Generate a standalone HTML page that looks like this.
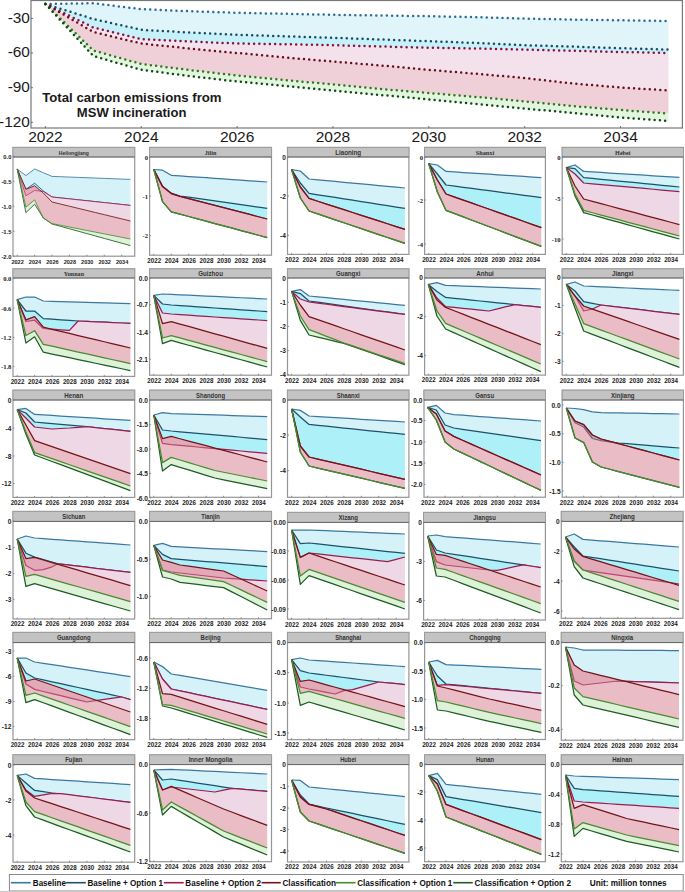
<!DOCTYPE html>
<html><head><meta charset="utf-8"><title>MSW incineration carbon emissions</title>
<style>
html,body{margin:0;padding:0;background:#fff;}
body{width:685px;height:892px;overflow:hidden;font-family:"Liberation Sans",sans-serif;}
svg{display:block;}
</style></head><body>
<svg width="685" height="892" viewBox="0 0 685 892">
<rect width="685" height="892" fill="#fff"/>
<path d="M45.4 4 L93.33 3.2 L141.26 9.2 L189.19 11.2 L237.12 12.8 L285.05 13.8 L332.98 14.8 L380.91 15.5 L428.84 16.2 L476.77 17.2 L524.7 18.6 L572.63 19.6 L620.56 20.3 L668.49 21 L668.49 49.6 L620.56 48.2 L572.63 46.6 L524.7 45.2 L476.77 43 L428.84 41.2 L380.91 39.5 L332.98 37.8 L285.05 36.3 L237.12 34.8 L189.19 32.5 L141.26 29.8 L93.33 19 L45.4 4Z" fill="#e0f5fa"/>
<path d="M45.4 4 L93.33 19 L141.26 29.8 L189.19 32.5 L237.12 34.8 L285.05 36.3 L332.98 37.8 L380.91 39.5 L428.84 41.2 L476.77 43 L524.7 45.2 L572.63 46.6 L620.56 48.2 L668.49 49.6 L668.49 53 L620.56 52 L572.63 50.8 L524.7 49.6 L476.77 48.5 L428.84 47.7 L380.91 46.5 L332.98 45.2 L285.05 44.2 L237.12 43.5 L189.19 41.5 L141.26 39.2 L93.33 27.5 L45.4 4Z" fill="#c6f1f9"/>
<path d="M45.4 4 L93.33 27.5 L141.26 39.2 L189.19 41.5 L237.12 43.5 L285.05 44.2 L332.98 45.2 L380.91 46.5 L428.84 47.7 L476.77 48.5 L524.7 49.6 L572.63 50.8 L620.56 52 L668.49 53 L668.49 90.4 L620.56 87.5 L572.63 83.5 L524.7 78 L476.77 73.8 L428.84 69.8 L380.91 65.5 L332.98 61.5 L285.05 57.5 L237.12 53 L189.19 48.5 L141.26 43.5 L93.33 32 L45.4 4Z" fill="#f3e1ec"/>
<path d="M45.4 4 L93.33 32 L141.26 43.5 L189.19 48.5 L237.12 53 L285.05 57.5 L332.98 61.5 L380.91 65.5 L428.84 69.8 L476.77 73.8 L524.7 78 L572.63 83.5 L620.56 87.5 L668.49 90.4 L668.49 113.6 L620.56 110 L572.63 106 L524.7 101.5 L476.77 97 L428.84 93 L380.91 89 L332.98 84.5 L285.05 80 L237.12 75.5 L189.19 70 L141.26 64 L93.33 50.5 L45.4 4Z" fill="#f0d0d8"/>
<path d="M45.4 4 L93.33 50.5 L141.26 64 L189.19 70 L237.12 75.5 L285.05 80 L332.98 84.5 L380.91 89 L428.84 93 L476.77 97 L524.7 101.5 L572.63 106 L620.56 110 L668.49 113.6 L668.49 121 L620.56 117.5 L572.63 113 L524.7 108.5 L476.77 104 L428.84 99.5 L380.91 95 L332.98 90.5 L285.05 86 L237.12 81.5 L189.19 76 L141.26 69.8 L93.33 56 L45.4 4Z" fill="#e3f5df"/>
<path d="M45.4 4 L93.33 3.2 L141.26 9.2 L189.19 11.2 L237.12 12.8 L285.05 13.8 L332.98 14.8 L380.91 15.5 L428.84 16.2 L476.77 17.2 L524.7 18.6 L572.63 19.6 L620.56 20.3 L668.49 21" fill="none" stroke="#2c6c98" stroke-width="2.5" stroke-dasharray="0 5.26" stroke-linecap="round"/>
<path d="M45.4 4 L93.33 19 L141.26 29.8 L189.19 32.5 L237.12 34.8 L285.05 36.3 L332.98 37.8 L380.91 39.5 L428.84 41.2 L476.77 43 L524.7 45.2 L572.63 46.6 L620.56 48.2 L668.49 49.6" fill="none" stroke="#1a4a66" stroke-width="2.5" stroke-dasharray="0 5.26" stroke-linecap="round"/>
<path d="M45.4 4 L93.33 27.5 L141.26 39.2 L189.19 41.5 L237.12 43.5 L285.05 44.2 L332.98 45.2 L380.91 46.5 L428.84 47.7 L476.77 48.5 L524.7 49.6 L572.63 50.8 L620.56 52 L668.49 53" fill="none" stroke="#8a1040" stroke-width="2.5" stroke-dasharray="0 5.26" stroke-linecap="round"/>
<path d="M45.4 4 L93.33 32 L141.26 43.5 L189.19 48.5 L237.12 53 L285.05 57.5 L332.98 61.5 L380.91 65.5 L428.84 69.8 L476.77 73.8 L524.7 78 L572.63 83.5 L620.56 87.5 L668.49 90.4" fill="none" stroke="#6a0c1c" stroke-width="2.5" stroke-dasharray="0 5.26" stroke-linecap="round"/>
<path d="M45.4 4 L93.33 50.5 L141.26 64 L189.19 70 L237.12 75.5 L285.05 80 L332.98 84.5 L380.91 89 L428.84 93 L476.77 97 L524.7 101.5 L572.63 106 L620.56 110 L668.49 113.6" fill="none" stroke="#2a7a1a" stroke-width="2.5" stroke-dasharray="0 5.26" stroke-linecap="round"/>
<path d="M45.4 4 L93.33 56 L141.26 69.8 L189.19 76 L237.12 81.5 L285.05 86 L332.98 90.5 L380.91 95 L428.84 99.5 L476.77 104 L524.7 108.5 L572.63 113 L620.56 117.5 L668.49 121" fill="none" stroke="#0e4a14" stroke-width="2.5" stroke-dasharray="0 5.26" stroke-linecap="round"/>
<rect x="31" y="0.5" width="651.4" height="127.5" fill="none" stroke="#777" stroke-width="1.2"/>
<line x1="31" y1="18.4" x2="33" y2="18.4" stroke="#555" stroke-width="0.8"/>
<text x="29.9" y="22.6" text-anchor="end" font-family="Liberation Sans" font-size="15.4" fill="#1a1a1a">-30</text>
<line x1="31" y1="53.0" x2="33" y2="53.0" stroke="#555" stroke-width="0.8"/>
<text x="29.9" y="57.2" text-anchor="end" font-family="Liberation Sans" font-size="15.4" fill="#1a1a1a">-60</text>
<line x1="31" y1="87.7" x2="33" y2="87.7" stroke="#555" stroke-width="0.8"/>
<text x="29.9" y="91.9" text-anchor="end" font-family="Liberation Sans" font-size="15.4" fill="#1a1a1a">-90</text>
<line x1="31" y1="122.3" x2="33" y2="122.3" stroke="#555" stroke-width="0.8"/>
<text x="29.9" y="126.5" text-anchor="end" font-family="Liberation Sans" font-size="15.4" fill="#1a1a1a">-120</text>
<line x1="45.4" y1="128" x2="45.4" y2="126" stroke="#555" stroke-width="0.8"/>
<text x="45.4" y="142.2" text-anchor="middle" font-family="Liberation Sans" font-size="15.5" fill="#1a1a1a">2022</text>
<line x1="141.26" y1="128" x2="141.26" y2="126" stroke="#555" stroke-width="0.8"/>
<text x="141.26" y="142.2" text-anchor="middle" font-family="Liberation Sans" font-size="15.5" fill="#1a1a1a">2024</text>
<line x1="237.12" y1="128" x2="237.12" y2="126" stroke="#555" stroke-width="0.8"/>
<text x="237.12" y="142.2" text-anchor="middle" font-family="Liberation Sans" font-size="15.5" fill="#1a1a1a">2026</text>
<line x1="332.98" y1="128" x2="332.98" y2="126" stroke="#555" stroke-width="0.8"/>
<text x="332.98" y="142.2" text-anchor="middle" font-family="Liberation Sans" font-size="15.5" fill="#1a1a1a">2028</text>
<line x1="428.84" y1="128" x2="428.84" y2="126" stroke="#555" stroke-width="0.8"/>
<text x="428.84" y="142.2" text-anchor="middle" font-family="Liberation Sans" font-size="15.5" fill="#1a1a1a">2030</text>
<line x1="524.7" y1="128" x2="524.7" y2="126" stroke="#555" stroke-width="0.8"/>
<text x="524.7" y="142.2" text-anchor="middle" font-family="Liberation Sans" font-size="15.5" fill="#1a1a1a">2032</text>
<line x1="620.56" y1="128" x2="620.56" y2="126" stroke="#555" stroke-width="0.8"/>
<text x="620.56" y="142.2" text-anchor="middle" font-family="Liberation Sans" font-size="15.5" fill="#1a1a1a">2034</text>
<text x="42.2" y="101.6" font-family="Liberation Sans" font-weight="bold" font-size="13" fill="#1a1a1a" textLength="179.4" lengthAdjust="spacingAndGlyphs">Total carbon emissions from</text>
<text x="76.8" y="116.8" font-family="Liberation Sans" font-weight="bold" font-size="13" fill="#1a1a1a" textLength="109.6" lengthAdjust="spacingAndGlyphs">MSW incineration</text>
<path d="M17.2 169 L25.91 175.6 L34.62 169 L43.32 172.7 L52.03 176.4 L60.74 176.73 L69.45 177.07 L78.15 177.4 L86.86 177.73 L95.57 178.07 L104.28 178.4 L112.98 178.73 L121.69 179.07 L130.4 179.4 L130.4 205.4 L121.69 204.47 L112.98 203.53 L104.28 202.6 L95.57 201.67 L86.86 200.73 L78.15 199.8 L69.45 198.87 L60.74 197.93 L52.03 197 L43.32 191 L34.62 183.2 L25.91 189.3 L17.2 169Z" fill="#abe5f1" fill-opacity="0.5"/>
<path d="M17.2 169 L25.91 175.6 L34.62 169 L43.32 172.7 L52.03 176.4 L60.74 176.73 L69.45 177.07 L78.15 177.4 L86.86 177.73 L95.57 178.07 L104.28 178.4 L112.98 178.73 L121.69 179.07 L130.4 179.4" fill="none" stroke="#3a78a0" stroke-width="0.85" stroke-linejoin="round"/>
<path d="M17.2 169 L25.91 189.3 L34.62 183.2 L43.32 191 L52.03 197 L60.74 197.93 L69.45 198.87 L78.15 199.8 L86.86 200.73 L95.57 201.67 L104.28 202.6 L112.98 203.53 L121.69 204.47 L130.4 205.4 L130.4 205.4 L121.69 204.47 L112.98 203.53 L104.28 202.6 L95.57 201.67 L86.86 200.73 L78.15 199.8 L69.45 198.87 L60.74 197.93 L52.03 197 L43.32 191.4 L34.62 190.5 L25.91 195.8 L17.2 169Z" fill="#5de1f1" fill-opacity="0.5"/>
<path d="M17.2 169 L25.91 189.3 L34.62 183.2 L43.32 191 L52.03 197 L60.74 197.93 L69.45 198.87 L78.15 199.8 L86.86 200.73 L95.57 201.67 L104.28 202.6 L112.98 203.53 L121.69 204.47 L130.4 205.4" fill="none" stroke="#1e5068" stroke-width="0.85" stroke-linejoin="round"/>
<path d="M17.2 169 L25.91 195.8 L34.62 190.5 L43.32 191.4 L52.03 197 L60.74 197.93 L69.45 198.87 L78.15 199.8 L86.86 200.73 L95.57 201.67 L104.28 202.6 L112.98 203.53 L121.69 204.47 L130.4 205.4 L130.4 221 L121.69 218.89 L112.98 216.78 L104.28 214.67 L95.57 212.56 L86.86 210.44 L78.15 208.33 L69.45 206.22 L60.74 204.11 L52.03 202 L43.32 193 L34.62 185.8 L25.91 189.3 L17.2 169Z" fill="#eed8e6"/>
<path d="M17.2 169 L25.91 195.8 L34.62 190.5 L43.32 191.4 L52.03 197 L60.74 197.93 L69.45 198.87 L78.15 199.8 L86.86 200.73 L95.57 201.67 L104.28 202.6 L112.98 203.53 L121.69 204.47 L130.4 205.4" fill="none" stroke="#9c1a50" stroke-width="0.85" stroke-linejoin="round"/>
<path d="M17.2 169 L25.91 189.3 L34.62 185.8 L43.32 193 L52.03 202 L60.74 204.11 L69.45 206.22 L78.15 208.33 L86.86 210.44 L95.57 212.56 L104.28 214.67 L112.98 216.78 L121.69 218.89 L130.4 221 L130.4 239 L121.69 237.29 L112.98 235.58 L104.28 233.87 L95.57 232.16 L86.86 230.44 L78.15 228.73 L69.45 227.02 L60.74 225.31 L52.03 223.6 L43.32 218 L34.62 199.9 L25.91 207.2 L17.2 169Z" fill="#d5798b" fill-opacity="0.5"/>
<path d="M17.2 169 L25.91 189.3 L34.62 185.8 L43.32 193 L52.03 202 L60.74 204.11 L69.45 206.22 L78.15 208.33 L86.86 210.44 L95.57 212.56 L104.28 214.67 L112.98 216.78 L121.69 218.89 L130.4 221" fill="none" stroke="#741418" stroke-width="0.85" stroke-linejoin="round"/>
<path d="M17.2 169 L25.91 207.2 L34.62 199.9 L43.32 218 L52.03 223.6 L60.74 225.31 L69.45 227.02 L78.15 228.73 L86.86 230.44 L95.57 232.16 L104.28 233.87 L112.98 235.58 L121.69 237.29 L130.4 239 L130.4 245.6 L121.69 243.2 L112.98 240.8 L104.28 238.4 L95.57 236 L86.86 233.6 L78.15 231.2 L69.45 228.8 L60.74 226.4 L52.03 224 L43.32 218 L34.62 204.2 L25.91 212.7 L17.2 169Z" fill="#bbe5b1" fill-opacity="0.5"/>
<path d="M17.2 169 L25.91 212.7 L34.62 204.2 L43.32 218 L52.03 224 L60.74 226.4 L69.45 228.8 L78.15 231.2 L86.86 233.6 L95.57 236 L104.28 238.4 L112.98 240.8 L121.69 243.2 L130.4 245.6" fill="none" stroke="#1e5c24" stroke-width="0.85" stroke-linejoin="round"/>
<path d="M17.2 169 L25.91 207.2 L34.62 199.9 L43.32 218 L52.03 223.6 L60.74 225.31 L69.45 227.02 L78.15 228.73 L86.86 230.44 L95.57 232.16 L104.28 233.87 L112.98 235.58 L121.69 237.29 L130.4 239" fill="none" stroke="#4a8a30" stroke-width="0.85" stroke-linejoin="round"/>
<rect x="13" y="147.4" width="121.7" height="108.8" fill="none" stroke="#959595" stroke-width="1.2"/>
<rect x="13" y="147.4" width="121.7" height="9.6" fill="#c3c3c3" stroke="#9a9a9a" stroke-width="0.8"/>
<line x1="13" y1="157" x2="134.7" y2="157" stroke="#666" stroke-width="1"/>
<text x="73.85" y="154.8" text-anchor="middle" font-family="Liberation Sans" font-weight="bold" font-size="6" fill="#333" textLength="30.1" lengthAdjust="spacingAndGlyphs">Heilongjiang</text>
<line x1="13" y1="156.2" x2="14.5" y2="156.2" stroke="#777" stroke-width="0.8"/>
<text x="11.4" y="159" text-anchor="end" font-family="Liberation Sans" font-weight="bold" font-size="5.8" fill="#222">0.0</text>
<line x1="13" y1="181.2" x2="14.5" y2="181.2" stroke="#777" stroke-width="0.8"/>
<text x="11.4" y="184" text-anchor="end" font-family="Liberation Sans" font-weight="bold" font-size="5.8" fill="#222">-0.5</text>
<line x1="13" y1="206.2" x2="14.5" y2="206.2" stroke="#777" stroke-width="0.8"/>
<text x="11.4" y="209" text-anchor="end" font-family="Liberation Sans" font-weight="bold" font-size="5.8" fill="#222">-1.0</text>
<line x1="13" y1="231.3" x2="14.5" y2="231.3" stroke="#777" stroke-width="0.8"/>
<text x="11.4" y="234.1" text-anchor="end" font-family="Liberation Sans" font-weight="bold" font-size="5.8" fill="#222">-1.5</text>
<line x1="13" y1="256.2" x2="14.5" y2="256.2" stroke="#777" stroke-width="0.8"/>
<text x="11.4" y="259" text-anchor="end" font-family="Liberation Sans" font-weight="bold" font-size="5.8" fill="#222">-2.0</text>
<line x1="17.2" y1="256.2" x2="17.2" y2="254.7" stroke="#777" stroke-width="0.8"/>
<text x="17.6" y="263.5" text-anchor="middle" font-family="Liberation Sans" font-weight="bold" font-size="6.2" fill="#222" textLength="12.3" lengthAdjust="spacingAndGlyphs">2022</text>
<line x1="34.62" y1="256.2" x2="34.62" y2="254.7" stroke="#777" stroke-width="0.8"/>
<text x="35.02" y="263.5" text-anchor="middle" font-family="Liberation Sans" font-weight="bold" font-size="6.2" fill="#222" textLength="12.3" lengthAdjust="spacingAndGlyphs">2024</text>
<line x1="52.03" y1="256.2" x2="52.03" y2="254.7" stroke="#777" stroke-width="0.8"/>
<text x="52.43" y="263.5" text-anchor="middle" font-family="Liberation Sans" font-weight="bold" font-size="6.2" fill="#222" textLength="12.3" lengthAdjust="spacingAndGlyphs">2026</text>
<line x1="69.45" y1="256.2" x2="69.45" y2="254.7" stroke="#777" stroke-width="0.8"/>
<text x="69.85" y="263.5" text-anchor="middle" font-family="Liberation Sans" font-weight="bold" font-size="6.2" fill="#222" textLength="12.3" lengthAdjust="spacingAndGlyphs">2028</text>
<line x1="86.86" y1="256.2" x2="86.86" y2="254.7" stroke="#777" stroke-width="0.8"/>
<text x="87.26" y="263.5" text-anchor="middle" font-family="Liberation Sans" font-weight="bold" font-size="6.2" fill="#222" textLength="12.3" lengthAdjust="spacingAndGlyphs">2030</text>
<line x1="104.28" y1="256.2" x2="104.28" y2="254.7" stroke="#777" stroke-width="0.8"/>
<text x="104.68" y="263.5" text-anchor="middle" font-family="Liberation Sans" font-weight="bold" font-size="6.2" fill="#222" textLength="12.3" lengthAdjust="spacingAndGlyphs">2032</text>
<line x1="121.69" y1="256.2" x2="121.69" y2="254.7" stroke="#777" stroke-width="0.8"/>
<text x="122.09" y="263.5" text-anchor="middle" font-family="Liberation Sans" font-weight="bold" font-size="6.2" fill="#222" textLength="12.3" lengthAdjust="spacingAndGlyphs">2034</text>
<path d="M153.8 169.5 L162.52 170.2 L171.25 175.3 L179.97 175.91 L188.69 176.52 L197.42 177.13 L206.14 177.74 L214.86 178.35 L223.58 178.95 L232.31 179.56 L241.03 180.17 L249.75 180.78 L258.48 181.39 L267.2 182 L267.2 208.4 L258.48 207.16 L249.75 205.92 L241.03 204.68 L232.31 203.44 L223.58 202.2 L214.86 200.96 L206.14 199.72 L197.42 198.48 L188.69 197.24 L179.97 196 L171.25 193.2 L162.52 186.3 L153.8 169.5Z" fill="#abe5f1" fill-opacity="0.5"/>
<path d="M153.8 169.5 L162.52 170.2 L171.25 175.3 L179.97 175.91 L188.69 176.52 L197.42 177.13 L206.14 177.74 L214.86 178.35 L223.58 178.95 L232.31 179.56 L241.03 180.17 L249.75 180.78 L258.48 181.39 L267.2 182" fill="none" stroke="#3a78a0" stroke-width="1.25" stroke-linejoin="round"/>
<path d="M153.8 169.5 L162.52 186.3 L171.25 193.2 L179.97 196 L188.69 197.24 L197.42 198.48 L206.14 199.72 L214.86 200.96 L223.58 202.2 L232.31 203.44 L241.03 204.68 L249.75 205.92 L258.48 207.16 L267.2 208.4 L267.2 219 L258.48 216.73 L249.75 214.46 L241.03 212.19 L232.31 209.92 L223.58 207.65 L214.86 205.38 L206.14 203.11 L197.42 200.84 L188.69 198.57 L179.97 196.3 L171.25 193.6 L162.52 186.6 L153.8 169.5Z" fill="#5de1f1" fill-opacity="0.5"/>
<path d="M153.8 169.5 L162.52 186.3 L171.25 193.2 L179.97 196 L188.69 197.24 L197.42 198.48 L206.14 199.72 L214.86 200.96 L223.58 202.2 L232.31 203.44 L241.03 204.68 L249.75 205.92 L258.48 207.16 L267.2 208.4" fill="none" stroke="#1e5068" stroke-width="1.25" stroke-linejoin="round"/>
<path d="M153.8 169.5 L162.52 186.6 L171.25 193.6 L179.97 196.3 L188.69 198.57 L197.42 200.84 L206.14 203.11 L214.86 205.38 L223.58 207.65 L232.31 209.92 L241.03 212.19 L249.75 214.46 L258.48 216.73 L267.2 219 L267.2 219 L258.48 216.73 L249.75 214.46 L241.03 212.19 L232.31 209.92 L223.58 207.65 L214.86 205.38 L206.14 203.11 L197.42 200.84 L188.69 198.57 L179.97 196.3 L171.25 193.6 L162.52 186.6 L153.8 169.5Z" fill="#eed8e6"/>
<path d="M153.8 169.5 L162.52 186.6 L171.25 193.6 L179.97 196.3 L188.69 198.57 L197.42 200.84 L206.14 203.11 L214.86 205.38 L223.58 207.65 L232.31 209.92 L241.03 212.19 L249.75 214.46 L258.48 216.73 L267.2 219" fill="none" stroke="#9c1a50" stroke-width="1.25" stroke-linejoin="round"/>
<path d="M153.8 169.5 L162.52 186.6 L171.25 193.6 L179.97 196.3 L188.69 198.57 L197.42 200.84 L206.14 203.11 L214.86 205.38 L223.58 207.65 L232.31 209.92 L241.03 212.19 L249.75 214.46 L258.48 216.73 L267.2 219 L267.2 237.6 L258.48 235.25 L249.75 232.91 L241.03 230.56 L232.31 228.22 L223.58 225.87 L214.86 223.53 L206.14 221.18 L197.42 218.84 L188.69 216.49 L179.97 214.15 L171.25 211.8 L162.52 201.6 L153.8 169.5Z" fill="#d5798b" fill-opacity="0.5"/>
<path d="M153.8 169.5 L162.52 186.6 L171.25 193.6 L179.97 196.3 L188.69 198.57 L197.42 200.84 L206.14 203.11 L214.86 205.38 L223.58 207.65 L232.31 209.92 L241.03 212.19 L249.75 214.46 L258.48 216.73 L267.2 219" fill="none" stroke="#741418" stroke-width="1.25" stroke-linejoin="round"/>
<path d="M153.8 169.5 L162.52 201.6 L171.25 211.8 L179.97 214.15 L188.69 216.49 L197.42 218.84 L206.14 221.18 L214.86 223.53 L223.58 225.87 L232.31 228.22 L241.03 230.56 L249.75 232.91 L258.48 235.25 L267.2 237.6 L267.2 237.6 L258.48 235.25 L249.75 232.91 L241.03 230.56 L232.31 228.22 L223.58 225.87 L214.86 223.53 L206.14 221.18 L197.42 218.84 L188.69 216.49 L179.97 214.15 L171.25 211.8 L162.52 201.6 L153.8 169.5Z" fill="#bbe5b1" fill-opacity="0.5"/>
<path d="M153.8 169.5 L162.52 201.6 L171.25 211.8 L179.97 214.15 L188.69 216.49 L197.42 218.84 L206.14 221.18 L214.86 223.53 L223.58 225.87 L232.31 228.22 L241.03 230.56 L249.75 232.91 L258.48 235.25 L267.2 237.6" fill="none" stroke="#1e5c24" stroke-width="1.25" stroke-linejoin="round"/>
<path d="M153.8 169.5 L162.52 201.6 L171.25 211.8 L179.97 214.15 L188.69 216.49 L197.42 218.84 L206.14 221.18 L214.86 223.53 L223.58 225.87 L232.31 228.22 L241.03 230.56 L249.75 232.91 L258.48 235.25 L267.2 237.6" fill="none" stroke="#4a8a30" stroke-width="1.25" stroke-linejoin="round"/>
<rect x="149.6" y="147.4" width="121.9" height="107.8" fill="none" stroke="#959595" stroke-width="1.2"/>
<rect x="149.6" y="147.4" width="121.9" height="9.6" fill="#c3c3c3" stroke="#9a9a9a" stroke-width="0.8"/>
<line x1="149.6" y1="157" x2="271.5" y2="157" stroke="#666" stroke-width="1"/>
<text x="210.55" y="154.8" text-anchor="middle" font-family="Liberation Serif" font-weight="bold" font-size="6.6" fill="#333" textLength="11.6" lengthAdjust="spacingAndGlyphs">Jilin</text>
<line x1="149.6" y1="157" x2="151.1" y2="157" stroke="#777" stroke-width="0.8"/>
<text x="148" y="159.8" text-anchor="end" font-family="Liberation Serif" font-weight="bold" font-size="6.6" fill="#222">0</text>
<line x1="149.6" y1="196" x2="151.1" y2="196" stroke="#777" stroke-width="0.8"/>
<text x="148" y="198.8" text-anchor="end" font-family="Liberation Serif" font-weight="bold" font-size="6.6" fill="#222">-1</text>
<line x1="149.6" y1="235.6" x2="151.1" y2="235.6" stroke="#777" stroke-width="0.8"/>
<text x="148" y="238.4" text-anchor="end" font-family="Liberation Serif" font-weight="bold" font-size="6.6" fill="#222">-2</text>
<line x1="153.8" y1="255.2" x2="153.8" y2="253.7" stroke="#777" stroke-width="0.8"/>
<text x="154.2" y="262.5" text-anchor="middle" font-family="Liberation Sans" font-weight="bold" font-size="7.6" fill="#222" textLength="13.9" lengthAdjust="spacingAndGlyphs">2022</text>
<line x1="171.25" y1="255.2" x2="171.25" y2="253.7" stroke="#777" stroke-width="0.8"/>
<text x="171.65" y="262.5" text-anchor="middle" font-family="Liberation Sans" font-weight="bold" font-size="7.6" fill="#222" textLength="13.9" lengthAdjust="spacingAndGlyphs">2024</text>
<line x1="188.69" y1="255.2" x2="188.69" y2="253.7" stroke="#777" stroke-width="0.8"/>
<text x="189.09" y="262.5" text-anchor="middle" font-family="Liberation Sans" font-weight="bold" font-size="7.6" fill="#222" textLength="13.9" lengthAdjust="spacingAndGlyphs">2026</text>
<line x1="206.14" y1="255.2" x2="206.14" y2="253.7" stroke="#777" stroke-width="0.8"/>
<text x="206.54" y="262.5" text-anchor="middle" font-family="Liberation Sans" font-weight="bold" font-size="7.6" fill="#222" textLength="13.9" lengthAdjust="spacingAndGlyphs">2028</text>
<line x1="223.58" y1="255.2" x2="223.58" y2="253.7" stroke="#777" stroke-width="0.8"/>
<text x="223.98" y="262.5" text-anchor="middle" font-family="Liberation Sans" font-weight="bold" font-size="7.6" fill="#222" textLength="13.9" lengthAdjust="spacingAndGlyphs">2030</text>
<line x1="241.03" y1="255.2" x2="241.03" y2="253.7" stroke="#777" stroke-width="0.8"/>
<text x="241.43" y="262.5" text-anchor="middle" font-family="Liberation Sans" font-weight="bold" font-size="7.6" fill="#222" textLength="13.9" lengthAdjust="spacingAndGlyphs">2032</text>
<line x1="258.48" y1="255.2" x2="258.48" y2="253.7" stroke="#777" stroke-width="0.8"/>
<text x="258.88" y="262.5" text-anchor="middle" font-family="Liberation Sans" font-weight="bold" font-size="7.6" fill="#222" textLength="13.9" lengthAdjust="spacingAndGlyphs">2034</text>
<path d="M291.6 169.6 L300.32 171 L309.03 179 L317.75 179.82 L326.46 180.64 L335.18 181.45 L343.89 182.27 L352.61 183.09 L361.32 183.91 L370.04 184.73 L378.75 185.55 L387.47 186.36 L396.18 187.18 L404.9 188 L404.9 208.4 L396.18 207.04 L387.47 205.67 L378.75 204.31 L370.04 202.95 L361.32 201.58 L352.61 200.22 L343.89 198.85 L335.18 197.49 L326.46 196.13 L317.75 194.76 L309.03 193.4 L300.32 183 L291.6 169.6Z" fill="#abe5f1" fill-opacity="0.5"/>
<path d="M291.6 169.6 L300.32 171 L309.03 179 L317.75 179.82 L326.46 180.64 L335.18 181.45 L343.89 182.27 L352.61 183.09 L361.32 183.91 L370.04 184.73 L378.75 185.55 L387.47 186.36 L396.18 187.18 L404.9 188" fill="none" stroke="#3a78a0" stroke-width="1.25" stroke-linejoin="round"/>
<path d="M291.6 169.6 L300.32 183 L309.03 193.4 L317.75 194.76 L326.46 196.13 L335.18 197.49 L343.89 198.85 L352.61 200.22 L361.32 201.58 L370.04 202.95 L378.75 204.31 L387.47 205.67 L396.18 207.04 L404.9 208.4 L404.9 229.4 L396.18 226.58 L387.47 223.76 L378.75 220.95 L370.04 218.13 L361.32 215.31 L352.61 212.49 L343.89 209.67 L335.18 206.85 L326.46 204.04 L317.75 201.22 L309.03 198.4 L300.32 187 L291.6 169.6Z" fill="#5de1f1" fill-opacity="0.5"/>
<path d="M291.6 169.6 L300.32 183 L309.03 193.4 L317.75 194.76 L326.46 196.13 L335.18 197.49 L343.89 198.85 L352.61 200.22 L361.32 201.58 L370.04 202.95 L378.75 204.31 L387.47 205.67 L396.18 207.04 L404.9 208.4" fill="none" stroke="#1e5068" stroke-width="1.25" stroke-linejoin="round"/>
<path d="M291.6 169.6 L300.32 187 L309.03 198.4 L317.75 201.22 L326.46 204.04 L335.18 206.85 L343.89 209.67 L352.61 212.49 L361.32 215.31 L370.04 218.13 L378.75 220.95 L387.47 223.76 L396.18 226.58 L404.9 229.4 L404.9 229.4 L396.18 226.58 L387.47 223.76 L378.75 220.95 L370.04 218.13 L361.32 215.31 L352.61 212.49 L343.89 209.67 L335.18 206.85 L326.46 204.04 L317.75 201.22 L309.03 198.4 L300.32 187 L291.6 169.6Z" fill="#eed8e6"/>
<path d="M291.6 169.6 L300.32 187 L309.03 198.4 L317.75 201.22 L326.46 204.04 L335.18 206.85 L343.89 209.67 L352.61 212.49 L361.32 215.31 L370.04 218.13 L378.75 220.95 L387.47 223.76 L396.18 226.58 L404.9 229.4" fill="none" stroke="#9c1a50" stroke-width="1.25" stroke-linejoin="round"/>
<path d="M291.6 169.6 L300.32 187 L309.03 198.4 L317.75 201.22 L326.46 204.04 L335.18 206.85 L343.89 209.67 L352.61 212.49 L361.32 215.31 L370.04 218.13 L378.75 220.95 L387.47 223.76 L396.18 226.58 L404.9 229.4 L404.9 243.4 L396.18 240.45 L387.47 237.51 L378.75 234.56 L370.04 231.62 L361.32 228.67 L352.61 225.73 L343.89 222.78 L335.18 219.84 L326.46 216.89 L317.75 213.95 L309.03 211 L300.32 198 L291.6 169.6Z" fill="#d5798b" fill-opacity="0.5"/>
<path d="M291.6 169.6 L300.32 187 L309.03 198.4 L317.75 201.22 L326.46 204.04 L335.18 206.85 L343.89 209.67 L352.61 212.49 L361.32 215.31 L370.04 218.13 L378.75 220.95 L387.47 223.76 L396.18 226.58 L404.9 229.4" fill="none" stroke="#741418" stroke-width="1.25" stroke-linejoin="round"/>
<path d="M291.6 169.6 L300.32 198 L309.03 211 L317.75 213.95 L326.46 216.89 L335.18 219.84 L343.89 222.78 L352.61 225.73 L361.32 228.67 L370.04 231.62 L378.75 234.56 L387.47 237.51 L396.18 240.45 L404.9 243.4 L404.9 243.4 L396.18 240.45 L387.47 237.51 L378.75 234.56 L370.04 231.62 L361.32 228.67 L352.61 225.73 L343.89 222.78 L335.18 219.84 L326.46 216.89 L317.75 213.95 L309.03 211 L300.32 198 L291.6 169.6Z" fill="#bbe5b1" fill-opacity="0.5"/>
<path d="M291.6 169.6 L300.32 198 L309.03 211 L317.75 213.95 L326.46 216.89 L335.18 219.84 L343.89 222.78 L352.61 225.73 L361.32 228.67 L370.04 231.62 L378.75 234.56 L387.47 237.51 L396.18 240.45 L404.9 243.4" fill="none" stroke="#1e5c24" stroke-width="1.25" stroke-linejoin="round"/>
<path d="M291.6 169.6 L300.32 198 L309.03 211 L317.75 213.95 L326.46 216.89 L335.18 219.84 L343.89 222.78 L352.61 225.73 L361.32 228.67 L370.04 231.62 L378.75 234.56 L387.47 237.51 L396.18 240.45 L404.9 243.4" fill="none" stroke="#4a8a30" stroke-width="1.25" stroke-linejoin="round"/>
<rect x="287.5" y="147.4" width="121.4" height="107" fill="none" stroke="#959595" stroke-width="1.2"/>
<rect x="287.5" y="147.4" width="121.4" height="9.6" fill="#c3c3c3" stroke="#9a9a9a" stroke-width="0.8"/>
<line x1="287.5" y1="157" x2="408.9" y2="157" stroke="#666" stroke-width="1"/>
<text x="348.2" y="154.8" text-anchor="middle" font-family="Liberation Sans" font-weight="bold" font-size="6.6" fill="#333" textLength="26" lengthAdjust="spacingAndGlyphs">Liaoning</text>
<line x1="287.5" y1="157" x2="289" y2="157" stroke="#777" stroke-width="0.8"/>
<text x="285.9" y="159.8" text-anchor="end" font-family="Liberation Sans" font-weight="bold" font-size="6.6" fill="#222">0</text>
<line x1="287.5" y1="196" x2="289" y2="196" stroke="#777" stroke-width="0.8"/>
<text x="285.9" y="198.8" text-anchor="end" font-family="Liberation Sans" font-weight="bold" font-size="6.6" fill="#222">-2</text>
<line x1="287.5" y1="235.4" x2="289" y2="235.4" stroke="#777" stroke-width="0.8"/>
<text x="285.9" y="238.2" text-anchor="end" font-family="Liberation Sans" font-weight="bold" font-size="6.6" fill="#222">-4</text>
<line x1="291.6" y1="254.4" x2="291.6" y2="252.9" stroke="#777" stroke-width="0.8"/>
<text x="292" y="261.7" text-anchor="middle" font-family="Liberation Sans" font-weight="bold" font-size="7.6" fill="#222" textLength="13.9" lengthAdjust="spacingAndGlyphs">2022</text>
<line x1="309.03" y1="254.4" x2="309.03" y2="252.9" stroke="#777" stroke-width="0.8"/>
<text x="309.43" y="261.7" text-anchor="middle" font-family="Liberation Sans" font-weight="bold" font-size="7.6" fill="#222" textLength="13.9" lengthAdjust="spacingAndGlyphs">2024</text>
<line x1="326.46" y1="254.4" x2="326.46" y2="252.9" stroke="#777" stroke-width="0.8"/>
<text x="326.86" y="261.7" text-anchor="middle" font-family="Liberation Sans" font-weight="bold" font-size="7.6" fill="#222" textLength="13.9" lengthAdjust="spacingAndGlyphs">2026</text>
<line x1="343.89" y1="254.4" x2="343.89" y2="252.9" stroke="#777" stroke-width="0.8"/>
<text x="344.29" y="261.7" text-anchor="middle" font-family="Liberation Sans" font-weight="bold" font-size="7.6" fill="#222" textLength="13.9" lengthAdjust="spacingAndGlyphs">2028</text>
<line x1="361.32" y1="254.4" x2="361.32" y2="252.9" stroke="#777" stroke-width="0.8"/>
<text x="361.72" y="261.7" text-anchor="middle" font-family="Liberation Sans" font-weight="bold" font-size="7.6" fill="#222" textLength="13.9" lengthAdjust="spacingAndGlyphs">2030</text>
<line x1="378.75" y1="254.4" x2="378.75" y2="252.9" stroke="#777" stroke-width="0.8"/>
<text x="379.15" y="261.7" text-anchor="middle" font-family="Liberation Sans" font-weight="bold" font-size="7.6" fill="#222" textLength="13.9" lengthAdjust="spacingAndGlyphs">2032</text>
<line x1="396.18" y1="254.4" x2="396.18" y2="252.9" stroke="#777" stroke-width="0.8"/>
<text x="396.58" y="261.7" text-anchor="middle" font-family="Liberation Sans" font-weight="bold" font-size="7.6" fill="#222" textLength="13.9" lengthAdjust="spacingAndGlyphs">2034</text>
<path d="M428.7 163.6 L437.36 165 L446.02 171.4 L454.68 171.96 L463.35 172.53 L472.01 173.09 L480.67 173.65 L489.33 174.22 L497.99 174.78 L506.65 175.35 L515.32 175.91 L523.98 176.47 L532.64 177.04 L541.3 177.6 L541.3 197.6 L532.64 196.45 L523.98 195.31 L515.32 194.16 L506.65 193.02 L497.99 191.87 L489.33 190.73 L480.67 189.58 L472.01 188.44 L463.35 187.29 L454.68 186.15 L446.02 185 L437.36 174 L428.7 163.6Z" fill="#abe5f1" fill-opacity="0.5"/>
<path d="M428.7 163.6 L437.36 165 L446.02 171.4 L454.68 171.96 L463.35 172.53 L472.01 173.09 L480.67 173.65 L489.33 174.22 L497.99 174.78 L506.65 175.35 L515.32 175.91 L523.98 176.47 L532.64 177.04 L541.3 177.6" fill="none" stroke="#3a78a0" stroke-width="1.25" stroke-linejoin="round"/>
<path d="M428.7 163.6 L437.36 174 L446.02 185 L454.68 186.15 L463.35 187.29 L472.01 188.44 L480.67 189.58 L489.33 190.73 L497.99 191.87 L506.65 193.02 L515.32 194.16 L523.98 195.31 L532.64 196.45 L541.3 197.6 L541.3 227.6 L532.64 224.55 L523.98 221.49 L515.32 218.44 L506.65 215.38 L497.99 212.33 L489.33 209.27 L480.67 206.22 L472.01 203.16 L463.35 200.11 L454.68 197.05 L446.02 194 L437.36 180 L428.7 163.6Z" fill="#5de1f1" fill-opacity="0.5"/>
<path d="M428.7 163.6 L437.36 174 L446.02 185 L454.68 186.15 L463.35 187.29 L472.01 188.44 L480.67 189.58 L489.33 190.73 L497.99 191.87 L506.65 193.02 L515.32 194.16 L523.98 195.31 L532.64 196.45 L541.3 197.6" fill="none" stroke="#1e5068" stroke-width="1.25" stroke-linejoin="round"/>
<path d="M428.7 163.6 L437.36 180 L446.02 194 L454.68 197.05 L463.35 200.11 L472.01 203.16 L480.67 206.22 L489.33 209.27 L497.99 212.33 L506.65 215.38 L515.32 218.44 L523.98 221.49 L532.64 224.55 L541.3 227.6 L541.3 227.6 L532.64 224.55 L523.98 221.49 L515.32 218.44 L506.65 215.38 L497.99 212.33 L489.33 209.27 L480.67 206.22 L472.01 203.16 L463.35 200.11 L454.68 197.05 L446.02 194 L437.36 180 L428.7 163.6Z" fill="#eed8e6"/>
<path d="M428.7 163.6 L437.36 180 L446.02 194 L454.68 197.05 L463.35 200.11 L472.01 203.16 L480.67 206.22 L489.33 209.27 L497.99 212.33 L506.65 215.38 L515.32 218.44 L523.98 221.49 L532.64 224.55 L541.3 227.6" fill="none" stroke="#9c1a50" stroke-width="1.25" stroke-linejoin="round"/>
<path d="M428.7 163.6 L437.36 180 L446.02 194 L454.68 197.05 L463.35 200.11 L472.01 203.16 L480.67 206.22 L489.33 209.27 L497.99 212.33 L506.65 215.38 L515.32 218.44 L523.98 221.49 L532.64 224.55 L541.3 227.6 L541.3 246.4 L532.64 243.13 L523.98 239.85 L515.32 236.58 L506.65 233.31 L497.99 230.04 L489.33 226.76 L480.67 223.49 L472.01 220.22 L463.35 216.95 L454.68 213.67 L446.02 210.4 L437.36 192 L428.7 163.6Z" fill="#d5798b" fill-opacity="0.5"/>
<path d="M428.7 163.6 L437.36 180 L446.02 194 L454.68 197.05 L463.35 200.11 L472.01 203.16 L480.67 206.22 L489.33 209.27 L497.99 212.33 L506.65 215.38 L515.32 218.44 L523.98 221.49 L532.64 224.55 L541.3 227.6" fill="none" stroke="#741418" stroke-width="1.25" stroke-linejoin="round"/>
<path d="M428.7 163.6 L437.36 192 L446.02 210.4 L454.68 213.67 L463.35 216.95 L472.01 220.22 L480.67 223.49 L489.33 226.76 L497.99 230.04 L506.65 233.31 L515.32 236.58 L523.98 239.85 L532.64 243.13 L541.3 246.4 L541.3 246.4 L532.64 243.13 L523.98 239.85 L515.32 236.58 L506.65 233.31 L497.99 230.04 L489.33 226.76 L480.67 223.49 L472.01 220.22 L463.35 216.95 L454.68 213.67 L446.02 210.4 L437.36 192 L428.7 163.6Z" fill="#bbe5b1" fill-opacity="0.5"/>
<path d="M428.7 163.6 L437.36 192 L446.02 210.4 L454.68 213.67 L463.35 216.95 L472.01 220.22 L480.67 223.49 L489.33 226.76 L497.99 230.04 L506.65 233.31 L515.32 236.58 L523.98 239.85 L532.64 243.13 L541.3 246.4" fill="none" stroke="#1e5c24" stroke-width="1.25" stroke-linejoin="round"/>
<path d="M428.7 163.6 L437.36 192 L446.02 210.4 L454.68 213.67 L463.35 216.95 L472.01 220.22 L480.67 223.49 L489.33 226.76 L497.99 230.04 L506.65 233.31 L515.32 236.58 L523.98 239.85 L532.64 243.13 L541.3 246.4" fill="none" stroke="#4a8a30" stroke-width="1.25" stroke-linejoin="round"/>
<rect x="424.6" y="147.4" width="120.8" height="107" fill="none" stroke="#959595" stroke-width="1.2"/>
<rect x="424.6" y="147.4" width="120.8" height="9.6" fill="#c3c3c3" stroke="#9a9a9a" stroke-width="0.8"/>
<line x1="424.6" y1="157" x2="545.4" y2="157" stroke="#666" stroke-width="1"/>
<text x="485" y="154.8" text-anchor="middle" font-family="Liberation Serif" font-weight="bold" font-size="6.6" fill="#333" textLength="18.6" lengthAdjust="spacingAndGlyphs">Shanxi</text>
<line x1="424.6" y1="157" x2="426.1" y2="157" stroke="#777" stroke-width="0.8"/>
<text x="423" y="159.8" text-anchor="end" font-family="Liberation Serif" font-weight="bold" font-size="6.6" fill="#222">0</text>
<line x1="424.6" y1="200" x2="426.1" y2="200" stroke="#777" stroke-width="0.8"/>
<text x="423" y="202.8" text-anchor="end" font-family="Liberation Serif" font-weight="bold" font-size="6.6" fill="#222">-2</text>
<line x1="424.6" y1="244" x2="426.1" y2="244" stroke="#777" stroke-width="0.8"/>
<text x="423" y="246.8" text-anchor="end" font-family="Liberation Serif" font-weight="bold" font-size="6.6" fill="#222">-4</text>
<line x1="428.7" y1="254.4" x2="428.7" y2="252.9" stroke="#777" stroke-width="0.8"/>
<text x="429.1" y="261.7" text-anchor="middle" font-family="Liberation Sans" font-weight="bold" font-size="7.6" fill="#222" textLength="13.9" lengthAdjust="spacingAndGlyphs">2022</text>
<line x1="446.02" y1="254.4" x2="446.02" y2="252.9" stroke="#777" stroke-width="0.8"/>
<text x="446.42" y="261.7" text-anchor="middle" font-family="Liberation Sans" font-weight="bold" font-size="7.6" fill="#222" textLength="13.9" lengthAdjust="spacingAndGlyphs">2024</text>
<line x1="463.35" y1="254.4" x2="463.35" y2="252.9" stroke="#777" stroke-width="0.8"/>
<text x="463.75" y="261.7" text-anchor="middle" font-family="Liberation Sans" font-weight="bold" font-size="7.6" fill="#222" textLength="13.9" lengthAdjust="spacingAndGlyphs">2026</text>
<line x1="480.67" y1="254.4" x2="480.67" y2="252.9" stroke="#777" stroke-width="0.8"/>
<text x="481.07" y="261.7" text-anchor="middle" font-family="Liberation Sans" font-weight="bold" font-size="7.6" fill="#222" textLength="13.9" lengthAdjust="spacingAndGlyphs">2028</text>
<line x1="497.99" y1="254.4" x2="497.99" y2="252.9" stroke="#777" stroke-width="0.8"/>
<text x="498.39" y="261.7" text-anchor="middle" font-family="Liberation Sans" font-weight="bold" font-size="7.6" fill="#222" textLength="13.9" lengthAdjust="spacingAndGlyphs">2030</text>
<line x1="515.32" y1="254.4" x2="515.32" y2="252.9" stroke="#777" stroke-width="0.8"/>
<text x="515.72" y="261.7" text-anchor="middle" font-family="Liberation Sans" font-weight="bold" font-size="7.6" fill="#222" textLength="13.9" lengthAdjust="spacingAndGlyphs">2032</text>
<line x1="532.64" y1="254.4" x2="532.64" y2="252.9" stroke="#777" stroke-width="0.8"/>
<text x="533.04" y="261.7" text-anchor="middle" font-family="Liberation Sans" font-weight="bold" font-size="7.6" fill="#222" textLength="13.9" lengthAdjust="spacingAndGlyphs">2034</text>
<path d="M566.3 167.6 L575 165 L583.7 171.4 L592.4 171.95 L601.1 172.49 L609.8 173.04 L618.5 173.58 L627.2 174.13 L635.9 174.67 L644.6 175.22 L653.3 175.76 L662 176.31 L670.7 176.85 L679.4 177.4 L679.4 187 L670.7 186.15 L662 185.29 L653.3 184.44 L644.6 183.58 L635.9 182.73 L627.2 181.87 L618.5 181.02 L609.8 180.16 L601.1 179.31 L592.4 178.45 L583.7 177.6 L575 168.6 L566.3 167.6Z" fill="#abe5f1" fill-opacity="0.5"/>
<path d="M566.3 167.6 L575 165 L583.7 171.4 L592.4 171.95 L601.1 172.49 L609.8 173.04 L618.5 173.58 L627.2 174.13 L635.9 174.67 L644.6 175.22 L653.3 175.76 L662 176.31 L670.7 176.85 L679.4 177.4" fill="none" stroke="#3a78a0" stroke-width="1.25" stroke-linejoin="round"/>
<path d="M566.3 167.6 L575 168.6 L583.7 177.6 L592.4 178.45 L601.1 179.31 L609.8 180.16 L618.5 181.02 L627.2 181.87 L635.9 182.73 L644.6 183.58 L653.3 184.44 L662 185.29 L670.7 186.15 L679.4 187 L679.4 191.6 L670.7 190.82 L662 190.04 L653.3 189.25 L644.6 188.47 L635.9 187.69 L627.2 186.91 L618.5 186.13 L609.8 185.35 L601.1 184.56 L592.4 183.78 L583.7 183 L575 174 L566.3 167.6Z" fill="#5de1f1" fill-opacity="0.5"/>
<path d="M566.3 167.6 L575 168.6 L583.7 177.6 L592.4 178.45 L601.1 179.31 L609.8 180.16 L618.5 181.02 L627.2 181.87 L635.9 182.73 L644.6 183.58 L653.3 184.44 L662 185.29 L670.7 186.15 L679.4 187" fill="none" stroke="#1e5068" stroke-width="1.25" stroke-linejoin="round"/>
<path d="M566.3 167.6 L575 174 L583.7 183 L592.4 183.78 L601.1 184.56 L609.8 185.35 L618.5 186.13 L627.2 186.91 L635.9 187.69 L644.6 188.47 L653.3 189.25 L662 190.04 L670.7 190.82 L679.4 191.6 L679.4 224.6 L670.7 222.27 L662 219.95 L653.3 217.62 L644.6 215.29 L635.9 212.96 L627.2 210.64 L618.5 208.31 L609.8 205.98 L601.1 203.65 L592.4 201.33 L583.7 199 L575 186 L566.3 167.6Z" fill="#eed8e6"/>
<path d="M566.3 167.6 L575 174 L583.7 183 L592.4 183.78 L601.1 184.56 L609.8 185.35 L618.5 186.13 L627.2 186.91 L635.9 187.69 L644.6 188.47 L653.3 189.25 L662 190.04 L670.7 190.82 L679.4 191.6" fill="none" stroke="#9c1a50" stroke-width="1.25" stroke-linejoin="round"/>
<path d="M566.3 167.6 L575 186 L583.7 199 L592.4 201.33 L601.1 203.65 L609.8 205.98 L618.5 208.31 L627.2 210.64 L635.9 212.96 L644.6 215.29 L653.3 217.62 L662 219.95 L670.7 222.27 L679.4 224.6 L679.4 236 L670.7 233.67 L662 231.35 L653.3 229.02 L644.6 226.69 L635.9 224.36 L627.2 222.04 L618.5 219.71 L609.8 217.38 L601.1 215.05 L592.4 212.73 L583.7 210.4 L575 194 L566.3 167.6Z" fill="#d5798b" fill-opacity="0.5"/>
<path d="M566.3 167.6 L575 186 L583.7 199 L592.4 201.33 L601.1 203.65 L609.8 205.98 L618.5 208.31 L627.2 210.64 L635.9 212.96 L644.6 215.29 L653.3 217.62 L662 219.95 L670.7 222.27 L679.4 224.6" fill="none" stroke="#741418" stroke-width="1.25" stroke-linejoin="round"/>
<path d="M566.3 167.6 L575 194 L583.7 210.4 L592.4 212.73 L601.1 215.05 L609.8 217.38 L618.5 219.71 L627.2 222.04 L635.9 224.36 L644.6 226.69 L653.3 229.02 L662 231.35 L670.7 233.67 L679.4 236 L679.4 239 L670.7 236.6 L662 234.2 L653.3 231.8 L644.6 229.4 L635.9 227 L627.2 224.6 L618.5 222.2 L609.8 219.8 L601.1 217.4 L592.4 215 L583.7 212.6 L575 196 L566.3 167.6Z" fill="#bbe5b1" fill-opacity="0.5"/>
<path d="M566.3 167.6 L575 196 L583.7 212.6 L592.4 215 L601.1 217.4 L609.8 219.8 L618.5 222.2 L627.2 224.6 L635.9 227 L644.6 229.4 L653.3 231.8 L662 234.2 L670.7 236.6 L679.4 239" fill="none" stroke="#1e5c24" stroke-width="1.25" stroke-linejoin="round"/>
<path d="M566.3 167.6 L575 194 L583.7 210.4 L592.4 212.73 L601.1 215.05 L609.8 217.38 L618.5 219.71 L627.2 222.04 L635.9 224.36 L644.6 226.69 L653.3 229.02 L662 231.35 L670.7 233.67 L679.4 236" fill="none" stroke="#4a8a30" stroke-width="1.25" stroke-linejoin="round"/>
<rect x="562.2" y="147.4" width="121.2" height="107" fill="none" stroke="#959595" stroke-width="1.2"/>
<rect x="562.2" y="147.4" width="121.2" height="9.6" fill="#c3c3c3" stroke="#9a9a9a" stroke-width="0.8"/>
<line x1="562.2" y1="157" x2="683.4" y2="157" stroke="#666" stroke-width="1"/>
<text x="622.8" y="154.8" text-anchor="middle" font-family="Liberation Serif" font-weight="bold" font-size="6.6" fill="#333" textLength="15.4" lengthAdjust="spacingAndGlyphs">Hebei</text>
<line x1="562.2" y1="157" x2="563.7" y2="157" stroke="#777" stroke-width="0.8"/>
<text x="560.6" y="159.8" text-anchor="end" font-family="Liberation Serif" font-weight="bold" font-size="6.6" fill="#222">0</text>
<line x1="562.2" y1="198" x2="563.7" y2="198" stroke="#777" stroke-width="0.8"/>
<text x="560.6" y="200.8" text-anchor="end" font-family="Liberation Serif" font-weight="bold" font-size="6.6" fill="#222">-5</text>
<line x1="562.2" y1="239" x2="563.7" y2="239" stroke="#777" stroke-width="0.8"/>
<text x="560.6" y="241.8" text-anchor="end" font-family="Liberation Serif" font-weight="bold" font-size="6.6" fill="#222">-10</text>
<line x1="566.3" y1="254.4" x2="566.3" y2="252.9" stroke="#777" stroke-width="0.8"/>
<text x="566.7" y="261.7" text-anchor="middle" font-family="Liberation Sans" font-weight="bold" font-size="7.6" fill="#222" textLength="13.9" lengthAdjust="spacingAndGlyphs">2022</text>
<line x1="583.7" y1="254.4" x2="583.7" y2="252.9" stroke="#777" stroke-width="0.8"/>
<text x="584.1" y="261.7" text-anchor="middle" font-family="Liberation Sans" font-weight="bold" font-size="7.6" fill="#222" textLength="13.9" lengthAdjust="spacingAndGlyphs">2024</text>
<line x1="601.1" y1="254.4" x2="601.1" y2="252.9" stroke="#777" stroke-width="0.8"/>
<text x="601.5" y="261.7" text-anchor="middle" font-family="Liberation Sans" font-weight="bold" font-size="7.6" fill="#222" textLength="13.9" lengthAdjust="spacingAndGlyphs">2026</text>
<line x1="618.5" y1="254.4" x2="618.5" y2="252.9" stroke="#777" stroke-width="0.8"/>
<text x="618.9" y="261.7" text-anchor="middle" font-family="Liberation Sans" font-weight="bold" font-size="7.6" fill="#222" textLength="13.9" lengthAdjust="spacingAndGlyphs">2028</text>
<line x1="635.9" y1="254.4" x2="635.9" y2="252.9" stroke="#777" stroke-width="0.8"/>
<text x="636.3" y="261.7" text-anchor="middle" font-family="Liberation Sans" font-weight="bold" font-size="7.6" fill="#222" textLength="13.9" lengthAdjust="spacingAndGlyphs">2030</text>
<line x1="653.3" y1="254.4" x2="653.3" y2="252.9" stroke="#777" stroke-width="0.8"/>
<text x="653.7" y="261.7" text-anchor="middle" font-family="Liberation Sans" font-weight="bold" font-size="7.6" fill="#222" textLength="13.9" lengthAdjust="spacingAndGlyphs">2032</text>
<line x1="670.7" y1="254.4" x2="670.7" y2="252.9" stroke="#777" stroke-width="0.8"/>
<text x="671.1" y="261.7" text-anchor="middle" font-family="Liberation Sans" font-weight="bold" font-size="7.6" fill="#222" textLength="13.9" lengthAdjust="spacingAndGlyphs">2034</text>
<path d="M17.2 299.6 L25.91 297 L34.62 297 L43.32 301 L52.03 301.26 L60.74 301.52 L69.45 301.78 L78.15 302.04 L86.86 302.3 L95.57 302.56 L104.28 302.82 L112.98 303.08 L121.69 303.34 L130.4 303.6 L130.4 323.4 L121.69 323 L112.98 322.6 L104.28 322.2 L95.57 321.8 L86.86 321.4 L78.15 321 L69.45 320.4 L60.74 319.8 L52.03 319.2 L43.32 318.6 L34.62 311 L25.91 311 L17.2 299.6Z" fill="#abe5f1" fill-opacity="0.5"/>
<path d="M17.2 299.6 L25.91 297 L34.62 297 L43.32 301 L52.03 301.26 L60.74 301.52 L69.45 301.78 L78.15 302.04 L86.86 302.3 L95.57 302.56 L104.28 302.82 L112.98 303.08 L121.69 303.34 L130.4 303.6" fill="none" stroke="#3a78a0" stroke-width="1.25" stroke-linejoin="round"/>
<path d="M17.2 299.6 L25.91 311 L34.62 311 L43.32 318.6 L52.03 319.2 L60.74 319.8 L69.45 320.4 L78.15 321 L86.86 321.4 L95.57 321.8 L104.28 322.2 L112.98 322.6 L121.69 323 L130.4 323.4 L130.4 323.4 L121.69 323 L112.98 322.6 L104.28 322.2 L95.57 321.8 L86.86 321.4 L78.15 321 L69.45 330.4 L60.74 329.77 L52.03 329.13 L43.32 328.5 L34.62 320.2 L25.91 321.5 L17.2 299.6Z" fill="#5de1f1" fill-opacity="0.5"/>
<path d="M17.2 299.6 L25.91 311 L34.62 311 L43.32 318.6 L52.03 319.2 L60.74 319.8 L69.45 320.4 L78.15 321 L86.86 321.4 L95.57 321.8 L104.28 322.2 L112.98 322.6 L121.69 323 L130.4 323.4" fill="none" stroke="#1e5068" stroke-width="1.25" stroke-linejoin="round"/>
<path d="M17.2 299.6 L25.91 321.5 L34.62 320.2 L43.32 328.5 L52.03 329.13 L60.74 329.77 L69.45 330.4 L78.15 321 L86.86 321.4 L95.57 321.8 L104.28 322.2 L112.98 322.6 L121.69 323 L130.4 323.4 L130.4 348 L121.69 345.92 L112.98 343.84 L104.28 341.76 L95.57 339.68 L86.86 337.6 L78.15 335.52 L69.45 333.44 L60.74 331.36 L52.03 329.28 L43.32 327.2 L34.62 316.7 L25.91 319.8 L17.2 299.6Z" fill="#eed8e6"/>
<path d="M17.2 299.6 L25.91 321.5 L34.62 320.2 L43.32 328.5 L52.03 329.13 L60.74 329.77 L69.45 330.4 L78.15 321 L86.86 321.4 L95.57 321.8 L104.28 322.2 L112.98 322.6 L121.69 323 L130.4 323.4" fill="none" stroke="#9c1a50" stroke-width="1.25" stroke-linejoin="round"/>
<path d="M17.2 299.6 L25.91 319.8 L34.62 316.7 L43.32 327.2 L52.03 329.28 L60.74 331.36 L69.45 333.44 L78.15 335.52 L86.86 337.6 L95.57 339.68 L104.28 341.76 L112.98 343.84 L121.69 345.92 L130.4 348 L130.4 363.6 L121.69 361.67 L112.98 359.74 L104.28 357.81 L95.57 355.88 L86.86 353.95 L78.15 352.02 L69.45 350.09 L60.74 348.16 L52.03 346.23 L43.32 344.3 L34.62 330.7 L25.91 335.5 L17.2 299.6Z" fill="#d5798b" fill-opacity="0.5"/>
<path d="M17.2 299.6 L25.91 319.8 L34.62 316.7 L43.32 327.2 L52.03 329.28 L60.74 331.36 L69.45 333.44 L78.15 335.52 L86.86 337.6 L95.57 339.68 L104.28 341.76 L112.98 343.84 L121.69 345.92 L130.4 348" fill="none" stroke="#741418" stroke-width="1.25" stroke-linejoin="round"/>
<path d="M17.2 299.6 L25.91 335.5 L34.62 330.7 L43.32 344.3 L52.03 346.23 L60.74 348.16 L69.45 350.09 L78.15 352.02 L86.86 353.95 L95.57 355.88 L104.28 357.81 L112.98 359.74 L121.69 361.67 L130.4 363.6 L130.4 370.6 L121.69 368.76 L112.98 366.92 L104.28 365.08 L95.57 363.24 L86.86 361.4 L78.15 359.56 L69.45 357.72 L60.74 355.88 L52.03 354.04 L43.32 352.2 L34.62 336.8 L25.91 343 L17.2 299.6Z" fill="#bbe5b1" fill-opacity="0.5"/>
<path d="M17.2 299.6 L25.91 343 L34.62 336.8 L43.32 352.2 L52.03 354.04 L60.74 355.88 L69.45 357.72 L78.15 359.56 L86.86 361.4 L95.57 363.24 L104.28 365.08 L112.98 366.92 L121.69 368.76 L130.4 370.6" fill="none" stroke="#1e5c24" stroke-width="1.25" stroke-linejoin="round"/>
<path d="M17.2 299.6 L25.91 335.5 L34.62 330.7 L43.32 344.3 L52.03 346.23 L60.74 348.16 L69.45 350.09 L78.15 352.02 L86.86 353.95 L95.57 355.88 L104.28 357.81 L112.98 359.74 L121.69 361.67 L130.4 363.6" fill="none" stroke="#4a8a30" stroke-width="1.25" stroke-linejoin="round"/>
<rect x="13" y="268.9" width="121.7" height="107.5" fill="none" stroke="#959595" stroke-width="1.2"/>
<rect x="13" y="268.9" width="121.7" height="9.1" fill="#c3c3c3" stroke="#9a9a9a" stroke-width="0.8"/>
<line x1="13" y1="278" x2="134.7" y2="278" stroke="#666" stroke-width="1"/>
<text x="73.85" y="275.8" text-anchor="middle" font-family="Liberation Serif" font-weight="bold" font-size="6.6" fill="#333" textLength="20.4" lengthAdjust="spacingAndGlyphs">Yunnan</text>
<line x1="13" y1="278.4" x2="14.5" y2="278.4" stroke="#777" stroke-width="0.8"/>
<text x="11.4" y="281.2" text-anchor="end" font-family="Liberation Serif" font-weight="bold" font-size="6.6" fill="#222">0.0</text>
<line x1="13" y1="308" x2="14.5" y2="308" stroke="#777" stroke-width="0.8"/>
<text x="11.4" y="310.8" text-anchor="end" font-family="Liberation Serif" font-weight="bold" font-size="6.6" fill="#222">-0.6</text>
<line x1="13" y1="337.4" x2="14.5" y2="337.4" stroke="#777" stroke-width="0.8"/>
<text x="11.4" y="340.2" text-anchor="end" font-family="Liberation Serif" font-weight="bold" font-size="6.6" fill="#222">-1.2</text>
<line x1="13" y1="366.4" x2="14.5" y2="366.4" stroke="#777" stroke-width="0.8"/>
<text x="11.4" y="369.2" text-anchor="end" font-family="Liberation Serif" font-weight="bold" font-size="6.6" fill="#222">-1.8</text>
<line x1="17.2" y1="376.4" x2="17.2" y2="374.9" stroke="#777" stroke-width="0.8"/>
<text x="17.6" y="383.7" text-anchor="middle" font-family="Liberation Sans" font-weight="bold" font-size="7.6" fill="#222" textLength="13.9" lengthAdjust="spacingAndGlyphs">2022</text>
<line x1="34.62" y1="376.4" x2="34.62" y2="374.9" stroke="#777" stroke-width="0.8"/>
<text x="35.02" y="383.7" text-anchor="middle" font-family="Liberation Sans" font-weight="bold" font-size="7.6" fill="#222" textLength="13.9" lengthAdjust="spacingAndGlyphs">2024</text>
<line x1="52.03" y1="376.4" x2="52.03" y2="374.9" stroke="#777" stroke-width="0.8"/>
<text x="52.43" y="383.7" text-anchor="middle" font-family="Liberation Sans" font-weight="bold" font-size="7.6" fill="#222" textLength="13.9" lengthAdjust="spacingAndGlyphs">2026</text>
<line x1="69.45" y1="376.4" x2="69.45" y2="374.9" stroke="#777" stroke-width="0.8"/>
<text x="69.85" y="383.7" text-anchor="middle" font-family="Liberation Sans" font-weight="bold" font-size="7.6" fill="#222" textLength="13.9" lengthAdjust="spacingAndGlyphs">2028</text>
<line x1="86.86" y1="376.4" x2="86.86" y2="374.9" stroke="#777" stroke-width="0.8"/>
<text x="87.26" y="383.7" text-anchor="middle" font-family="Liberation Sans" font-weight="bold" font-size="7.6" fill="#222" textLength="13.9" lengthAdjust="spacingAndGlyphs">2030</text>
<line x1="104.28" y1="376.4" x2="104.28" y2="374.9" stroke="#777" stroke-width="0.8"/>
<text x="104.68" y="383.7" text-anchor="middle" font-family="Liberation Sans" font-weight="bold" font-size="7.6" fill="#222" textLength="13.9" lengthAdjust="spacingAndGlyphs">2032</text>
<line x1="121.69" y1="376.4" x2="121.69" y2="374.9" stroke="#777" stroke-width="0.8"/>
<text x="122.09" y="383.7" text-anchor="middle" font-family="Liberation Sans" font-weight="bold" font-size="7.6" fill="#222" textLength="13.9" lengthAdjust="spacingAndGlyphs">2034</text>
<path d="M153.8 295.4 L162.52 294 L171.25 294.4 L179.97 294.82 L188.69 295.24 L197.42 295.65 L206.14 296.07 L214.86 296.49 L223.58 296.91 L232.31 297.33 L241.03 297.75 L249.75 298.16 L258.48 298.58 L267.2 299 L267.2 311.6 L258.48 311 L249.75 310.4 L241.03 309.8 L232.31 309.2 L223.58 308.6 L214.86 308 L206.14 307.4 L197.42 306.8 L188.69 306.2 L179.97 305.6 L171.25 305 L162.52 304 L153.8 295.4Z" fill="#abe5f1" fill-opacity="0.5"/>
<path d="M153.8 295.4 L162.52 294 L171.25 294.4 L179.97 294.82 L188.69 295.24 L197.42 295.65 L206.14 296.07 L214.86 296.49 L223.58 296.91 L232.31 297.33 L241.03 297.75 L249.75 298.16 L258.48 298.58 L267.2 299" fill="none" stroke="#3a78a0" stroke-width="1.25" stroke-linejoin="round"/>
<path d="M153.8 295.4 L162.52 304 L171.25 305 L179.97 305.6 L188.69 306.2 L197.42 306.8 L206.14 307.4 L214.86 308 L223.58 308.6 L232.31 309.2 L241.03 309.8 L249.75 310.4 L258.48 311 L267.2 311.6 L267.2 320.6 L258.48 320 L249.75 319.4 L241.03 318.8 L232.31 318.2 L223.58 317.6 L214.86 317 L206.14 316.4 L197.42 315.8 L188.69 315.2 L179.97 314.6 L171.25 314 L162.52 313 L153.8 295.4Z" fill="#5de1f1" fill-opacity="0.5"/>
<path d="M153.8 295.4 L162.52 304 L171.25 305 L179.97 305.6 L188.69 306.2 L197.42 306.8 L206.14 307.4 L214.86 308 L223.58 308.6 L232.31 309.2 L241.03 309.8 L249.75 310.4 L258.48 311 L267.2 311.6" fill="none" stroke="#1e5068" stroke-width="1.25" stroke-linejoin="round"/>
<path d="M153.8 295.4 L162.52 313 L171.25 314 L179.97 314.6 L188.69 315.2 L197.42 315.8 L206.14 316.4 L214.86 317 L223.58 317.6 L232.31 318.2 L241.03 318.8 L249.75 319.4 L258.48 320 L267.2 320.6 L267.2 348.4 L258.48 345.96 L249.75 343.53 L241.03 341.09 L232.31 338.65 L223.58 336.22 L214.86 333.78 L206.14 331.35 L197.42 328.91 L188.69 326.47 L179.97 324.04 L171.25 321.6 L162.52 323.6 L153.8 295.4Z" fill="#eed8e6"/>
<path d="M153.8 295.4 L162.52 313 L171.25 314 L179.97 314.6 L188.69 315.2 L197.42 315.8 L206.14 316.4 L214.86 317 L223.58 317.6 L232.31 318.2 L241.03 318.8 L249.75 319.4 L258.48 320 L267.2 320.6" fill="none" stroke="#9c1a50" stroke-width="1.25" stroke-linejoin="round"/>
<path d="M153.8 295.4 L162.52 323.6 L171.25 321.6 L179.97 324.04 L188.69 326.47 L197.42 328.91 L206.14 331.35 L214.86 333.78 L223.58 336.22 L232.31 338.65 L241.03 341.09 L249.75 343.53 L258.48 345.96 L267.2 348.4 L267.2 361.6 L258.48 359.24 L249.75 356.87 L241.03 354.51 L232.31 352.15 L223.58 349.78 L214.86 347.42 L206.14 345.05 L197.42 342.69 L188.69 340.33 L179.97 337.96 L171.25 335.6 L162.52 338 L153.8 295.4Z" fill="#d5798b" fill-opacity="0.5"/>
<path d="M153.8 295.4 L162.52 323.6 L171.25 321.6 L179.97 324.04 L188.69 326.47 L197.42 328.91 L206.14 331.35 L214.86 333.78 L223.58 336.22 L232.31 338.65 L241.03 341.09 L249.75 343.53 L258.48 345.96 L267.2 348.4" fill="none" stroke="#741418" stroke-width="1.25" stroke-linejoin="round"/>
<path d="M153.8 295.4 L162.52 338 L171.25 335.6 L179.97 337.96 L188.69 340.33 L197.42 342.69 L206.14 345.05 L214.86 347.42 L223.58 349.78 L232.31 352.15 L241.03 354.51 L249.75 356.87 L258.48 359.24 L267.2 361.6 L267.2 367 L258.48 364.58 L249.75 362.16 L241.03 359.75 L232.31 357.33 L223.58 354.91 L214.86 352.49 L206.14 350.07 L197.42 347.65 L188.69 345.24 L179.97 342.82 L171.25 340.4 L162.52 343.6 L153.8 295.4Z" fill="#bbe5b1" fill-opacity="0.5"/>
<path d="M153.8 295.4 L162.52 343.6 L171.25 340.4 L179.97 342.82 L188.69 345.24 L197.42 347.65 L206.14 350.07 L214.86 352.49 L223.58 354.91 L232.31 357.33 L241.03 359.75 L249.75 362.16 L258.48 364.58 L267.2 367" fill="none" stroke="#1e5c24" stroke-width="1.25" stroke-linejoin="round"/>
<path d="M153.8 295.4 L162.52 338 L171.25 335.6 L179.97 337.96 L188.69 340.33 L197.42 342.69 L206.14 345.05 L214.86 347.42 L223.58 349.78 L232.31 352.15 L241.03 354.51 L249.75 356.87 L258.48 359.24 L267.2 361.6" fill="none" stroke="#4a8a30" stroke-width="1.25" stroke-linejoin="round"/>
<rect x="149.6" y="268.9" width="121.9" height="106.3" fill="none" stroke="#959595" stroke-width="1.2"/>
<rect x="149.6" y="268.9" width="121.9" height="9.1" fill="#c3c3c3" stroke="#9a9a9a" stroke-width="0.8"/>
<line x1="149.6" y1="278" x2="271.5" y2="278" stroke="#666" stroke-width="1"/>
<text x="210.55" y="275.8" text-anchor="middle" font-family="Liberation Sans" font-weight="bold" font-size="6.6" fill="#333" textLength="24.8" lengthAdjust="spacingAndGlyphs">Guizhou</text>
<line x1="149.6" y1="278" x2="151.1" y2="278" stroke="#777" stroke-width="0.8"/>
<text x="148" y="280.8" text-anchor="end" font-family="Liberation Sans" font-weight="bold" font-size="6.6" fill="#222">0.0</text>
<line x1="149.6" y1="304.6" x2="151.1" y2="304.6" stroke="#777" stroke-width="0.8"/>
<text x="148" y="307.4" text-anchor="end" font-family="Liberation Sans" font-weight="bold" font-size="6.6" fill="#222">-0.7</text>
<line x1="149.6" y1="332" x2="151.1" y2="332" stroke="#777" stroke-width="0.8"/>
<text x="148" y="334.8" text-anchor="end" font-family="Liberation Sans" font-weight="bold" font-size="6.6" fill="#222">-1.4</text>
<line x1="149.6" y1="359.2" x2="151.1" y2="359.2" stroke="#777" stroke-width="0.8"/>
<text x="148" y="362" text-anchor="end" font-family="Liberation Sans" font-weight="bold" font-size="6.6" fill="#222">-2.1</text>
<line x1="153.8" y1="375.2" x2="153.8" y2="373.7" stroke="#777" stroke-width="0.8"/>
<text x="154.2" y="382.5" text-anchor="middle" font-family="Liberation Sans" font-weight="bold" font-size="7.6" fill="#222" textLength="13.9" lengthAdjust="spacingAndGlyphs">2022</text>
<line x1="171.25" y1="375.2" x2="171.25" y2="373.7" stroke="#777" stroke-width="0.8"/>
<text x="171.65" y="382.5" text-anchor="middle" font-family="Liberation Sans" font-weight="bold" font-size="7.6" fill="#222" textLength="13.9" lengthAdjust="spacingAndGlyphs">2024</text>
<line x1="188.69" y1="375.2" x2="188.69" y2="373.7" stroke="#777" stroke-width="0.8"/>
<text x="189.09" y="382.5" text-anchor="middle" font-family="Liberation Sans" font-weight="bold" font-size="7.6" fill="#222" textLength="13.9" lengthAdjust="spacingAndGlyphs">2026</text>
<line x1="206.14" y1="375.2" x2="206.14" y2="373.7" stroke="#777" stroke-width="0.8"/>
<text x="206.54" y="382.5" text-anchor="middle" font-family="Liberation Sans" font-weight="bold" font-size="7.6" fill="#222" textLength="13.9" lengthAdjust="spacingAndGlyphs">2028</text>
<line x1="223.58" y1="375.2" x2="223.58" y2="373.7" stroke="#777" stroke-width="0.8"/>
<text x="223.98" y="382.5" text-anchor="middle" font-family="Liberation Sans" font-weight="bold" font-size="7.6" fill="#222" textLength="13.9" lengthAdjust="spacingAndGlyphs">2030</text>
<line x1="241.03" y1="375.2" x2="241.03" y2="373.7" stroke="#777" stroke-width="0.8"/>
<text x="241.43" y="382.5" text-anchor="middle" font-family="Liberation Sans" font-weight="bold" font-size="7.6" fill="#222" textLength="13.9" lengthAdjust="spacingAndGlyphs">2032</text>
<line x1="258.48" y1="375.2" x2="258.48" y2="373.7" stroke="#777" stroke-width="0.8"/>
<text x="258.88" y="382.5" text-anchor="middle" font-family="Liberation Sans" font-weight="bold" font-size="7.6" fill="#222" textLength="13.9" lengthAdjust="spacingAndGlyphs">2034</text>
<path d="M291.6 291.4 L300.32 289.6 L309.03 296 L317.75 296.85 L326.46 297.71 L335.18 298.56 L343.89 299.42 L352.61 300.27 L361.32 301.13 L370.04 301.98 L378.75 302.84 L387.47 303.69 L396.18 304.55 L404.9 305.4 L404.9 314.4 L396.18 313.18 L387.47 311.96 L378.75 310.75 L370.04 309.53 L361.32 308.31 L352.61 307.09 L343.89 305.87 L335.18 304.65 L326.46 303.44 L317.75 302.22 L309.03 301 L300.32 293.6 L291.6 291.4Z" fill="#abe5f1" fill-opacity="0.5"/>
<path d="M291.6 291.4 L300.32 289.6 L309.03 296 L317.75 296.85 L326.46 297.71 L335.18 298.56 L343.89 299.42 L352.61 300.27 L361.32 301.13 L370.04 301.98 L378.75 302.84 L387.47 303.69 L396.18 304.55 L404.9 305.4" fill="none" stroke="#3a78a0" stroke-width="1.25" stroke-linejoin="round"/>
<path d="M291.6 291.4 L300.32 293.6 L309.03 301 L317.75 302.22 L326.46 303.44 L335.18 304.65 L343.89 305.87 L352.61 307.09 L361.32 308.31 L370.04 309.53 L378.75 310.75 L387.47 311.96 L396.18 313.18 L404.9 314.4 L404.9 314.4 L396.18 313.27 L387.47 312.15 L378.75 311.02 L370.04 309.89 L361.32 308.76 L352.61 307.64 L343.89 306.51 L335.18 305.38 L326.46 304.25 L317.75 303.13 L309.03 302 L300.32 299 L291.6 291.4Z" fill="#5de1f1" fill-opacity="0.5"/>
<path d="M291.6 291.4 L300.32 293.6 L309.03 301 L317.75 302.22 L326.46 303.44 L335.18 304.65 L343.89 305.87 L352.61 307.09 L361.32 308.31 L370.04 309.53 L378.75 310.75 L387.47 311.96 L396.18 313.18 L404.9 314.4" fill="none" stroke="#1e5068" stroke-width="1.25" stroke-linejoin="round"/>
<path d="M291.6 291.4 L300.32 299 L309.03 302 L317.75 303.13 L326.46 304.25 L335.18 305.38 L343.89 306.51 L352.61 307.64 L361.32 308.76 L370.04 309.89 L378.75 311.02 L387.47 312.15 L396.18 313.27 L404.9 314.4 L404.9 350 L396.18 346.96 L387.47 343.93 L378.75 340.89 L370.04 337.85 L361.32 334.82 L352.61 331.78 L343.89 328.75 L335.18 325.71 L326.46 322.67 L317.75 319.64 L309.03 316.6 L300.32 305 L291.6 291.4Z" fill="#eed8e6"/>
<path d="M291.6 291.4 L300.32 299 L309.03 302 L317.75 303.13 L326.46 304.25 L335.18 305.38 L343.89 306.51 L352.61 307.64 L361.32 308.76 L370.04 309.89 L378.75 311.02 L387.47 312.15 L396.18 313.27 L404.9 314.4" fill="none" stroke="#9c1a50" stroke-width="1.25" stroke-linejoin="round"/>
<path d="M291.6 291.4 L300.32 305 L309.03 316.6 L317.75 319.64 L326.46 322.67 L335.18 325.71 L343.89 328.75 L352.61 331.78 L361.32 334.82 L370.04 337.85 L378.75 340.89 L387.47 343.93 L396.18 346.96 L404.9 350 L404.9 363.6 L396.18 360.66 L387.47 357.71 L378.75 354.77 L370.04 351.83 L361.32 348.89 L352.61 345.94 L343.89 343 L335.18 339.65 L326.46 336.3 L317.75 332.95 L309.03 329.6 L300.32 316 L291.6 291.4Z" fill="#d5798b" fill-opacity="0.5"/>
<path d="M291.6 291.4 L300.32 305 L309.03 316.6 L317.75 319.64 L326.46 322.67 L335.18 325.71 L343.89 328.75 L352.61 331.78 L361.32 334.82 L370.04 337.85 L378.75 340.89 L387.47 343.93 L396.18 346.96 L404.9 350" fill="none" stroke="#741418" stroke-width="1.25" stroke-linejoin="round"/>
<path d="M291.6 291.4 L300.32 316 L309.03 329.6 L317.75 332.95 L326.46 336.3 L335.18 339.65 L343.89 343 L352.61 345.94 L361.32 348.89 L370.04 351.83 L378.75 354.77 L387.47 357.71 L396.18 360.66 L404.9 363.6 L404.9 364.6 L396.18 361.57 L387.47 358.54 L378.75 355.51 L370.04 352.49 L361.32 349.46 L352.61 346.43 L343.89 343.4 L335.18 341.3 L326.46 339.2 L317.75 337.1 L309.03 335 L300.32 320.4 L291.6 291.4Z" fill="#bbe5b1" fill-opacity="0.5"/>
<path d="M291.6 291.4 L300.32 320.4 L309.03 335 L317.75 337.1 L326.46 339.2 L335.18 341.3 L343.89 343.4 L352.61 346.43 L361.32 349.46 L370.04 352.49 L378.75 355.51 L387.47 358.54 L396.18 361.57 L404.9 364.6" fill="none" stroke="#1e5c24" stroke-width="1.25" stroke-linejoin="round"/>
<path d="M291.6 291.4 L300.32 316 L309.03 329.6 L317.75 332.95 L326.46 336.3 L335.18 339.65 L343.89 343 L352.61 345.94 L361.32 348.89 L370.04 351.83 L378.75 354.77 L387.47 357.71 L396.18 360.66 L404.9 363.6" fill="none" stroke="#4a8a30" stroke-width="1.25" stroke-linejoin="round"/>
<rect x="287.5" y="268.9" width="121.4" height="106.3" fill="none" stroke="#959595" stroke-width="1.2"/>
<rect x="287.5" y="268.9" width="121.4" height="9.1" fill="#c3c3c3" stroke="#9a9a9a" stroke-width="0.8"/>
<line x1="287.5" y1="278" x2="408.9" y2="278" stroke="#666" stroke-width="1"/>
<text x="348.2" y="275.8" text-anchor="middle" font-family="Liberation Sans" font-weight="bold" font-size="6.6" fill="#333" textLength="24.4" lengthAdjust="spacingAndGlyphs">Guangxi</text>
<line x1="287.5" y1="278" x2="289" y2="278" stroke="#777" stroke-width="0.8"/>
<text x="285.9" y="280.8" text-anchor="end" font-family="Liberation Sans" font-weight="bold" font-size="6.6" fill="#222">0</text>
<line x1="287.5" y1="302.4" x2="289" y2="302.4" stroke="#777" stroke-width="0.8"/>
<text x="285.9" y="305.2" text-anchor="end" font-family="Liberation Sans" font-weight="bold" font-size="6.6" fill="#222">-1</text>
<line x1="287.5" y1="326.4" x2="289" y2="326.4" stroke="#777" stroke-width="0.8"/>
<text x="285.9" y="329.2" text-anchor="end" font-family="Liberation Sans" font-weight="bold" font-size="6.6" fill="#222">-2</text>
<line x1="287.5" y1="350.6" x2="289" y2="350.6" stroke="#777" stroke-width="0.8"/>
<text x="285.9" y="353.4" text-anchor="end" font-family="Liberation Sans" font-weight="bold" font-size="6.6" fill="#222">-3</text>
<line x1="287.5" y1="374.6" x2="289" y2="374.6" stroke="#777" stroke-width="0.8"/>
<text x="285.9" y="377.4" text-anchor="end" font-family="Liberation Sans" font-weight="bold" font-size="6.6" fill="#222">-4</text>
<line x1="291.6" y1="375.2" x2="291.6" y2="373.7" stroke="#777" stroke-width="0.8"/>
<text x="292" y="382.5" text-anchor="middle" font-family="Liberation Sans" font-weight="bold" font-size="7.6" fill="#222" textLength="13.9" lengthAdjust="spacingAndGlyphs">2022</text>
<line x1="309.03" y1="375.2" x2="309.03" y2="373.7" stroke="#777" stroke-width="0.8"/>
<text x="309.43" y="382.5" text-anchor="middle" font-family="Liberation Sans" font-weight="bold" font-size="7.6" fill="#222" textLength="13.9" lengthAdjust="spacingAndGlyphs">2024</text>
<line x1="326.46" y1="375.2" x2="326.46" y2="373.7" stroke="#777" stroke-width="0.8"/>
<text x="326.86" y="382.5" text-anchor="middle" font-family="Liberation Sans" font-weight="bold" font-size="7.6" fill="#222" textLength="13.9" lengthAdjust="spacingAndGlyphs">2026</text>
<line x1="343.89" y1="375.2" x2="343.89" y2="373.7" stroke="#777" stroke-width="0.8"/>
<text x="344.29" y="382.5" text-anchor="middle" font-family="Liberation Sans" font-weight="bold" font-size="7.6" fill="#222" textLength="13.9" lengthAdjust="spacingAndGlyphs">2028</text>
<line x1="361.32" y1="375.2" x2="361.32" y2="373.7" stroke="#777" stroke-width="0.8"/>
<text x="361.72" y="382.5" text-anchor="middle" font-family="Liberation Sans" font-weight="bold" font-size="7.6" fill="#222" textLength="13.9" lengthAdjust="spacingAndGlyphs">2030</text>
<line x1="378.75" y1="375.2" x2="378.75" y2="373.7" stroke="#777" stroke-width="0.8"/>
<text x="379.15" y="382.5" text-anchor="middle" font-family="Liberation Sans" font-weight="bold" font-size="7.6" fill="#222" textLength="13.9" lengthAdjust="spacingAndGlyphs">2032</text>
<line x1="396.18" y1="375.2" x2="396.18" y2="373.7" stroke="#777" stroke-width="0.8"/>
<text x="396.58" y="382.5" text-anchor="middle" font-family="Liberation Sans" font-weight="bold" font-size="7.6" fill="#222" textLength="13.9" lengthAdjust="spacingAndGlyphs">2034</text>
<path d="M428.3 284.4 L436.95 282.6 L445.61 285.4 L454.26 285.73 L462.92 286.05 L471.57 286.38 L480.22 286.71 L488.88 287.04 L497.53 287.36 L506.18 287.69 L514.84 288.02 L523.49 288.35 L532.15 288.67 L540.8 289 L540.8 307.4 L532.15 306.47 L523.49 305.53 L514.84 304.6 L506.18 303.7 L497.53 302.8 L488.88 301.9 L480.22 301 L471.57 300.1 L462.92 299.2 L454.26 298.3 L445.61 297.4 L436.95 291.6 L428.3 284.4Z" fill="#abe5f1" fill-opacity="0.5"/>
<path d="M428.3 284.4 L436.95 282.6 L445.61 285.4 L454.26 285.73 L462.92 286.05 L471.57 286.38 L480.22 286.71 L488.88 287.04 L497.53 287.36 L506.18 287.69 L514.84 288.02 L523.49 288.35 L532.15 288.67 L540.8 289" fill="none" stroke="#3a78a0" stroke-width="1.25" stroke-linejoin="round"/>
<path d="M428.3 284.4 L436.95 291.6 L445.61 297.4 L454.26 298.3 L462.92 299.2 L471.57 300.1 L480.22 301 L488.88 301.9 L497.53 302.8 L506.18 303.7 L514.84 304.6 L523.49 305.53 L532.15 306.47 L540.8 307.4 L540.8 307.4 L532.15 306.47 L523.49 305.53 L514.84 304.6 L506.18 306.73 L497.53 308.87 L488.88 311 L480.22 310.12 L471.57 309.24 L462.92 308.36 L454.26 307.48 L445.61 306.6 L436.95 298 L428.3 284.4Z" fill="#5de1f1" fill-opacity="0.5"/>
<path d="M428.3 284.4 L436.95 291.6 L445.61 297.4 L454.26 298.3 L462.92 299.2 L471.57 300.1 L480.22 301 L488.88 301.9 L497.53 302.8 L506.18 303.7 L514.84 304.6 L523.49 305.53 L532.15 306.47 L540.8 307.4" fill="none" stroke="#1e5068" stroke-width="1.25" stroke-linejoin="round"/>
<path d="M428.3 284.4 L436.95 298 L445.61 306.6 L454.26 307.48 L462.92 308.36 L471.57 309.24 L480.22 310.12 L488.88 311 L497.53 308.87 L506.18 306.73 L514.84 304.6 L523.49 305.53 L532.15 306.47 L540.8 307.4 L540.8 344.6 L532.15 341.22 L523.49 337.84 L514.84 334.45 L506.18 331.07 L497.53 327.69 L488.88 324.31 L480.22 320.93 L471.57 317.55 L462.92 314.16 L454.26 310.78 L445.61 307.4 L436.95 300 L428.3 284.4Z" fill="#eed8e6"/>
<path d="M428.3 284.4 L436.95 298 L445.61 306.6 L454.26 307.48 L462.92 308.36 L471.57 309.24 L480.22 310.12 L488.88 311 L497.53 308.87 L506.18 306.73 L514.84 304.6 L523.49 305.53 L532.15 306.47 L540.8 307.4" fill="none" stroke="#9c1a50" stroke-width="1.25" stroke-linejoin="round"/>
<path d="M428.3 284.4 L436.95 300 L445.61 307.4 L454.26 310.78 L462.92 314.16 L471.57 317.55 L480.22 320.93 L488.88 324.31 L497.53 327.69 L506.18 331.07 L514.84 334.45 L523.49 337.84 L532.15 341.22 L540.8 344.6 L540.8 364 L532.15 360.31 L523.49 356.62 L514.84 352.93 L506.18 349.24 L497.53 345.55 L488.88 341.85 L480.22 338.16 L471.57 334.47 L462.92 330.78 L454.26 327.09 L445.61 323.4 L436.95 311 L428.3 284.4Z" fill="#d5798b" fill-opacity="0.5"/>
<path d="M428.3 284.4 L436.95 300 L445.61 307.4 L454.26 310.78 L462.92 314.16 L471.57 317.55 L480.22 320.93 L488.88 324.31 L497.53 327.69 L506.18 331.07 L514.84 334.45 L523.49 337.84 L532.15 341.22 L540.8 344.6" fill="none" stroke="#741418" stroke-width="1.25" stroke-linejoin="round"/>
<path d="M428.3 284.4 L436.95 311 L445.61 323.4 L454.26 327.09 L462.92 330.78 L471.57 334.47 L480.22 338.16 L488.88 341.85 L497.53 345.55 L506.18 349.24 L514.84 352.93 L523.49 356.62 L532.15 360.31 L540.8 364 L540.8 371.6 L532.15 367.73 L523.49 363.85 L514.84 359.98 L506.18 356.11 L497.53 352.24 L488.88 348.36 L480.22 344.49 L471.57 340.62 L462.92 336.75 L454.26 332.87 L445.61 329 L436.95 316 L428.3 284.4Z" fill="#bbe5b1" fill-opacity="0.5"/>
<path d="M428.3 284.4 L436.95 316 L445.61 329 L454.26 332.87 L462.92 336.75 L471.57 340.62 L480.22 344.49 L488.88 348.36 L497.53 352.24 L506.18 356.11 L514.84 359.98 L523.49 363.85 L532.15 367.73 L540.8 371.6" fill="none" stroke="#1e5c24" stroke-width="1.25" stroke-linejoin="round"/>
<path d="M428.3 284.4 L436.95 311 L445.61 323.4 L454.26 327.09 L462.92 330.78 L471.57 334.47 L480.22 338.16 L488.88 341.85 L497.53 345.55 L506.18 349.24 L514.84 352.93 L523.49 356.62 L532.15 360.31 L540.8 364" fill="none" stroke="#4a8a30" stroke-width="1.25" stroke-linejoin="round"/>
<rect x="424.6" y="268.9" width="120.8" height="106.2" fill="none" stroke="#959595" stroke-width="1.2"/>
<rect x="424.6" y="268.9" width="120.8" height="9.1" fill="#c3c3c3" stroke="#9a9a9a" stroke-width="0.8"/>
<line x1="424.6" y1="278" x2="545.4" y2="278" stroke="#666" stroke-width="1"/>
<text x="485" y="275.8" text-anchor="middle" font-family="Liberation Sans" font-weight="bold" font-size="6.6" fill="#333" textLength="17.6" lengthAdjust="spacingAndGlyphs">Anhui</text>
<line x1="424.6" y1="277.6" x2="426.1" y2="277.6" stroke="#777" stroke-width="0.8"/>
<text x="423" y="280.4" text-anchor="end" font-family="Liberation Sans" font-weight="bold" font-size="6.6" fill="#222">0</text>
<line x1="424.6" y1="316.6" x2="426.1" y2="316.6" stroke="#777" stroke-width="0.8"/>
<text x="423" y="319.4" text-anchor="end" font-family="Liberation Sans" font-weight="bold" font-size="6.6" fill="#222">-2</text>
<line x1="424.6" y1="355.4" x2="426.1" y2="355.4" stroke="#777" stroke-width="0.8"/>
<text x="423" y="358.2" text-anchor="end" font-family="Liberation Sans" font-weight="bold" font-size="6.6" fill="#222">-4</text>
<line x1="428.3" y1="375.1" x2="428.3" y2="373.6" stroke="#777" stroke-width="0.8"/>
<text x="428.7" y="382.4" text-anchor="middle" font-family="Liberation Sans" font-weight="bold" font-size="7.6" fill="#222" textLength="13.9" lengthAdjust="spacingAndGlyphs">2022</text>
<line x1="445.61" y1="375.1" x2="445.61" y2="373.6" stroke="#777" stroke-width="0.8"/>
<text x="446.01" y="382.4" text-anchor="middle" font-family="Liberation Sans" font-weight="bold" font-size="7.6" fill="#222" textLength="13.9" lengthAdjust="spacingAndGlyphs">2024</text>
<line x1="462.92" y1="375.1" x2="462.92" y2="373.6" stroke="#777" stroke-width="0.8"/>
<text x="463.32" y="382.4" text-anchor="middle" font-family="Liberation Sans" font-weight="bold" font-size="7.6" fill="#222" textLength="13.9" lengthAdjust="spacingAndGlyphs">2026</text>
<line x1="480.22" y1="375.1" x2="480.22" y2="373.6" stroke="#777" stroke-width="0.8"/>
<text x="480.62" y="382.4" text-anchor="middle" font-family="Liberation Sans" font-weight="bold" font-size="7.6" fill="#222" textLength="13.9" lengthAdjust="spacingAndGlyphs">2028</text>
<line x1="497.53" y1="375.1" x2="497.53" y2="373.6" stroke="#777" stroke-width="0.8"/>
<text x="497.93" y="382.4" text-anchor="middle" font-family="Liberation Sans" font-weight="bold" font-size="7.6" fill="#222" textLength="13.9" lengthAdjust="spacingAndGlyphs">2030</text>
<line x1="514.84" y1="375.1" x2="514.84" y2="373.6" stroke="#777" stroke-width="0.8"/>
<text x="515.24" y="382.4" text-anchor="middle" font-family="Liberation Sans" font-weight="bold" font-size="7.6" fill="#222" textLength="13.9" lengthAdjust="spacingAndGlyphs">2032</text>
<line x1="532.15" y1="375.1" x2="532.15" y2="373.6" stroke="#777" stroke-width="0.8"/>
<text x="532.55" y="382.4" text-anchor="middle" font-family="Liberation Sans" font-weight="bold" font-size="7.6" fill="#222" textLength="13.9" lengthAdjust="spacingAndGlyphs">2034</text>
<path d="M566.3 284.4 L575 282 L583.7 286 L592.4 286.4 L601.1 286.8 L609.8 287.2 L618.5 287.6 L627.2 288 L635.9 288.4 L644.6 288.8 L653.3 289.2 L662 289.6 L670.7 290 L679.4 290.4 L679.4 314.4 L670.7 313.36 L662 312.31 L653.3 311.27 L644.6 310.22 L635.9 309.18 L627.2 308.13 L618.5 307.09 L609.8 306.04 L601.1 305 L592.4 303.3 L583.7 301.6 L575 291 L566.3 284.4Z" fill="#abe5f1" fill-opacity="0.5"/>
<path d="M566.3 284.4 L575 282 L583.7 286 L592.4 286.4 L601.1 286.8 L609.8 287.2 L618.5 287.6 L627.2 288 L635.9 288.4 L644.6 288.8 L653.3 289.2 L662 289.6 L670.7 290 L679.4 290.4" fill="none" stroke="#3a78a0" stroke-width="1.25" stroke-linejoin="round"/>
<path d="M566.3 284.4 L575 291 L583.7 301.6 L592.4 303.3 L601.1 305 L609.8 306.04 L618.5 307.09 L627.2 308.13 L635.9 309.18 L644.6 310.22 L653.3 311.27 L662 312.31 L670.7 313.36 L679.4 314.4 L679.4 314.4 L670.7 313.36 L662 312.31 L653.3 311.27 L644.6 310.22 L635.9 309.18 L627.2 308.13 L618.5 307.09 L609.8 306.04 L601.1 305 L592.4 309 L583.7 311 L575 296 L566.3 284.4Z" fill="#5de1f1" fill-opacity="0.5"/>
<path d="M566.3 284.4 L575 291 L583.7 301.6 L592.4 303.3 L601.1 305 L609.8 306.04 L618.5 307.09 L627.2 308.13 L635.9 309.18 L644.6 310.22 L653.3 311.27 L662 312.31 L670.7 313.36 L679.4 314.4" fill="none" stroke="#1e5068" stroke-width="1.25" stroke-linejoin="round"/>
<path d="M566.3 284.4 L575 296 L583.7 311 L592.4 309 L601.1 305 L609.8 306.04 L618.5 307.09 L627.2 308.13 L635.9 309.18 L644.6 310.22 L653.3 311.27 L662 312.31 L670.7 313.36 L679.4 314.4 L679.4 339.4 L670.7 336.36 L662 333.33 L653.3 330.29 L644.6 327.25 L635.9 324.22 L627.2 321.18 L618.5 318.15 L609.8 315.11 L601.1 312.07 L592.4 309.04 L583.7 306 L575 296 L566.3 284.4Z" fill="#eed8e6"/>
<path d="M566.3 284.4 L575 296 L583.7 311 L592.4 309 L601.1 305 L609.8 306.04 L618.5 307.09 L627.2 308.13 L635.9 309.18 L644.6 310.22 L653.3 311.27 L662 312.31 L670.7 313.36 L679.4 314.4" fill="none" stroke="#9c1a50" stroke-width="1.25" stroke-linejoin="round"/>
<path d="M566.3 284.4 L575 296 L583.7 306 L592.4 309.04 L601.1 312.07 L609.8 315.11 L618.5 318.15 L627.2 321.18 L635.9 324.22 L644.6 327.25 L653.3 330.29 L662 333.33 L670.7 336.36 L679.4 339.4 L679.4 359 L670.7 355.78 L662 352.56 L653.3 349.35 L644.6 346.13 L635.9 342.91 L627.2 339.69 L618.5 336.47 L609.8 333.25 L601.1 330.04 L592.4 326.82 L583.7 323.6 L575 304 L566.3 284.4Z" fill="#d5798b" fill-opacity="0.5"/>
<path d="M566.3 284.4 L575 296 L583.7 306 L592.4 309.04 L601.1 312.07 L609.8 315.11 L618.5 318.15 L627.2 321.18 L635.9 324.22 L644.6 327.25 L653.3 330.29 L662 333.33 L670.7 336.36 L679.4 339.4" fill="none" stroke="#741418" stroke-width="1.25" stroke-linejoin="round"/>
<path d="M566.3 284.4 L575 304 L583.7 323.6 L592.4 326.82 L601.1 330.04 L609.8 333.25 L618.5 336.47 L627.2 339.69 L635.9 342.91 L644.6 346.13 L653.3 349.35 L662 352.56 L670.7 355.78 L679.4 359 L679.4 367.4 L670.7 364.09 L662 360.78 L653.3 357.47 L644.6 354.16 L635.9 350.85 L627.2 347.55 L618.5 344.24 L609.8 340.93 L601.1 337.62 L592.4 334.31 L583.7 331 L575 308 L566.3 284.4Z" fill="#bbe5b1" fill-opacity="0.5"/>
<path d="M566.3 284.4 L575 308 L583.7 331 L592.4 334.31 L601.1 337.62 L609.8 340.93 L618.5 344.24 L627.2 347.55 L635.9 350.85 L644.6 354.16 L653.3 357.47 L662 360.78 L670.7 364.09 L679.4 367.4" fill="none" stroke="#1e5c24" stroke-width="1.25" stroke-linejoin="round"/>
<path d="M566.3 284.4 L575 304 L583.7 323.6 L592.4 326.82 L601.1 330.04 L609.8 333.25 L618.5 336.47 L627.2 339.69 L635.9 342.91 L644.6 346.13 L653.3 349.35 L662 352.56 L670.7 355.78 L679.4 359" fill="none" stroke="#4a8a30" stroke-width="1.25" stroke-linejoin="round"/>
<rect x="562.2" y="268.9" width="121.2" height="106.3" fill="none" stroke="#959595" stroke-width="1.2"/>
<rect x="562.2" y="268.9" width="121.2" height="9.1" fill="#c3c3c3" stroke="#9a9a9a" stroke-width="0.8"/>
<line x1="562.2" y1="278" x2="683.4" y2="278" stroke="#666" stroke-width="1"/>
<text x="622.8" y="275.8" text-anchor="middle" font-family="Liberation Sans" font-weight="bold" font-size="6.6" fill="#333" textLength="21.6" lengthAdjust="spacingAndGlyphs">Jiangxi</text>
<line x1="562.2" y1="277.4" x2="563.7" y2="277.4" stroke="#777" stroke-width="0.8"/>
<text x="560.6" y="280.2" text-anchor="end" font-family="Liberation Sans" font-weight="bold" font-size="6.6" fill="#222">0</text>
<line x1="562.2" y1="305.4" x2="563.7" y2="305.4" stroke="#777" stroke-width="0.8"/>
<text x="560.6" y="308.2" text-anchor="end" font-family="Liberation Sans" font-weight="bold" font-size="6.6" fill="#222">-1</text>
<line x1="562.2" y1="333.4" x2="563.7" y2="333.4" stroke="#777" stroke-width="0.8"/>
<text x="560.6" y="336.2" text-anchor="end" font-family="Liberation Sans" font-weight="bold" font-size="6.6" fill="#222">-2</text>
<line x1="562.2" y1="361.4" x2="563.7" y2="361.4" stroke="#777" stroke-width="0.8"/>
<text x="560.6" y="364.2" text-anchor="end" font-family="Liberation Sans" font-weight="bold" font-size="6.6" fill="#222">-3</text>
<line x1="566.3" y1="375.2" x2="566.3" y2="373.7" stroke="#777" stroke-width="0.8"/>
<text x="566.7" y="382.5" text-anchor="middle" font-family="Liberation Sans" font-weight="bold" font-size="7.6" fill="#222" textLength="13.9" lengthAdjust="spacingAndGlyphs">2022</text>
<line x1="583.7" y1="375.2" x2="583.7" y2="373.7" stroke="#777" stroke-width="0.8"/>
<text x="584.1" y="382.5" text-anchor="middle" font-family="Liberation Sans" font-weight="bold" font-size="7.6" fill="#222" textLength="13.9" lengthAdjust="spacingAndGlyphs">2024</text>
<line x1="601.1" y1="375.2" x2="601.1" y2="373.7" stroke="#777" stroke-width="0.8"/>
<text x="601.5" y="382.5" text-anchor="middle" font-family="Liberation Sans" font-weight="bold" font-size="7.6" fill="#222" textLength="13.9" lengthAdjust="spacingAndGlyphs">2026</text>
<line x1="618.5" y1="375.2" x2="618.5" y2="373.7" stroke="#777" stroke-width="0.8"/>
<text x="618.9" y="382.5" text-anchor="middle" font-family="Liberation Sans" font-weight="bold" font-size="7.6" fill="#222" textLength="13.9" lengthAdjust="spacingAndGlyphs">2028</text>
<line x1="635.9" y1="375.2" x2="635.9" y2="373.7" stroke="#777" stroke-width="0.8"/>
<text x="636.3" y="382.5" text-anchor="middle" font-family="Liberation Sans" font-weight="bold" font-size="7.6" fill="#222" textLength="13.9" lengthAdjust="spacingAndGlyphs">2030</text>
<line x1="653.3" y1="375.2" x2="653.3" y2="373.7" stroke="#777" stroke-width="0.8"/>
<text x="653.7" y="382.5" text-anchor="middle" font-family="Liberation Sans" font-weight="bold" font-size="7.6" fill="#222" textLength="13.9" lengthAdjust="spacingAndGlyphs">2032</text>
<line x1="670.7" y1="375.2" x2="670.7" y2="373.7" stroke="#777" stroke-width="0.8"/>
<text x="671.1" y="382.5" text-anchor="middle" font-family="Liberation Sans" font-weight="bold" font-size="7.6" fill="#222" textLength="13.9" lengthAdjust="spacingAndGlyphs">2034</text>
<path d="M17.2 409.6 L25.91 408.4 L34.62 414.4 L43.32 414.95 L52.03 415.49 L60.74 416.04 L69.45 416.58 L78.15 417.13 L86.86 417.67 L95.57 418.22 L104.28 418.76 L112.98 419.31 L121.69 419.85 L130.4 420.4 L130.4 431.4 L121.69 430.44 L112.98 429.48 L104.28 428.52 L95.57 427.56 L86.86 426.6 L78.15 425.83 L69.45 425.07 L60.74 424.3 L52.03 423.53 L43.32 422.77 L34.62 422 L25.91 413 L17.2 409.6Z" fill="#abe5f1" fill-opacity="0.5"/>
<path d="M17.2 409.6 L25.91 408.4 L34.62 414.4 L43.32 414.95 L52.03 415.49 L60.74 416.04 L69.45 416.58 L78.15 417.13 L86.86 417.67 L95.57 418.22 L104.28 418.76 L112.98 419.31 L121.69 419.85 L130.4 420.4" fill="none" stroke="#3a78a0" stroke-width="1.25" stroke-linejoin="round"/>
<path d="M17.2 409.6 L25.91 413 L34.62 422 L43.32 422.77 L52.03 423.53 L60.74 424.3 L69.45 425.07 L78.15 425.83 L86.86 426.6 L95.57 427.56 L104.28 428.52 L112.98 429.48 L121.69 430.44 L130.4 431.4 L130.4 431.4 L121.69 430.44 L112.98 429.48 L104.28 428.52 L95.57 427.56 L86.86 426.6 L78.15 427.3 L69.45 428 L60.74 428.5 L52.03 429 L43.32 428 L34.62 427 L25.91 418 L17.2 409.6Z" fill="#5de1f1" fill-opacity="0.5"/>
<path d="M17.2 409.6 L25.91 413 L34.62 422 L43.32 422.77 L52.03 423.53 L60.74 424.3 L69.45 425.07 L78.15 425.83 L86.86 426.6 L95.57 427.56 L104.28 428.52 L112.98 429.48 L121.69 430.44 L130.4 431.4" fill="none" stroke="#1e5068" stroke-width="1.25" stroke-linejoin="round"/>
<path d="M17.2 409.6 L25.91 418 L34.62 427 L43.32 428 L52.03 429 L60.74 428.5 L69.45 428 L78.15 427.3 L86.86 426.6 L95.57 427.56 L104.28 428.52 L112.98 429.48 L121.69 430.44 L130.4 431.4 L130.4 473.6 L121.69 470.6 L112.98 467.6 L104.28 464.6 L95.57 461.6 L86.86 458.6 L78.15 455.6 L69.45 452.6 L60.74 449.6 L52.03 446.6 L43.32 443.6 L34.62 440.6 L25.91 425 L17.2 409.6Z" fill="#eed8e6"/>
<path d="M17.2 409.6 L25.91 418 L34.62 427 L43.32 428 L52.03 429 L60.74 428.5 L69.45 428 L78.15 427.3 L86.86 426.6 L95.57 427.56 L104.28 428.52 L112.98 429.48 L121.69 430.44 L130.4 431.4" fill="none" stroke="#9c1a50" stroke-width="1.25" stroke-linejoin="round"/>
<path d="M17.2 409.6 L25.91 425 L34.62 440.6 L43.32 443.6 L52.03 446.6 L60.74 449.6 L69.45 452.6 L78.15 455.6 L86.86 458.6 L95.57 461.6 L104.28 464.6 L112.98 467.6 L121.69 470.6 L130.4 473.6 L130.4 486 L121.69 482.96 L112.98 479.93 L104.28 476.89 L95.57 473.85 L86.86 470.82 L78.15 467.78 L69.45 464.75 L60.74 461.71 L52.03 458.67 L43.32 455.64 L34.62 452.6 L25.91 432 L17.2 409.6Z" fill="#d5798b" fill-opacity="0.5"/>
<path d="M17.2 409.6 L25.91 425 L34.62 440.6 L43.32 443.6 L52.03 446.6 L60.74 449.6 L69.45 452.6 L78.15 455.6 L86.86 458.6 L95.57 461.6 L104.28 464.6 L112.98 467.6 L121.69 470.6 L130.4 473.6" fill="none" stroke="#741418" stroke-width="1.25" stroke-linejoin="round"/>
<path d="M17.2 409.6 L25.91 432 L34.62 452.6 L43.32 455.64 L52.03 458.67 L60.74 461.71 L69.45 464.75 L78.15 467.78 L86.86 470.82 L95.57 473.85 L104.28 476.89 L112.98 479.93 L121.69 482.96 L130.4 486 L130.4 490.6 L121.69 487.36 L112.98 484.13 L104.28 480.89 L95.57 477.65 L86.86 474.42 L78.15 471.18 L69.45 467.95 L60.74 464.71 L52.03 461.47 L43.32 458.24 L34.62 455 L25.91 434 L17.2 409.6Z" fill="#bbe5b1" fill-opacity="0.5"/>
<path d="M17.2 409.6 L25.91 434 L34.62 455 L43.32 458.24 L52.03 461.47 L60.74 464.71 L69.45 467.95 L78.15 471.18 L86.86 474.42 L95.57 477.65 L104.28 480.89 L112.98 484.13 L121.69 487.36 L130.4 490.6" fill="none" stroke="#1e5c24" stroke-width="1.25" stroke-linejoin="round"/>
<path d="M17.2 409.6 L25.91 432 L34.62 452.6 L43.32 455.64 L52.03 458.67 L60.74 461.71 L69.45 464.75 L78.15 467.78 L86.86 470.82 L95.57 473.85 L104.28 476.89 L112.98 479.93 L121.69 482.96 L130.4 486" fill="none" stroke="#4a8a30" stroke-width="1.25" stroke-linejoin="round"/>
<rect x="13" y="390.2" width="121.7" height="107.2" fill="none" stroke="#959595" stroke-width="1.2"/>
<rect x="13" y="390.2" width="121.7" height="9.8" fill="#c3c3c3" stroke="#9a9a9a" stroke-width="0.8"/>
<line x1="13" y1="400" x2="134.7" y2="400" stroke="#666" stroke-width="1"/>
<text x="73.85" y="397.8" text-anchor="middle" font-family="Liberation Sans" font-weight="bold" font-size="6.6" fill="#333" textLength="19" lengthAdjust="spacingAndGlyphs">Henan</text>
<line x1="13" y1="400" x2="14.5" y2="400" stroke="#777" stroke-width="0.8"/>
<text x="11.4" y="402.8" text-anchor="end" font-family="Liberation Sans" font-weight="bold" font-size="6.6" fill="#222">0</text>
<line x1="13" y1="428" x2="14.5" y2="428" stroke="#777" stroke-width="0.8"/>
<text x="11.4" y="430.8" text-anchor="end" font-family="Liberation Sans" font-weight="bold" font-size="6.6" fill="#222">-4</text>
<line x1="13" y1="456" x2="14.5" y2="456" stroke="#777" stroke-width="0.8"/>
<text x="11.4" y="458.8" text-anchor="end" font-family="Liberation Sans" font-weight="bold" font-size="6.6" fill="#222">-8</text>
<line x1="13" y1="483.6" x2="14.5" y2="483.6" stroke="#777" stroke-width="0.8"/>
<text x="11.4" y="486.4" text-anchor="end" font-family="Liberation Sans" font-weight="bold" font-size="6.6" fill="#222">-12</text>
<line x1="17.2" y1="497.4" x2="17.2" y2="495.9" stroke="#777" stroke-width="0.8"/>
<text x="17.6" y="504.7" text-anchor="middle" font-family="Liberation Sans" font-weight="bold" font-size="7.6" fill="#222" textLength="13.9" lengthAdjust="spacingAndGlyphs">2022</text>
<line x1="34.62" y1="497.4" x2="34.62" y2="495.9" stroke="#777" stroke-width="0.8"/>
<text x="35.02" y="504.7" text-anchor="middle" font-family="Liberation Sans" font-weight="bold" font-size="7.6" fill="#222" textLength="13.9" lengthAdjust="spacingAndGlyphs">2024</text>
<line x1="52.03" y1="497.4" x2="52.03" y2="495.9" stroke="#777" stroke-width="0.8"/>
<text x="52.43" y="504.7" text-anchor="middle" font-family="Liberation Sans" font-weight="bold" font-size="7.6" fill="#222" textLength="13.9" lengthAdjust="spacingAndGlyphs">2026</text>
<line x1="69.45" y1="497.4" x2="69.45" y2="495.9" stroke="#777" stroke-width="0.8"/>
<text x="69.85" y="504.7" text-anchor="middle" font-family="Liberation Sans" font-weight="bold" font-size="7.6" fill="#222" textLength="13.9" lengthAdjust="spacingAndGlyphs">2028</text>
<line x1="86.86" y1="497.4" x2="86.86" y2="495.9" stroke="#777" stroke-width="0.8"/>
<text x="87.26" y="504.7" text-anchor="middle" font-family="Liberation Sans" font-weight="bold" font-size="7.6" fill="#222" textLength="13.9" lengthAdjust="spacingAndGlyphs">2030</text>
<line x1="104.28" y1="497.4" x2="104.28" y2="495.9" stroke="#777" stroke-width="0.8"/>
<text x="104.68" y="504.7" text-anchor="middle" font-family="Liberation Sans" font-weight="bold" font-size="7.6" fill="#222" textLength="13.9" lengthAdjust="spacingAndGlyphs">2032</text>
<line x1="121.69" y1="497.4" x2="121.69" y2="495.9" stroke="#777" stroke-width="0.8"/>
<text x="122.09" y="504.7" text-anchor="middle" font-family="Liberation Sans" font-weight="bold" font-size="7.6" fill="#222" textLength="13.9" lengthAdjust="spacingAndGlyphs">2034</text>
<path d="M153.8 415 L162.52 412.6 L171.25 413.6 L179.97 413.87 L188.69 414.15 L197.42 414.42 L206.14 414.69 L214.86 414.96 L223.58 415.24 L232.31 415.51 L241.03 415.78 L249.75 416.05 L258.48 416.33 L267.2 416.6 L267.2 439.6 L258.48 438.82 L249.75 438.04 L241.03 437.25 L232.31 436.47 L223.58 435.69 L214.86 434.91 L206.14 434.13 L197.42 433.35 L188.69 432.56 L179.97 431.78 L171.25 431 L162.52 430 L153.8 415Z" fill="#abe5f1" fill-opacity="0.5"/>
<path d="M153.8 415 L162.52 412.6 L171.25 413.6 L179.97 413.87 L188.69 414.15 L197.42 414.42 L206.14 414.69 L214.86 414.96 L223.58 415.24 L232.31 415.51 L241.03 415.78 L249.75 416.05 L258.48 416.33 L267.2 416.6" fill="none" stroke="#3a78a0" stroke-width="1.25" stroke-linejoin="round"/>
<path d="M153.8 415 L162.52 430 L171.25 431 L179.97 431.78 L188.69 432.56 L197.42 433.35 L206.14 434.13 L214.86 434.91 L223.58 435.69 L232.31 436.47 L241.03 437.25 L249.75 438.04 L258.48 438.82 L267.2 439.6 L267.2 453.4 L258.48 452.6 L249.75 451.8 L241.03 451 L232.31 450.2 L223.58 449.4 L214.86 448.6 L206.14 447.8 L197.42 447 L188.69 446.2 L179.97 445.4 L171.25 444.6 L162.52 443.4 L153.8 415Z" fill="#5de1f1" fill-opacity="0.5"/>
<path d="M153.8 415 L162.52 430 L171.25 431 L179.97 431.78 L188.69 432.56 L197.42 433.35 L206.14 434.13 L214.86 434.91 L223.58 435.69 L232.31 436.47 L241.03 437.25 L249.75 438.04 L258.48 438.82 L267.2 439.6" fill="none" stroke="#1e5068" stroke-width="1.25" stroke-linejoin="round"/>
<path d="M153.8 415 L162.52 443.4 L171.25 444.6 L179.97 445.4 L188.69 446.2 L197.42 447 L206.14 447.8 L214.86 448.6 L223.58 449.4 L232.31 450.2 L241.03 451 L249.75 451.8 L258.48 452.6 L267.2 453.4 L267.2 462 L258.48 459.67 L249.75 457.35 L241.03 455.02 L232.31 452.69 L223.58 450.36 L214.86 448.04 L206.14 445.71 L197.42 443.38 L188.69 441.05 L179.97 438.73 L171.25 436.4 L162.52 438.6 L153.8 415Z" fill="#eed8e6"/>
<path d="M153.8 415 L162.52 443.4 L171.25 444.6 L179.97 445.4 L188.69 446.2 L197.42 447 L206.14 447.8 L214.86 448.6 L223.58 449.4 L232.31 450.2 L241.03 451 L249.75 451.8 L258.48 452.6 L267.2 453.4" fill="none" stroke="#9c1a50" stroke-width="1.25" stroke-linejoin="round"/>
<path d="M153.8 415 L162.52 438.6 L171.25 436.4 L179.97 438.73 L188.69 441.05 L197.42 443.38 L206.14 445.71 L214.86 448.04 L223.58 450.36 L232.31 452.69 L241.03 455.02 L249.75 457.35 L258.48 459.67 L267.2 462 L267.2 481 L258.48 479.25 L249.75 477.5 L241.03 475.75 L232.31 474 L223.58 472.25 L214.86 470.5 L206.14 467.88 L197.42 465.26 L188.69 462.64 L179.97 460.02 L171.25 457.4 L162.52 462.6 L153.8 415Z" fill="#d5798b" fill-opacity="0.5"/>
<path d="M153.8 415 L162.52 438.6 L171.25 436.4 L179.97 438.73 L188.69 441.05 L197.42 443.38 L206.14 445.71 L214.86 448.04 L223.58 450.36 L232.31 452.69 L241.03 455.02 L249.75 457.35 L258.48 459.67 L267.2 462" fill="none" stroke="#741418" stroke-width="1.25" stroke-linejoin="round"/>
<path d="M153.8 415 L162.52 462.6 L171.25 457.4 L179.97 460.02 L188.69 462.64 L197.42 465.26 L206.14 467.88 L214.86 470.5 L223.58 472.25 L232.31 474 L241.03 475.75 L249.75 477.5 L258.48 479.25 L267.2 481 L267.2 488.6 L258.48 486.83 L249.75 485.07 L241.03 483.3 L232.31 481.53 L223.58 479.77 L214.86 478 L206.14 475.32 L197.42 472.64 L188.69 469.96 L179.97 467.28 L171.25 464.6 L162.52 471 L153.8 415Z" fill="#bbe5b1" fill-opacity="0.5"/>
<path d="M153.8 415 L162.52 471 L171.25 464.6 L179.97 467.28 L188.69 469.96 L197.42 472.64 L206.14 475.32 L214.86 478 L223.58 479.77 L232.31 481.53 L241.03 483.3 L249.75 485.07 L258.48 486.83 L267.2 488.6" fill="none" stroke="#1e5c24" stroke-width="1.25" stroke-linejoin="round"/>
<path d="M153.8 415 L162.52 462.6 L171.25 457.4 L179.97 460.02 L188.69 462.64 L197.42 465.26 L206.14 467.88 L214.86 470.5 L223.58 472.25 L232.31 474 L241.03 475.75 L249.75 477.5 L258.48 479.25 L267.2 481" fill="none" stroke="#4a8a30" stroke-width="1.25" stroke-linejoin="round"/>
<rect x="149.6" y="390.2" width="121.9" height="107.1" fill="none" stroke="#959595" stroke-width="1.2"/>
<rect x="149.6" y="390.2" width="121.9" height="9.8" fill="#c3c3c3" stroke="#9a9a9a" stroke-width="0.8"/>
<line x1="149.6" y1="400" x2="271.5" y2="400" stroke="#666" stroke-width="1"/>
<text x="210.55" y="397.8" text-anchor="middle" font-family="Liberation Sans" font-weight="bold" font-size="6.6" fill="#333" textLength="29" lengthAdjust="spacingAndGlyphs">Shandong</text>
<line x1="149.6" y1="400" x2="151.1" y2="400" stroke="#777" stroke-width="0.8"/>
<text x="148" y="402.8" text-anchor="end" font-family="Liberation Sans" font-weight="bold" font-size="6.6" fill="#222">0.0</text>
<line x1="149.6" y1="424.4" x2="151.1" y2="424.4" stroke="#777" stroke-width="0.8"/>
<text x="148" y="427.2" text-anchor="end" font-family="Liberation Sans" font-weight="bold" font-size="6.6" fill="#222">-1.5</text>
<line x1="149.6" y1="449" x2="151.1" y2="449" stroke="#777" stroke-width="0.8"/>
<text x="148" y="451.8" text-anchor="end" font-family="Liberation Sans" font-weight="bold" font-size="6.6" fill="#222">-3.0</text>
<line x1="149.6" y1="473.4" x2="151.1" y2="473.4" stroke="#777" stroke-width="0.8"/>
<text x="148" y="476.2" text-anchor="end" font-family="Liberation Sans" font-weight="bold" font-size="6.6" fill="#222">-4.5</text>
<line x1="149.6" y1="498" x2="151.1" y2="498" stroke="#777" stroke-width="0.8"/>
<text x="148" y="500.8" text-anchor="end" font-family="Liberation Sans" font-weight="bold" font-size="6.6" fill="#222">-6.0</text>
<line x1="153.8" y1="497.3" x2="153.8" y2="495.8" stroke="#777" stroke-width="0.8"/>
<text x="154.2" y="504.6" text-anchor="middle" font-family="Liberation Sans" font-weight="bold" font-size="7.6" fill="#222" textLength="13.9" lengthAdjust="spacingAndGlyphs">2022</text>
<line x1="171.25" y1="497.3" x2="171.25" y2="495.8" stroke="#777" stroke-width="0.8"/>
<text x="171.65" y="504.6" text-anchor="middle" font-family="Liberation Sans" font-weight="bold" font-size="7.6" fill="#222" textLength="13.9" lengthAdjust="spacingAndGlyphs">2024</text>
<line x1="188.69" y1="497.3" x2="188.69" y2="495.8" stroke="#777" stroke-width="0.8"/>
<text x="189.09" y="504.6" text-anchor="middle" font-family="Liberation Sans" font-weight="bold" font-size="7.6" fill="#222" textLength="13.9" lengthAdjust="spacingAndGlyphs">2026</text>
<line x1="206.14" y1="497.3" x2="206.14" y2="495.8" stroke="#777" stroke-width="0.8"/>
<text x="206.54" y="504.6" text-anchor="middle" font-family="Liberation Sans" font-weight="bold" font-size="7.6" fill="#222" textLength="13.9" lengthAdjust="spacingAndGlyphs">2028</text>
<line x1="223.58" y1="497.3" x2="223.58" y2="495.8" stroke="#777" stroke-width="0.8"/>
<text x="223.98" y="504.6" text-anchor="middle" font-family="Liberation Sans" font-weight="bold" font-size="7.6" fill="#222" textLength="13.9" lengthAdjust="spacingAndGlyphs">2030</text>
<line x1="241.03" y1="497.3" x2="241.03" y2="495.8" stroke="#777" stroke-width="0.8"/>
<text x="241.43" y="504.6" text-anchor="middle" font-family="Liberation Sans" font-weight="bold" font-size="7.6" fill="#222" textLength="13.9" lengthAdjust="spacingAndGlyphs">2032</text>
<line x1="258.48" y1="497.3" x2="258.48" y2="495.8" stroke="#777" stroke-width="0.8"/>
<text x="258.88" y="504.6" text-anchor="middle" font-family="Liberation Sans" font-weight="bold" font-size="7.6" fill="#222" textLength="13.9" lengthAdjust="spacingAndGlyphs">2034</text>
<path d="M291.6 409 L300.32 410.4 L309.03 416 L317.75 416.55 L326.46 417.09 L335.18 417.64 L343.89 418.18 L352.61 418.73 L361.32 419.27 L370.04 419.82 L378.75 420.36 L387.47 420.91 L396.18 421.45 L404.9 422 L404.9 434.4 L396.18 433.49 L387.47 432.58 L378.75 431.67 L370.04 430.76 L361.32 429.85 L352.61 428.95 L343.89 428.04 L335.18 427.13 L326.46 426.22 L317.75 425.31 L309.03 424.4 L300.32 417 L291.6 409Z" fill="#abe5f1" fill-opacity="0.5"/>
<path d="M291.6 409 L300.32 410.4 L309.03 416 L317.75 416.55 L326.46 417.09 L335.18 417.64 L343.89 418.18 L352.61 418.73 L361.32 419.27 L370.04 419.82 L378.75 420.36 L387.47 420.91 L396.18 421.45 L404.9 422" fill="none" stroke="#3a78a0" stroke-width="1.25" stroke-linejoin="round"/>
<path d="M291.6 409 L300.32 417 L309.03 424.4 L317.75 425.31 L326.46 426.22 L335.18 427.13 L343.89 428.04 L352.61 428.95 L361.32 429.85 L370.04 430.76 L378.75 431.67 L387.47 432.58 L396.18 433.49 L404.9 434.4 L404.9 479.4 L396.18 477.36 L387.47 475.33 L378.75 473.29 L370.04 471.25 L361.32 469.22 L352.61 467.18 L343.89 465.15 L335.18 463.11 L326.46 461.07 L317.75 459.04 L309.03 457 L300.32 446 L291.6 409Z" fill="#5de1f1" fill-opacity="0.5"/>
<path d="M291.6 409 L300.32 417 L309.03 424.4 L317.75 425.31 L326.46 426.22 L335.18 427.13 L343.89 428.04 L352.61 428.95 L361.32 429.85 L370.04 430.76 L378.75 431.67 L387.47 432.58 L396.18 433.49 L404.9 434.4" fill="none" stroke="#1e5068" stroke-width="1.25" stroke-linejoin="round"/>
<path d="M291.6 409 L300.32 446 L309.03 457 L317.75 459.04 L326.46 461.07 L335.18 463.11 L343.89 465.15 L352.61 467.18 L361.32 469.22 L370.04 471.25 L378.75 473.29 L387.47 475.33 L396.18 477.36 L404.9 479.4 L404.9 479.4 L396.18 477.36 L387.47 475.33 L378.75 473.29 L370.04 471.25 L361.32 469.22 L352.61 467.18 L343.89 465.15 L335.18 463.11 L326.46 461.07 L317.75 459.04 L309.03 457 L300.32 446 L291.6 409Z" fill="#eed8e6"/>
<path d="M291.6 409 L300.32 446 L309.03 457 L317.75 459.04 L326.46 461.07 L335.18 463.11 L343.89 465.15 L352.61 467.18 L361.32 469.22 L370.04 471.25 L378.75 473.29 L387.47 475.33 L396.18 477.36 L404.9 479.4" fill="none" stroke="#9c1a50" stroke-width="1.25" stroke-linejoin="round"/>
<path d="M291.6 409 L300.32 446 L309.03 457 L317.75 459.04 L326.46 461.07 L335.18 463.11 L343.89 465.15 L352.61 467.18 L361.32 469.22 L370.04 471.25 L378.75 473.29 L387.47 475.33 L396.18 477.36 L404.9 479.4 L404.9 488.4 L396.18 486.36 L387.47 484.33 L378.75 482.29 L370.04 480.25 L361.32 478.22 L352.61 476.18 L343.89 474.15 L335.18 472.11 L326.46 470.07 L317.75 468.04 L309.03 466 L300.32 452 L291.6 409Z" fill="#d5798b" fill-opacity="0.5"/>
<path d="M291.6 409 L300.32 446 L309.03 457 L317.75 459.04 L326.46 461.07 L335.18 463.11 L343.89 465.15 L352.61 467.18 L361.32 469.22 L370.04 471.25 L378.75 473.29 L387.47 475.33 L396.18 477.36 L404.9 479.4" fill="none" stroke="#741418" stroke-width="1.25" stroke-linejoin="round"/>
<path d="M291.6 409 L300.32 452 L309.03 466 L317.75 468.04 L326.46 470.07 L335.18 472.11 L343.89 474.15 L352.61 476.18 L361.32 478.22 L370.04 480.25 L378.75 482.29 L387.47 484.33 L396.18 486.36 L404.9 488.4 L404.9 488.4 L396.18 486.36 L387.47 484.33 L378.75 482.29 L370.04 480.25 L361.32 478.22 L352.61 476.18 L343.89 474.15 L335.18 472.11 L326.46 470.07 L317.75 468.04 L309.03 466 L300.32 452 L291.6 409Z" fill="#bbe5b1" fill-opacity="0.5"/>
<path d="M291.6 409 L300.32 452 L309.03 466 L317.75 468.04 L326.46 470.07 L335.18 472.11 L343.89 474.15 L352.61 476.18 L361.32 478.22 L370.04 480.25 L378.75 482.29 L387.47 484.33 L396.18 486.36 L404.9 488.4" fill="none" stroke="#1e5c24" stroke-width="1.25" stroke-linejoin="round"/>
<path d="M291.6 409 L300.32 452 L309.03 466 L317.75 468.04 L326.46 470.07 L335.18 472.11 L343.89 474.15 L352.61 476.18 L361.32 478.22 L370.04 480.25 L378.75 482.29 L387.47 484.33 L396.18 486.36 L404.9 488.4" fill="none" stroke="#4a8a30" stroke-width="1.25" stroke-linejoin="round"/>
<rect x="287.5" y="390.2" width="121.4" height="107.1" fill="none" stroke="#959595" stroke-width="1.2"/>
<rect x="287.5" y="390.2" width="121.4" height="9.8" fill="#c3c3c3" stroke="#9a9a9a" stroke-width="0.8"/>
<line x1="287.5" y1="400" x2="408.9" y2="400" stroke="#666" stroke-width="1"/>
<text x="348.2" y="397.8" text-anchor="middle" font-family="Liberation Sans" font-weight="bold" font-size="6.6" fill="#333" textLength="23" lengthAdjust="spacingAndGlyphs">Shaanxi</text>
<line x1="287.5" y1="400" x2="289" y2="400" stroke="#777" stroke-width="0.8"/>
<text x="285.9" y="402.8" text-anchor="end" font-family="Liberation Sans" font-weight="bold" font-size="6.6" fill="#222">0</text>
<line x1="287.5" y1="435" x2="289" y2="435" stroke="#777" stroke-width="0.8"/>
<text x="285.9" y="437.8" text-anchor="end" font-family="Liberation Sans" font-weight="bold" font-size="6.6" fill="#222">-2</text>
<line x1="287.5" y1="470.6" x2="289" y2="470.6" stroke="#777" stroke-width="0.8"/>
<text x="285.9" y="473.4" text-anchor="end" font-family="Liberation Sans" font-weight="bold" font-size="6.6" fill="#222">-4</text>
<line x1="291.6" y1="497.3" x2="291.6" y2="495.8" stroke="#777" stroke-width="0.8"/>
<text x="292" y="504.6" text-anchor="middle" font-family="Liberation Sans" font-weight="bold" font-size="7.6" fill="#222" textLength="13.9" lengthAdjust="spacingAndGlyphs">2022</text>
<line x1="309.03" y1="497.3" x2="309.03" y2="495.8" stroke="#777" stroke-width="0.8"/>
<text x="309.43" y="504.6" text-anchor="middle" font-family="Liberation Sans" font-weight="bold" font-size="7.6" fill="#222" textLength="13.9" lengthAdjust="spacingAndGlyphs">2024</text>
<line x1="326.46" y1="497.3" x2="326.46" y2="495.8" stroke="#777" stroke-width="0.8"/>
<text x="326.86" y="504.6" text-anchor="middle" font-family="Liberation Sans" font-weight="bold" font-size="7.6" fill="#222" textLength="13.9" lengthAdjust="spacingAndGlyphs">2026</text>
<line x1="343.89" y1="497.3" x2="343.89" y2="495.8" stroke="#777" stroke-width="0.8"/>
<text x="344.29" y="504.6" text-anchor="middle" font-family="Liberation Sans" font-weight="bold" font-size="7.6" fill="#222" textLength="13.9" lengthAdjust="spacingAndGlyphs">2028</text>
<line x1="361.32" y1="497.3" x2="361.32" y2="495.8" stroke="#777" stroke-width="0.8"/>
<text x="361.72" y="504.6" text-anchor="middle" font-family="Liberation Sans" font-weight="bold" font-size="7.6" fill="#222" textLength="13.9" lengthAdjust="spacingAndGlyphs">2030</text>
<line x1="378.75" y1="497.3" x2="378.75" y2="495.8" stroke="#777" stroke-width="0.8"/>
<text x="379.15" y="504.6" text-anchor="middle" font-family="Liberation Sans" font-weight="bold" font-size="7.6" fill="#222" textLength="13.9" lengthAdjust="spacingAndGlyphs">2032</text>
<line x1="396.18" y1="497.3" x2="396.18" y2="495.8" stroke="#777" stroke-width="0.8"/>
<text x="396.58" y="504.6" text-anchor="middle" font-family="Liberation Sans" font-weight="bold" font-size="7.6" fill="#222" textLength="13.9" lengthAdjust="spacingAndGlyphs">2034</text>
<path d="M427.6 407.4 L436.32 405.4 L445.05 413 L453.77 414.6 L462.49 415.24 L471.22 415.88 L479.94 416.52 L488.66 417.16 L497.38 417.8 L506.11 418.44 L514.83 419.08 L523.55 419.72 L532.28 420.36 L541 421 L541 440.6 L532.28 439.34 L523.55 438.08 L514.83 436.82 L506.11 435.56 L497.38 434.3 L488.66 433.04 L479.94 431.78 L471.22 430.52 L462.49 429.26 L453.77 428 L445.05 425 L436.32 410 L427.6 407.4Z" fill="#abe5f1" fill-opacity="0.5"/>
<path d="M427.6 407.4 L436.32 405.4 L445.05 413 L453.77 414.6 L462.49 415.24 L471.22 415.88 L479.94 416.52 L488.66 417.16 L497.38 417.8 L506.11 418.44 L514.83 419.08 L523.55 419.72 L532.28 420.36 L541 421" fill="none" stroke="#3a78a0" stroke-width="1.25" stroke-linejoin="round"/>
<path d="M427.6 407.4 L436.32 410 L445.05 425 L453.77 428 L462.49 429.26 L471.22 430.52 L479.94 431.78 L488.66 433.04 L497.38 434.3 L506.11 435.56 L514.83 436.82 L523.55 438.08 L532.28 439.34 L541 440.6 L541 475 L532.28 471.14 L523.55 467.28 L514.83 463.42 L506.11 459.56 L497.38 455.7 L488.66 451.84 L479.94 447.98 L471.22 444.12 L462.49 440.26 L453.77 436.4 L445.05 431 L436.32 414 L427.6 407.4Z" fill="#5de1f1" fill-opacity="0.5"/>
<path d="M427.6 407.4 L436.32 410 L445.05 425 L453.77 428 L462.49 429.26 L471.22 430.52 L479.94 431.78 L488.66 433.04 L497.38 434.3 L506.11 435.56 L514.83 436.82 L523.55 438.08 L532.28 439.34 L541 440.6" fill="none" stroke="#1e5068" stroke-width="1.25" stroke-linejoin="round"/>
<path d="M427.6 407.4 L436.32 414 L445.05 431 L453.77 436.4 L462.49 440.26 L471.22 444.12 L479.94 447.98 L488.66 451.84 L497.38 455.7 L506.11 459.56 L514.83 463.42 L523.55 467.28 L532.28 471.14 L541 475 L541 475 L532.28 471.14 L523.55 467.28 L514.83 463.42 L506.11 459.56 L497.38 455.7 L488.66 451.84 L479.94 447.98 L471.22 444.12 L462.49 440.26 L453.77 436.4 L445.05 431 L436.32 414 L427.6 407.4Z" fill="#eed8e6"/>
<path d="M427.6 407.4 L436.32 414 L445.05 431 L453.77 436.4 L462.49 440.26 L471.22 444.12 L479.94 447.98 L488.66 451.84 L497.38 455.7 L506.11 459.56 L514.83 463.42 L523.55 467.28 L532.28 471.14 L541 475" fill="none" stroke="#9c1a50" stroke-width="1.25" stroke-linejoin="round"/>
<path d="M427.6 407.4 L436.32 414 L445.05 431 L453.77 436.4 L462.49 440.26 L471.22 444.12 L479.94 447.98 L488.66 451.84 L497.38 455.7 L506.11 459.56 L514.83 463.42 L523.55 467.28 L532.28 471.14 L541 475 L541 490.4 L532.28 486.26 L523.55 482.12 L514.83 477.98 L506.11 473.84 L497.38 469.7 L488.66 465.56 L479.94 461.42 L471.22 457.28 L462.49 453.14 L453.77 449 L445.05 442 L436.32 420 L427.6 407.4Z" fill="#d5798b" fill-opacity="0.5"/>
<path d="M427.6 407.4 L436.32 414 L445.05 431 L453.77 436.4 L462.49 440.26 L471.22 444.12 L479.94 447.98 L488.66 451.84 L497.38 455.7 L506.11 459.56 L514.83 463.42 L523.55 467.28 L532.28 471.14 L541 475" fill="none" stroke="#741418" stroke-width="1.25" stroke-linejoin="round"/>
<path d="M427.6 407.4 L436.32 420 L445.05 442 L453.77 449 L462.49 453.14 L471.22 457.28 L479.94 461.42 L488.66 465.56 L497.38 469.7 L506.11 473.84 L514.83 477.98 L523.55 482.12 L532.28 486.26 L541 490.4 L541 490.4 L532.28 486.26 L523.55 482.12 L514.83 477.98 L506.11 473.84 L497.38 469.7 L488.66 465.56 L479.94 461.42 L471.22 457.28 L462.49 453.14 L453.77 449 L445.05 442 L436.32 420 L427.6 407.4Z" fill="#bbe5b1" fill-opacity="0.5"/>
<path d="M427.6 407.4 L436.32 420 L445.05 442 L453.77 449 L462.49 453.14 L471.22 457.28 L479.94 461.42 L488.66 465.56 L497.38 469.7 L506.11 473.84 L514.83 477.98 L523.55 482.12 L532.28 486.26 L541 490.4" fill="none" stroke="#1e5c24" stroke-width="1.25" stroke-linejoin="round"/>
<path d="M427.6 407.4 L436.32 420 L445.05 442 L453.77 449 L462.49 453.14 L471.22 457.28 L479.94 461.42 L488.66 465.56 L497.38 469.7 L506.11 473.84 L514.83 477.98 L523.55 482.12 L532.28 486.26 L541 490.4" fill="none" stroke="#4a8a30" stroke-width="1.25" stroke-linejoin="round"/>
<rect x="424" y="390.2" width="121.4" height="107" fill="none" stroke="#959595" stroke-width="1.2"/>
<rect x="424" y="390.2" width="121.4" height="9.8" fill="#c3c3c3" stroke="#9a9a9a" stroke-width="0.8"/>
<line x1="424" y1="400" x2="545.4" y2="400" stroke="#666" stroke-width="1"/>
<text x="484.7" y="397.8" text-anchor="middle" font-family="Liberation Sans" font-weight="bold" font-size="6.6" fill="#333" textLength="18.8" lengthAdjust="spacingAndGlyphs">Gansu</text>
<line x1="424" y1="400" x2="425.5" y2="400" stroke="#777" stroke-width="0.8"/>
<text x="422.4" y="402.8" text-anchor="end" font-family="Liberation Sans" font-weight="bold" font-size="6.6" fill="#222">0.0</text>
<line x1="424" y1="420.6" x2="425.5" y2="420.6" stroke="#777" stroke-width="0.8"/>
<text x="422.4" y="423.4" text-anchor="end" font-family="Liberation Sans" font-weight="bold" font-size="6.6" fill="#222">-0.5</text>
<line x1="424" y1="442" x2="425.5" y2="442" stroke="#777" stroke-width="0.8"/>
<text x="422.4" y="444.8" text-anchor="end" font-family="Liberation Sans" font-weight="bold" font-size="6.6" fill="#222">-1.0</text>
<line x1="424" y1="463" x2="425.5" y2="463" stroke="#777" stroke-width="0.8"/>
<text x="422.4" y="465.8" text-anchor="end" font-family="Liberation Sans" font-weight="bold" font-size="6.6" fill="#222">-1.5</text>
<line x1="424" y1="484.4" x2="425.5" y2="484.4" stroke="#777" stroke-width="0.8"/>
<text x="422.4" y="487.2" text-anchor="end" font-family="Liberation Sans" font-weight="bold" font-size="6.6" fill="#222">-2.0</text>
<line x1="427.6" y1="497.2" x2="427.6" y2="495.7" stroke="#777" stroke-width="0.8"/>
<text x="428" y="504.5" text-anchor="middle" font-family="Liberation Sans" font-weight="bold" font-size="7.6" fill="#222" textLength="13.9" lengthAdjust="spacingAndGlyphs">2022</text>
<line x1="445.05" y1="497.2" x2="445.05" y2="495.7" stroke="#777" stroke-width="0.8"/>
<text x="445.45" y="504.5" text-anchor="middle" font-family="Liberation Sans" font-weight="bold" font-size="7.6" fill="#222" textLength="13.9" lengthAdjust="spacingAndGlyphs">2024</text>
<line x1="462.49" y1="497.2" x2="462.49" y2="495.7" stroke="#777" stroke-width="0.8"/>
<text x="462.89" y="504.5" text-anchor="middle" font-family="Liberation Sans" font-weight="bold" font-size="7.6" fill="#222" textLength="13.9" lengthAdjust="spacingAndGlyphs">2026</text>
<line x1="479.94" y1="497.2" x2="479.94" y2="495.7" stroke="#777" stroke-width="0.8"/>
<text x="480.34" y="504.5" text-anchor="middle" font-family="Liberation Sans" font-weight="bold" font-size="7.6" fill="#222" textLength="13.9" lengthAdjust="spacingAndGlyphs">2028</text>
<line x1="497.38" y1="497.2" x2="497.38" y2="495.7" stroke="#777" stroke-width="0.8"/>
<text x="497.78" y="504.5" text-anchor="middle" font-family="Liberation Sans" font-weight="bold" font-size="7.6" fill="#222" textLength="13.9" lengthAdjust="spacingAndGlyphs">2030</text>
<line x1="514.83" y1="497.2" x2="514.83" y2="495.7" stroke="#777" stroke-width="0.8"/>
<text x="515.23" y="504.5" text-anchor="middle" font-family="Liberation Sans" font-weight="bold" font-size="7.6" fill="#222" textLength="13.9" lengthAdjust="spacingAndGlyphs">2032</text>
<line x1="532.28" y1="497.2" x2="532.28" y2="495.7" stroke="#777" stroke-width="0.8"/>
<text x="532.68" y="504.5" text-anchor="middle" font-family="Liberation Sans" font-weight="bold" font-size="7.6" fill="#222" textLength="13.9" lengthAdjust="spacingAndGlyphs">2034</text>
<path d="M566.3 408 L575 408.5 L583.7 409.6 L592.4 411.8 L601.1 412.6 L609.8 412.76 L618.5 412.91 L627.2 413.07 L635.9 413.22 L644.6 413.38 L653.3 413.53 L662 413.69 L670.7 413.84 L679.4 414 L679.4 448 L670.7 447.29 L662 446.57 L653.3 445.86 L644.6 445.14 L635.9 444.43 L627.2 443.71 L618.5 443 L609.8 441.85 L601.1 440.7 L592.4 438.5 L583.7 427 L575 422.8 L566.3 408Z" fill="#abe5f1" fill-opacity="0.5"/>
<path d="M566.3 408 L575 408.5 L583.7 409.6 L592.4 411.8 L601.1 412.6 L609.8 412.76 L618.5 412.91 L627.2 413.07 L635.9 413.22 L644.6 413.38 L653.3 413.53 L662 413.69 L670.7 413.84 L679.4 414" fill="none" stroke="#3a78a0" stroke-width="1.25" stroke-linejoin="round"/>
<path d="M566.3 408 L575 422.8 L583.7 427 L592.4 438.5 L601.1 440.7 L609.8 441.85 L618.5 443 L627.2 443.71 L635.9 444.43 L644.6 445.14 L653.3 445.86 L662 446.57 L670.7 447.29 L679.4 448 L679.4 460 L670.7 457.67 L662 455.33 L653.3 453 L644.6 450.67 L635.9 448.33 L627.2 446 L618.5 443.67 L609.8 441.33 L601.1 439 L592.4 435 L583.7 424.6 L575 421 L566.3 408Z" fill="#5de1f1" fill-opacity="0.5"/>
<path d="M566.3 408 L575 422.8 L583.7 427 L592.4 438.5 L601.1 440.7 L609.8 441.85 L618.5 443 L627.2 443.71 L635.9 444.43 L644.6 445.14 L653.3 445.86 L662 446.57 L670.7 447.29 L679.4 448" fill="none" stroke="#1e5068" stroke-width="1.25" stroke-linejoin="round"/>
<path d="M566.3 408 L575 421 L583.7 424.6 L592.4 435 L601.1 439 L609.8 441.33 L618.5 443.67 L627.2 446 L635.9 448.33 L644.6 450.67 L653.3 453 L662 455.33 L670.7 457.67 L679.4 460 L679.4 460 L670.7 457.67 L662 455.33 L653.3 453 L644.6 450.67 L635.9 448.33 L627.2 446 L618.5 443.67 L609.8 441.33 L601.1 439 L592.4 435 L583.7 424.6 L575 421 L566.3 408Z" fill="#eed8e6"/>
<path d="M566.3 408 L575 421 L583.7 424.6 L592.4 435 L601.1 439 L609.8 441.33 L618.5 443.67 L627.2 446 L635.9 448.33 L644.6 450.67 L653.3 453 L662 455.33 L670.7 457.67 L679.4 460" fill="none" stroke="#9c1a50" stroke-width="1.25" stroke-linejoin="round"/>
<path d="M566.3 408 L575 421 L583.7 424.6 L592.4 435 L601.1 439 L609.8 441.33 L618.5 443.67 L627.2 446 L635.9 448.33 L644.6 450.67 L653.3 453 L662 455.33 L670.7 457.67 L679.4 460 L679.4 487.4 L670.7 485.13 L662 482.87 L653.3 480.6 L644.6 478.33 L635.9 476.07 L627.2 473.8 L618.5 471.53 L609.8 469.27 L601.1 467 L592.4 462 L583.7 442.6 L575 438 L566.3 408Z" fill="#d5798b" fill-opacity="0.5"/>
<path d="M566.3 408 L575 421 L583.7 424.6 L592.4 435 L601.1 439 L609.8 441.33 L618.5 443.67 L627.2 446 L635.9 448.33 L644.6 450.67 L653.3 453 L662 455.33 L670.7 457.67 L679.4 460" fill="none" stroke="#741418" stroke-width="1.25" stroke-linejoin="round"/>
<path d="M566.3 408 L575 438 L583.7 442.6 L592.4 462 L601.1 467 L609.8 469.27 L618.5 471.53 L627.2 473.8 L635.9 476.07 L644.6 478.33 L653.3 480.6 L662 482.87 L670.7 485.13 L679.4 487.4 L679.4 487.4 L670.7 485.13 L662 482.87 L653.3 480.6 L644.6 478.33 L635.9 476.07 L627.2 473.8 L618.5 471.53 L609.8 469.27 L601.1 467 L592.4 462 L583.7 442.6 L575 438 L566.3 408Z" fill="#bbe5b1" fill-opacity="0.5"/>
<path d="M566.3 408 L575 438 L583.7 442.6 L592.4 462 L601.1 467 L609.8 469.27 L618.5 471.53 L627.2 473.8 L635.9 476.07 L644.6 478.33 L653.3 480.6 L662 482.87 L670.7 485.13 L679.4 487.4" fill="none" stroke="#1e5c24" stroke-width="1.25" stroke-linejoin="round"/>
<path d="M566.3 408 L575 438 L583.7 442.6 L592.4 462 L601.1 467 L609.8 469.27 L618.5 471.53 L627.2 473.8 L635.9 476.07 L644.6 478.33 L653.3 480.6 L662 482.87 L670.7 485.13 L679.4 487.4" fill="none" stroke="#4a8a30" stroke-width="1.25" stroke-linejoin="round"/>
<rect x="562.2" y="390.2" width="121.2" height="107" fill="none" stroke="#959595" stroke-width="1.2"/>
<rect x="562.2" y="390.2" width="121.2" height="9.8" fill="#c3c3c3" stroke="#9a9a9a" stroke-width="0.8"/>
<line x1="562.2" y1="400" x2="683.4" y2="400" stroke="#666" stroke-width="1"/>
<text x="622.8" y="397.8" text-anchor="middle" font-family="Liberation Sans" font-weight="bold" font-size="6.6" fill="#333" textLength="23.4" lengthAdjust="spacingAndGlyphs">Xinjiang</text>
<line x1="562.2" y1="405" x2="563.7" y2="405" stroke="#777" stroke-width="0.8"/>
<text x="560.6" y="407.8" text-anchor="end" font-family="Liberation Sans" font-weight="bold" font-size="6.6" fill="#222">0.0</text>
<line x1="562.2" y1="433.6" x2="563.7" y2="433.6" stroke="#777" stroke-width="0.8"/>
<text x="560.6" y="436.4" text-anchor="end" font-family="Liberation Sans" font-weight="bold" font-size="6.6" fill="#222">-0.5</text>
<line x1="562.2" y1="462.4" x2="563.7" y2="462.4" stroke="#777" stroke-width="0.8"/>
<text x="560.6" y="465.2" text-anchor="end" font-family="Liberation Sans" font-weight="bold" font-size="6.6" fill="#222">-1.0</text>
<line x1="562.2" y1="491" x2="563.7" y2="491" stroke="#777" stroke-width="0.8"/>
<text x="560.6" y="493.8" text-anchor="end" font-family="Liberation Sans" font-weight="bold" font-size="6.6" fill="#222">-1.5</text>
<line x1="566.3" y1="497.2" x2="566.3" y2="495.7" stroke="#777" stroke-width="0.8"/>
<text x="566.7" y="504.5" text-anchor="middle" font-family="Liberation Sans" font-weight="bold" font-size="7.6" fill="#222" textLength="13.9" lengthAdjust="spacingAndGlyphs">2022</text>
<line x1="583.7" y1="497.2" x2="583.7" y2="495.7" stroke="#777" stroke-width="0.8"/>
<text x="584.1" y="504.5" text-anchor="middle" font-family="Liberation Sans" font-weight="bold" font-size="7.6" fill="#222" textLength="13.9" lengthAdjust="spacingAndGlyphs">2024</text>
<line x1="601.1" y1="497.2" x2="601.1" y2="495.7" stroke="#777" stroke-width="0.8"/>
<text x="601.5" y="504.5" text-anchor="middle" font-family="Liberation Sans" font-weight="bold" font-size="7.6" fill="#222" textLength="13.9" lengthAdjust="spacingAndGlyphs">2026</text>
<line x1="618.5" y1="497.2" x2="618.5" y2="495.7" stroke="#777" stroke-width="0.8"/>
<text x="618.9" y="504.5" text-anchor="middle" font-family="Liberation Sans" font-weight="bold" font-size="7.6" fill="#222" textLength="13.9" lengthAdjust="spacingAndGlyphs">2028</text>
<line x1="635.9" y1="497.2" x2="635.9" y2="495.7" stroke="#777" stroke-width="0.8"/>
<text x="636.3" y="504.5" text-anchor="middle" font-family="Liberation Sans" font-weight="bold" font-size="7.6" fill="#222" textLength="13.9" lengthAdjust="spacingAndGlyphs">2030</text>
<line x1="653.3" y1="497.2" x2="653.3" y2="495.7" stroke="#777" stroke-width="0.8"/>
<text x="653.7" y="504.5" text-anchor="middle" font-family="Liberation Sans" font-weight="bold" font-size="7.6" fill="#222" textLength="13.9" lengthAdjust="spacingAndGlyphs">2032</text>
<line x1="670.7" y1="497.2" x2="670.7" y2="495.7" stroke="#777" stroke-width="0.8"/>
<text x="671.1" y="504.5" text-anchor="middle" font-family="Liberation Sans" font-weight="bold" font-size="7.6" fill="#222" textLength="13.9" lengthAdjust="spacingAndGlyphs">2034</text>
<path d="M17.2 539 L25.91 536 L34.62 538 L43.32 538.64 L52.03 539.27 L60.74 539.91 L69.45 540.55 L78.15 541.18 L86.86 541.82 L95.57 542.45 L104.28 543.09 L112.98 543.73 L121.69 544.36 L130.4 545 L130.4 572.4 L121.69 571.36 L112.98 570.33 L104.28 569.29 L95.57 568.26 L86.86 567.22 L78.15 566.18 L69.45 565.15 L60.74 564.11 L58.13 563.8 L52.03 562.06 L43.32 559.58 L34.62 557.1 L25.91 553.2 L17.2 539Z" fill="#abe5f1" fill-opacity="0.5"/>
<path d="M17.2 539 L25.91 536 L34.62 538 L43.32 538.64 L52.03 539.27 L60.74 539.91 L69.45 540.55 L78.15 541.18 L86.86 541.82 L95.57 542.45 L104.28 543.09 L112.98 543.73 L121.69 544.36 L130.4 545" fill="none" stroke="#3a78a0" stroke-width="1.25" stroke-linejoin="round"/>
<path d="M17.2 539 L25.91 553.2 L34.62 557.1 L43.32 559.58 L52.03 562.06 L58.13 563.8 L60.74 564.11 L69.45 565.15 L78.15 566.18 L86.86 567.22 L95.57 568.26 L104.28 569.29 L112.98 570.33 L121.69 571.36 L130.4 572.4 L130.4 572.4 L121.69 571.36 L112.98 570.33 L104.28 569.29 L95.57 568.26 L86.86 567.22 L78.15 566.18 L69.45 565.15 L60.74 564.11 L58.13 563.8 L52.03 566.8 L43.32 569.6 L34.62 570.3 L25.91 565.5 L17.2 539Z" fill="#5de1f1" fill-opacity="0.5"/>
<path d="M17.2 539 L25.91 553.2 L34.62 557.1 L43.32 559.58 L52.03 562.06 L58.13 563.8 L60.74 564.11 L69.45 565.15 L78.15 566.18 L86.86 567.22 L95.57 568.26 L104.28 569.29 L112.98 570.33 L121.69 571.36 L130.4 572.4" fill="none" stroke="#1e5068" stroke-width="1.25" stroke-linejoin="round"/>
<path d="M17.2 539 L25.91 565.5 L34.62 570.3 L43.32 569.6 L52.03 566.8 L58.13 563.8 L60.74 564.11 L69.45 565.15 L78.15 566.18 L86.86 567.22 L95.57 568.26 L104.28 569.29 L112.98 570.33 L121.69 571.36 L130.4 572.4 L130.4 585.6 L121.69 583.04 L112.98 580.47 L104.28 577.91 L95.57 575.35 L86.86 572.78 L78.15 570.22 L69.45 567.65 L60.74 565.09 L52.03 562.53 L43.32 559.96 L34.62 557.4 L25.91 558.6 L17.2 539Z" fill="#eed8e6"/>
<path d="M17.2 539 L25.91 565.5 L34.62 570.3 L43.32 569.6 L52.03 566.8 L58.13 563.8 L60.74 564.11 L69.45 565.15 L78.15 566.18 L86.86 567.22 L95.57 568.26 L104.28 569.29 L112.98 570.33 L121.69 571.36 L130.4 572.4" fill="none" stroke="#9c1a50" stroke-width="1.25" stroke-linejoin="round"/>
<path d="M17.2 539 L25.91 558.6 L34.62 557.4 L43.32 559.96 L52.03 562.53 L60.74 565.09 L69.45 567.65 L78.15 570.22 L86.86 572.78 L95.57 575.35 L104.28 577.91 L112.98 580.47 L121.69 583.04 L130.4 585.6 L130.4 601.6 L121.69 599.13 L112.98 596.65 L104.28 594.18 L95.57 591.71 L86.86 589.24 L78.15 586.76 L69.45 584.29 L60.74 581.82 L52.03 579.35 L43.32 576.87 L34.62 574.4 L25.91 576.4 L17.2 539Z" fill="#d5798b" fill-opacity="0.5"/>
<path d="M17.2 539 L25.91 558.6 L34.62 557.4 L43.32 559.96 L52.03 562.53 L60.74 565.09 L69.45 567.65 L78.15 570.22 L86.86 572.78 L95.57 575.35 L104.28 577.91 L112.98 580.47 L121.69 583.04 L130.4 585.6" fill="none" stroke="#741418" stroke-width="1.25" stroke-linejoin="round"/>
<path d="M17.2 539 L25.91 576.4 L34.62 574.4 L43.32 576.87 L52.03 579.35 L60.74 581.82 L69.45 584.29 L78.15 586.76 L86.86 589.24 L95.57 591.71 L104.28 594.18 L112.98 596.65 L121.69 599.13 L130.4 601.6 L130.4 611 L121.69 608.51 L112.98 606.02 L104.28 603.53 L95.57 601.04 L86.86 598.55 L78.15 596.05 L69.45 593.56 L60.74 591.07 L52.03 588.58 L43.32 586.09 L34.62 583.6 L25.91 586.4 L17.2 539Z" fill="#bbe5b1" fill-opacity="0.5"/>
<path d="M17.2 539 L25.91 586.4 L34.62 583.6 L43.32 586.09 L52.03 588.58 L60.74 591.07 L69.45 593.56 L78.15 596.05 L86.86 598.55 L95.57 601.04 L104.28 603.53 L112.98 606.02 L121.69 608.51 L130.4 611" fill="none" stroke="#1e5c24" stroke-width="1.25" stroke-linejoin="round"/>
<path d="M17.2 539 L25.91 576.4 L34.62 574.4 L43.32 576.87 L52.03 579.35 L60.74 581.82 L69.45 584.29 L78.15 586.76 L86.86 589.24 L95.57 591.71 L104.28 594.18 L112.98 596.65 L121.69 599.13 L130.4 601.6" fill="none" stroke="#4a8a30" stroke-width="1.25" stroke-linejoin="round"/>
<rect x="13" y="511.4" width="121.7" height="107.6" fill="none" stroke="#959595" stroke-width="1.2"/>
<rect x="13" y="511.4" width="121.7" height="10" fill="#c3c3c3" stroke="#9a9a9a" stroke-width="0.8"/>
<line x1="13" y1="521.4" x2="134.7" y2="521.4" stroke="#666" stroke-width="1"/>
<text x="73.85" y="519.2" text-anchor="middle" font-family="Liberation Sans" font-weight="bold" font-size="6.6" fill="#333" textLength="23" lengthAdjust="spacingAndGlyphs">Sichuan</text>
<line x1="13" y1="521" x2="14.5" y2="521" stroke="#777" stroke-width="0.8"/>
<text x="11.4" y="523.8" text-anchor="end" font-family="Liberation Sans" font-weight="bold" font-size="6.6" fill="#222">0</text>
<line x1="13" y1="547.4" x2="14.5" y2="547.4" stroke="#777" stroke-width="0.8"/>
<text x="11.4" y="550.2" text-anchor="end" font-family="Liberation Sans" font-weight="bold" font-size="6.6" fill="#222">-1</text>
<line x1="13" y1="573.6" x2="14.5" y2="573.6" stroke="#777" stroke-width="0.8"/>
<text x="11.4" y="576.4" text-anchor="end" font-family="Liberation Sans" font-weight="bold" font-size="6.6" fill="#222">-2</text>
<line x1="13" y1="599.4" x2="14.5" y2="599.4" stroke="#777" stroke-width="0.8"/>
<text x="11.4" y="602.2" text-anchor="end" font-family="Liberation Sans" font-weight="bold" font-size="6.6" fill="#222">-3</text>
<line x1="17.2" y1="619" x2="17.2" y2="617.5" stroke="#777" stroke-width="0.8"/>
<text x="17.6" y="626.3" text-anchor="middle" font-family="Liberation Sans" font-weight="bold" font-size="7.6" fill="#222" textLength="13.9" lengthAdjust="spacingAndGlyphs">2022</text>
<line x1="34.62" y1="619" x2="34.62" y2="617.5" stroke="#777" stroke-width="0.8"/>
<text x="35.02" y="626.3" text-anchor="middle" font-family="Liberation Sans" font-weight="bold" font-size="7.6" fill="#222" textLength="13.9" lengthAdjust="spacingAndGlyphs">2024</text>
<line x1="52.03" y1="619" x2="52.03" y2="617.5" stroke="#777" stroke-width="0.8"/>
<text x="52.43" y="626.3" text-anchor="middle" font-family="Liberation Sans" font-weight="bold" font-size="7.6" fill="#222" textLength="13.9" lengthAdjust="spacingAndGlyphs">2026</text>
<line x1="69.45" y1="619" x2="69.45" y2="617.5" stroke="#777" stroke-width="0.8"/>
<text x="69.85" y="626.3" text-anchor="middle" font-family="Liberation Sans" font-weight="bold" font-size="7.6" fill="#222" textLength="13.9" lengthAdjust="spacingAndGlyphs">2028</text>
<line x1="86.86" y1="619" x2="86.86" y2="617.5" stroke="#777" stroke-width="0.8"/>
<text x="87.26" y="626.3" text-anchor="middle" font-family="Liberation Sans" font-weight="bold" font-size="7.6" fill="#222" textLength="13.9" lengthAdjust="spacingAndGlyphs">2030</text>
<line x1="104.28" y1="619" x2="104.28" y2="617.5" stroke="#777" stroke-width="0.8"/>
<text x="104.68" y="626.3" text-anchor="middle" font-family="Liberation Sans" font-weight="bold" font-size="7.6" fill="#222" textLength="13.9" lengthAdjust="spacingAndGlyphs">2032</text>
<line x1="121.69" y1="619" x2="121.69" y2="617.5" stroke="#777" stroke-width="0.8"/>
<text x="122.09" y="626.3" text-anchor="middle" font-family="Liberation Sans" font-weight="bold" font-size="7.6" fill="#222" textLength="13.9" lengthAdjust="spacingAndGlyphs">2034</text>
<path d="M153.8 545.4 L162.52 543.4 L171.25 546.4 L179.97 546.87 L188.69 547.35 L197.42 547.82 L206.14 548.29 L214.86 548.76 L223.58 549.24 L232.31 549.71 L241.03 550.18 L249.75 550.65 L258.48 551.13 L267.2 551.6 L267.2 566.6 L258.48 565.87 L249.75 565.15 L241.03 564.42 L232.31 563.69 L223.58 562.96 L214.86 562.24 L206.14 561.51 L197.42 560.78 L188.69 560.05 L179.97 559.33 L171.25 558.6 L162.52 554.4 L153.8 545.4Z" fill="#abe5f1" fill-opacity="0.5"/>
<path d="M153.8 545.4 L162.52 543.4 L171.25 546.4 L179.97 546.87 L188.69 547.35 L197.42 547.82 L206.14 548.29 L214.86 548.76 L223.58 549.24 L232.31 549.71 L241.03 550.18 L249.75 550.65 L258.48 551.13 L267.2 551.6" fill="none" stroke="#3a78a0" stroke-width="1.25" stroke-linejoin="round"/>
<path d="M153.8 545.4 L162.52 554.4 L171.25 558.6 L179.97 559.33 L188.69 560.05 L197.42 560.78 L206.14 561.51 L214.86 562.24 L223.58 562.96 L232.31 563.69 L241.03 564.42 L249.75 565.15 L258.48 565.87 L267.2 566.6 L267.2 581 L258.48 580.4 L249.75 579.8 L241.03 579.2 L232.31 578.6 L223.58 578 L214.86 577 L206.14 576 L197.42 575 L188.69 574 L179.97 573 L171.25 572 L162.52 570 L153.8 545.4Z" fill="#5de1f1" fill-opacity="0.5"/>
<path d="M153.8 545.4 L162.52 554.4 L171.25 558.6 L179.97 559.33 L188.69 560.05 L197.42 560.78 L206.14 561.51 L214.86 562.24 L223.58 562.96 L232.31 563.69 L241.03 564.42 L249.75 565.15 L258.48 565.87 L267.2 566.6" fill="none" stroke="#1e5068" stroke-width="1.25" stroke-linejoin="round"/>
<path d="M153.8 545.4 L162.52 570 L171.25 572 L179.97 573 L188.69 574 L197.42 575 L206.14 576 L214.86 577 L223.58 578 L232.31 578.6 L241.03 579.2 L249.75 579.8 L258.48 580.4 L267.2 581 L267.2 591 L258.48 587 L249.75 583 L241.03 579 L232.31 575 L223.58 571 L214.86 569.8 L206.14 568.6 L197.42 567.4 L188.69 566.2 L179.97 565 L171.25 562.4 L162.52 560 L153.8 545.4Z" fill="#eed8e6"/>
<path d="M153.8 545.4 L162.52 570 L171.25 572 L179.97 573 L188.69 574 L197.42 575 L206.14 576 L214.86 577 L223.58 578 L232.31 578.6 L241.03 579.2 L249.75 579.8 L258.48 580.4 L267.2 581" fill="none" stroke="#9c1a50" stroke-width="1.25" stroke-linejoin="round"/>
<path d="M153.8 545.4 L162.52 560 L171.25 562.4 L179.97 565 L188.69 566.2 L197.42 567.4 L206.14 568.6 L214.86 569.8 L223.58 571 L232.31 575 L241.03 579 L249.75 583 L258.48 587 L267.2 591 L267.2 602.4 L258.48 598.24 L249.75 594.08 L241.03 589.92 L232.31 585.76 L223.58 581.6 L214.86 580.36 L206.14 579.12 L197.42 577.88 L188.69 576.64 L179.97 575.4 L171.25 573 L162.52 570.4 L153.8 545.4Z" fill="#d5798b" fill-opacity="0.5"/>
<path d="M153.8 545.4 L162.52 560 L171.25 562.4 L179.97 565 L188.69 566.2 L197.42 567.4 L206.14 568.6 L214.86 569.8 L223.58 571 L232.31 575 L241.03 579 L249.75 583 L258.48 587 L267.2 591" fill="none" stroke="#741418" stroke-width="1.25" stroke-linejoin="round"/>
<path d="M153.8 545.4 L162.52 570.4 L171.25 573 L179.97 575.4 L188.69 576.64 L197.42 577.88 L206.14 579.12 L214.86 580.36 L223.58 581.6 L232.31 585.76 L241.03 589.92 L249.75 594.08 L258.48 598.24 L267.2 602.4 L267.2 610 L258.48 605.52 L249.75 601.04 L241.03 596.56 L232.31 592.08 L223.58 587.6 L214.86 586.56 L206.14 585.52 L197.42 584.48 L188.69 583.44 L179.97 582.4 L171.25 579 L162.52 577 L153.8 545.4Z" fill="#bbe5b1" fill-opacity="0.5"/>
<path d="M153.8 545.4 L162.52 577 L171.25 579 L179.97 582.4 L188.69 583.44 L197.42 584.48 L206.14 585.52 L214.86 586.56 L223.58 587.6 L232.31 592.08 L241.03 596.56 L249.75 601.04 L258.48 605.52 L267.2 610" fill="none" stroke="#1e5c24" stroke-width="1.25" stroke-linejoin="round"/>
<path d="M153.8 545.4 L162.52 570.4 L171.25 573 L179.97 575.4 L188.69 576.64 L197.42 577.88 L206.14 579.12 L214.86 580.36 L223.58 581.6 L232.31 585.76 L241.03 589.92 L249.75 594.08 L258.48 598.24 L267.2 602.4" fill="none" stroke="#4a8a30" stroke-width="1.25" stroke-linejoin="round"/>
<rect x="149.6" y="511.4" width="121.9" height="107.4" fill="none" stroke="#959595" stroke-width="1.2"/>
<rect x="149.6" y="511.4" width="121.9" height="10" fill="#c3c3c3" stroke="#9a9a9a" stroke-width="0.8"/>
<line x1="149.6" y1="521.4" x2="271.5" y2="521.4" stroke="#666" stroke-width="1"/>
<text x="210.55" y="519.2" text-anchor="middle" font-family="Liberation Sans" font-weight="bold" font-size="6.6" fill="#333" textLength="18.6" lengthAdjust="spacingAndGlyphs">Tianjin</text>
<line x1="149.6" y1="521.4" x2="151.1" y2="521.4" stroke="#777" stroke-width="0.8"/>
<text x="148" y="524.2" text-anchor="end" font-family="Liberation Sans" font-weight="bold" font-size="6.6" fill="#222">0.0</text>
<line x1="149.6" y1="559.1" x2="151.1" y2="559.1" stroke="#777" stroke-width="0.8"/>
<text x="148" y="561.9" text-anchor="end" font-family="Liberation Sans" font-weight="bold" font-size="6.6" fill="#222">-0.5</text>
<line x1="149.6" y1="596.5" x2="151.1" y2="596.5" stroke="#777" stroke-width="0.8"/>
<text x="148" y="599.3" text-anchor="end" font-family="Liberation Sans" font-weight="bold" font-size="6.6" fill="#222">-1.0</text>
<line x1="153.8" y1="618.8" x2="153.8" y2="617.3" stroke="#777" stroke-width="0.8"/>
<text x="154.2" y="626.1" text-anchor="middle" font-family="Liberation Sans" font-weight="bold" font-size="7.6" fill="#222" textLength="13.9" lengthAdjust="spacingAndGlyphs">2022</text>
<line x1="171.25" y1="618.8" x2="171.25" y2="617.3" stroke="#777" stroke-width="0.8"/>
<text x="171.65" y="626.1" text-anchor="middle" font-family="Liberation Sans" font-weight="bold" font-size="7.6" fill="#222" textLength="13.9" lengthAdjust="spacingAndGlyphs">2024</text>
<line x1="188.69" y1="618.8" x2="188.69" y2="617.3" stroke="#777" stroke-width="0.8"/>
<text x="189.09" y="626.1" text-anchor="middle" font-family="Liberation Sans" font-weight="bold" font-size="7.6" fill="#222" textLength="13.9" lengthAdjust="spacingAndGlyphs">2026</text>
<line x1="206.14" y1="618.8" x2="206.14" y2="617.3" stroke="#777" stroke-width="0.8"/>
<text x="206.54" y="626.1" text-anchor="middle" font-family="Liberation Sans" font-weight="bold" font-size="7.6" fill="#222" textLength="13.9" lengthAdjust="spacingAndGlyphs">2028</text>
<line x1="223.58" y1="618.8" x2="223.58" y2="617.3" stroke="#777" stroke-width="0.8"/>
<text x="223.98" y="626.1" text-anchor="middle" font-family="Liberation Sans" font-weight="bold" font-size="7.6" fill="#222" textLength="13.9" lengthAdjust="spacingAndGlyphs">2030</text>
<line x1="241.03" y1="618.8" x2="241.03" y2="617.3" stroke="#777" stroke-width="0.8"/>
<text x="241.43" y="626.1" text-anchor="middle" font-family="Liberation Sans" font-weight="bold" font-size="7.6" fill="#222" textLength="13.9" lengthAdjust="spacingAndGlyphs">2032</text>
<line x1="258.48" y1="618.8" x2="258.48" y2="617.3" stroke="#777" stroke-width="0.8"/>
<text x="258.88" y="626.1" text-anchor="middle" font-family="Liberation Sans" font-weight="bold" font-size="7.6" fill="#222" textLength="13.9" lengthAdjust="spacingAndGlyphs">2034</text>
<path d="M291.6 530 L300.32 530 L309.03 530 L317.75 530.36 L326.46 530.73 L335.18 531.09 L343.89 531.45 L352.61 531.82 L361.32 532.18 L370.04 532.55 L378.75 532.91 L387.47 533.27 L396.18 533.64 L404.9 534 L404.9 553.4 L396.18 552.45 L387.47 551.51 L378.75 550.56 L370.04 549.62 L361.32 548.67 L352.61 547.73 L343.89 546.78 L335.18 545.84 L326.46 544.89 L317.75 543.95 L309.03 543 L300.32 543.6 L291.6 530Z" fill="#abe5f1" fill-opacity="0.5"/>
<path d="M291.6 530 L300.32 530 L309.03 530 L317.75 530.36 L326.46 530.73 L335.18 531.09 L343.89 531.45 L352.61 531.82 L361.32 532.18 L370.04 532.55 L378.75 532.91 L387.47 533.27 L396.18 533.64 L404.9 534" fill="none" stroke="#3a78a0" stroke-width="1.25" stroke-linejoin="round"/>
<path d="M291.6 530 L300.32 543.6 L309.03 543 L317.75 543.95 L326.46 544.89 L335.18 545.84 L343.89 546.78 L352.61 547.73 L361.32 548.67 L370.04 549.62 L378.75 550.56 L387.47 551.51 L396.18 552.45 L404.9 553.4 L404.9 557 L396.18 559.3 L387.47 561.6 L378.75 560.64 L370.04 559.69 L361.32 558.73 L352.61 557.78 L343.89 556.82 L335.18 555.87 L326.46 554.91 L317.75 553.96 L309.03 553 L300.32 557.4 L291.6 530Z" fill="#5de1f1" fill-opacity="0.5"/>
<path d="M291.6 530 L300.32 543.6 L309.03 543 L317.75 543.95 L326.46 544.89 L335.18 545.84 L343.89 546.78 L352.61 547.73 L361.32 548.67 L370.04 549.62 L378.75 550.56 L387.47 551.51 L396.18 552.45 L404.9 553.4" fill="none" stroke="#1e5068" stroke-width="1.25" stroke-linejoin="round"/>
<path d="M291.6 530 L300.32 557.4 L309.03 553 L317.75 553.96 L326.46 554.91 L335.18 555.87 L343.89 556.82 L352.61 557.78 L361.32 558.73 L370.04 559.69 L378.75 560.64 L387.47 561.6 L396.18 559.3 L404.9 557 L404.9 585 L396.18 582.09 L387.47 579.18 L378.75 576.27 L370.04 573.36 L361.32 570.45 L352.61 567.55 L343.89 564.64 L335.18 561.73 L326.46 558.82 L317.75 555.91 L309.03 553 L300.32 557.4 L291.6 530Z" fill="#eed8e6"/>
<path d="M291.6 530 L300.32 557.4 L309.03 553 L317.75 553.96 L326.46 554.91 L335.18 555.87 L343.89 556.82 L352.61 557.78 L361.32 558.73 L370.04 559.69 L378.75 560.64 L387.47 561.6 L396.18 559.3 L404.9 557" fill="none" stroke="#9c1a50" stroke-width="1.25" stroke-linejoin="round"/>
<path d="M291.6 530 L300.32 557.4 L309.03 553 L317.75 555.91 L326.46 558.82 L335.18 561.73 L343.89 564.64 L352.61 567.55 L361.32 570.45 L370.04 573.36 L378.75 576.27 L387.47 579.18 L396.18 582.09 L404.9 585 L404.9 602.4 L396.18 599.4 L387.47 596.4 L378.75 593.4 L370.04 590.4 L361.32 587.4 L352.61 584.4 L343.89 581.4 L335.18 578.4 L326.46 575.4 L317.75 572.4 L309.03 569.4 L300.32 576 L291.6 530Z" fill="#d5798b" fill-opacity="0.5"/>
<path d="M291.6 530 L300.32 557.4 L309.03 553 L317.75 555.91 L326.46 558.82 L335.18 561.73 L343.89 564.64 L352.61 567.55 L361.32 570.45 L370.04 573.36 L378.75 576.27 L387.47 579.18 L396.18 582.09 L404.9 585" fill="none" stroke="#741418" stroke-width="1.25" stroke-linejoin="round"/>
<path d="M291.6 530 L300.32 576 L309.03 569.4 L317.75 572.4 L326.46 575.4 L335.18 578.4 L343.89 581.4 L352.61 584.4 L361.32 587.4 L370.04 590.4 L378.75 593.4 L387.47 596.4 L396.18 599.4 L404.9 602.4 L404.9 609 L396.18 605.96 L387.47 602.93 L378.75 599.89 L370.04 596.85 L361.32 593.82 L352.61 590.78 L343.89 587.75 L335.18 584.71 L326.46 581.67 L317.75 578.64 L309.03 575.6 L300.32 584.4 L291.6 530Z" fill="#bbe5b1" fill-opacity="0.5"/>
<path d="M291.6 530 L300.32 584.4 L309.03 575.6 L317.75 578.64 L326.46 581.67 L335.18 584.71 L343.89 587.75 L352.61 590.78 L361.32 593.82 L370.04 596.85 L378.75 599.89 L387.47 602.93 L396.18 605.96 L404.9 609" fill="none" stroke="#1e5c24" stroke-width="1.25" stroke-linejoin="round"/>
<path d="M291.6 530 L300.32 576 L309.03 569.4 L317.75 572.4 L326.46 575.4 L335.18 578.4 L343.89 581.4 L352.61 584.4 L361.32 587.4 L370.04 590.4 L378.75 593.4 L387.47 596.4 L396.18 599.4 L404.9 602.4" fill="none" stroke="#4a8a30" stroke-width="1.25" stroke-linejoin="round"/>
<rect x="287.5" y="512.4" width="121.4" height="106.8" fill="none" stroke="#959595" stroke-width="1.2"/>
<rect x="287.5" y="512.4" width="121.4" height="10" fill="#c3c3c3" stroke="#9a9a9a" stroke-width="0.8"/>
<line x1="287.5" y1="522.4" x2="408.9" y2="522.4" stroke="#666" stroke-width="1"/>
<text x="348.2" y="520.2" text-anchor="middle" font-family="Liberation Sans" font-weight="bold" font-size="6.6" fill="#333" textLength="19.6" lengthAdjust="spacingAndGlyphs">Xizang</text>
<line x1="287.5" y1="522" x2="289" y2="522" stroke="#777" stroke-width="0.8"/>
<text x="285.9" y="524.8" text-anchor="end" font-family="Liberation Sans" font-weight="bold" font-size="6.4" fill="#222">0.00</text>
<line x1="287.5" y1="551" x2="289" y2="551" stroke="#777" stroke-width="0.8"/>
<text x="285.9" y="553.8" text-anchor="end" font-family="Liberation Sans" font-weight="bold" font-size="6.4" fill="#222">-0.03</text>
<line x1="287.5" y1="580" x2="289" y2="580" stroke="#777" stroke-width="0.8"/>
<text x="285.9" y="582.8" text-anchor="end" font-family="Liberation Sans" font-weight="bold" font-size="6.4" fill="#222">-0.06</text>
<line x1="287.5" y1="609" x2="289" y2="609" stroke="#777" stroke-width="0.8"/>
<text x="285.9" y="611.8" text-anchor="end" font-family="Liberation Sans" font-weight="bold" font-size="6.4" fill="#222">-0.09</text>
<line x1="291.6" y1="619.2" x2="291.6" y2="617.7" stroke="#777" stroke-width="0.8"/>
<text x="292" y="626.5" text-anchor="middle" font-family="Liberation Sans" font-weight="bold" font-size="7.6" fill="#222" textLength="13.9" lengthAdjust="spacingAndGlyphs">2022</text>
<line x1="309.03" y1="619.2" x2="309.03" y2="617.7" stroke="#777" stroke-width="0.8"/>
<text x="309.43" y="626.5" text-anchor="middle" font-family="Liberation Sans" font-weight="bold" font-size="7.6" fill="#222" textLength="13.9" lengthAdjust="spacingAndGlyphs">2024</text>
<line x1="326.46" y1="619.2" x2="326.46" y2="617.7" stroke="#777" stroke-width="0.8"/>
<text x="326.86" y="626.5" text-anchor="middle" font-family="Liberation Sans" font-weight="bold" font-size="7.6" fill="#222" textLength="13.9" lengthAdjust="spacingAndGlyphs">2026</text>
<line x1="343.89" y1="619.2" x2="343.89" y2="617.7" stroke="#777" stroke-width="0.8"/>
<text x="344.29" y="626.5" text-anchor="middle" font-family="Liberation Sans" font-weight="bold" font-size="7.6" fill="#222" textLength="13.9" lengthAdjust="spacingAndGlyphs">2028</text>
<line x1="361.32" y1="619.2" x2="361.32" y2="617.7" stroke="#777" stroke-width="0.8"/>
<text x="361.72" y="626.5" text-anchor="middle" font-family="Liberation Sans" font-weight="bold" font-size="7.6" fill="#222" textLength="13.9" lengthAdjust="spacingAndGlyphs">2030</text>
<line x1="378.75" y1="619.2" x2="378.75" y2="617.7" stroke="#777" stroke-width="0.8"/>
<text x="379.15" y="626.5" text-anchor="middle" font-family="Liberation Sans" font-weight="bold" font-size="7.6" fill="#222" textLength="13.9" lengthAdjust="spacingAndGlyphs">2032</text>
<line x1="396.18" y1="619.2" x2="396.18" y2="617.7" stroke="#777" stroke-width="0.8"/>
<text x="396.58" y="626.5" text-anchor="middle" font-family="Liberation Sans" font-weight="bold" font-size="7.6" fill="#222" textLength="13.9" lengthAdjust="spacingAndGlyphs">2034</text>
<path d="M427.7 536 L436.39 535 L445.08 536.6 L453.78 537.27 L462.47 537.95 L471.16 538.62 L479.85 539.29 L488.55 539.96 L497.24 540.64 L505.93 541.31 L514.62 541.98 L523.32 542.65 L532.01 543.33 L540.7 544 L540.7 567.6 L532.01 566.27 L523.32 564.95 L514.62 563.62 L505.93 562.29 L497.24 560.96 L488.55 559.64 L479.85 558.31 L471.16 556.98 L462.47 555.65 L453.78 554.33 L445.08 553 L436.39 550 L427.7 536Z" fill="#abe5f1" fill-opacity="0.5"/>
<path d="M427.7 536 L436.39 535 L445.08 536.6 L453.78 537.27 L462.47 537.95 L471.16 538.62 L479.85 539.29 L488.55 539.96 L497.24 540.64 L505.93 541.31 L514.62 541.98 L523.32 542.65 L532.01 543.33 L540.7 544" fill="none" stroke="#3a78a0" stroke-width="1.25" stroke-linejoin="round"/>
<path d="M427.7 536 L436.39 550 L445.08 553 L453.78 554.33 L462.47 555.65 L471.16 556.98 L479.85 558.31 L488.55 559.64 L497.24 560.96 L505.93 562.29 L514.62 563.62 L523.32 564.95 L532.01 566.27 L540.7 567.6 L540.7 567.6 L532.01 566.25 L523.32 564.9 L514.62 566.73 L505.93 568.57 L497.24 570.4 L488.55 570 L479.85 569 L471.16 568 L462.47 567 L453.78 566 L445.08 565 L436.39 561.6 L427.7 536Z" fill="#5de1f1" fill-opacity="0.5"/>
<path d="M427.7 536 L436.39 550 L445.08 553 L453.78 554.33 L462.47 555.65 L471.16 556.98 L479.85 558.31 L488.55 559.64 L497.24 560.96 L505.93 562.29 L514.62 563.62 L523.32 564.95 L532.01 566.27 L540.7 567.6" fill="none" stroke="#1e5068" stroke-width="1.25" stroke-linejoin="round"/>
<path d="M427.7 536 L436.39 561.6 L445.08 565 L453.78 566 L462.47 567 L471.16 568 L479.85 569 L488.55 570 L497.24 570.4 L505.93 568.57 L514.62 566.73 L523.32 564.9 L532.01 566.25 L540.7 567.6 L540.7 587 L532.01 584.13 L523.32 581.25 L514.62 578.38 L505.93 575.51 L497.24 572.64 L488.55 569.76 L479.85 566.89 L471.16 564.02 L462.47 561.15 L453.78 558.27 L445.08 555.4 L436.39 554.4 L427.7 536Z" fill="#eed8e6"/>
<path d="M427.7 536 L436.39 561.6 L445.08 565 L453.78 566 L462.47 567 L471.16 568 L479.85 569 L488.55 570 L497.24 570.4 L505.93 568.57 L514.62 566.73 L523.32 564.9 L532.01 566.25 L540.7 567.6" fill="none" stroke="#9c1a50" stroke-width="1.25" stroke-linejoin="round"/>
<path d="M427.7 536 L436.39 554.4 L445.08 555.4 L453.78 558.27 L462.47 561.15 L471.16 564.02 L479.85 566.89 L488.55 569.76 L497.24 572.64 L505.93 575.51 L514.62 578.38 L523.32 581.25 L532.01 584.13 L540.7 587 L540.7 603.6 L532.01 600.49 L523.32 597.38 L514.62 594.27 L505.93 591.16 L497.24 588.05 L488.55 584.95 L479.85 581.84 L471.16 578.73 L462.47 575.62 L453.78 572.51 L445.08 569.4 L436.39 568 L427.7 536Z" fill="#d5798b" fill-opacity="0.5"/>
<path d="M427.7 536 L436.39 554.4 L445.08 555.4 L453.78 558.27 L462.47 561.15 L471.16 564.02 L479.85 566.89 L488.55 569.76 L497.24 572.64 L505.93 575.51 L514.62 578.38 L523.32 581.25 L532.01 584.13 L540.7 587" fill="none" stroke="#741418" stroke-width="1.25" stroke-linejoin="round"/>
<path d="M427.7 536 L436.39 568 L445.08 569.4 L453.78 572.51 L462.47 575.62 L471.16 578.73 L479.85 581.84 L488.55 584.95 L497.24 588.05 L505.93 591.16 L514.62 594.27 L523.32 597.38 L532.01 600.49 L540.7 603.6 L540.7 613 L532.01 609.73 L523.32 606.45 L514.62 603.18 L505.93 599.91 L497.24 596.64 L488.55 593.36 L479.85 590.09 L471.16 586.82 L462.47 583.55 L453.78 580.27 L445.08 577 L436.39 576 L427.7 536Z" fill="#bbe5b1" fill-opacity="0.5"/>
<path d="M427.7 536 L436.39 576 L445.08 577 L453.78 580.27 L462.47 583.55 L471.16 586.82 L479.85 590.09 L488.55 593.36 L497.24 596.64 L505.93 599.91 L514.62 603.18 L523.32 606.45 L532.01 609.73 L540.7 613" fill="none" stroke="#1e5c24" stroke-width="1.25" stroke-linejoin="round"/>
<path d="M427.7 536 L436.39 568 L445.08 569.4 L453.78 572.51 L462.47 575.62 L471.16 578.73 L479.85 581.84 L488.55 584.95 L497.24 588.05 L505.93 591.16 L514.62 594.27 L523.32 597.38 L532.01 600.49 L540.7 603.6" fill="none" stroke="#4a8a30" stroke-width="1.25" stroke-linejoin="round"/>
<rect x="423.6" y="512.4" width="121.8" height="107.6" fill="none" stroke="#959595" stroke-width="1.2"/>
<rect x="423.6" y="512.4" width="121.8" height="10" fill="#c3c3c3" stroke="#9a9a9a" stroke-width="0.8"/>
<line x1="423.6" y1="522.4" x2="545.4" y2="522.4" stroke="#666" stroke-width="1"/>
<text x="484.5" y="520.2" text-anchor="middle" font-family="Liberation Sans" font-weight="bold" font-size="6.6" fill="#333" textLength="22.6" lengthAdjust="spacingAndGlyphs">Jiangsu</text>
<line x1="423.6" y1="522.4" x2="425.1" y2="522.4" stroke="#777" stroke-width="0.8"/>
<text x="422" y="525.2" text-anchor="end" font-family="Liberation Sans" font-weight="bold" font-size="6.6" fill="#222">0</text>
<line x1="423.6" y1="561.4" x2="425.1" y2="561.4" stroke="#777" stroke-width="0.8"/>
<text x="422" y="564.2" text-anchor="end" font-family="Liberation Sans" font-weight="bold" font-size="6.6" fill="#222">-3</text>
<line x1="423.6" y1="600.4" x2="425.1" y2="600.4" stroke="#777" stroke-width="0.8"/>
<text x="422" y="603.2" text-anchor="end" font-family="Liberation Sans" font-weight="bold" font-size="6.6" fill="#222">-6</text>
<line x1="427.7" y1="620" x2="427.7" y2="618.5" stroke="#777" stroke-width="0.8"/>
<text x="428.1" y="627.3" text-anchor="middle" font-family="Liberation Sans" font-weight="bold" font-size="7.6" fill="#222" textLength="13.9" lengthAdjust="spacingAndGlyphs">2022</text>
<line x1="445.08" y1="620" x2="445.08" y2="618.5" stroke="#777" stroke-width="0.8"/>
<text x="445.48" y="627.3" text-anchor="middle" font-family="Liberation Sans" font-weight="bold" font-size="7.6" fill="#222" textLength="13.9" lengthAdjust="spacingAndGlyphs">2024</text>
<line x1="462.47" y1="620" x2="462.47" y2="618.5" stroke="#777" stroke-width="0.8"/>
<text x="462.87" y="627.3" text-anchor="middle" font-family="Liberation Sans" font-weight="bold" font-size="7.6" fill="#222" textLength="13.9" lengthAdjust="spacingAndGlyphs">2026</text>
<line x1="479.85" y1="620" x2="479.85" y2="618.5" stroke="#777" stroke-width="0.8"/>
<text x="480.25" y="627.3" text-anchor="middle" font-family="Liberation Sans" font-weight="bold" font-size="7.6" fill="#222" textLength="13.9" lengthAdjust="spacingAndGlyphs">2028</text>
<line x1="497.24" y1="620" x2="497.24" y2="618.5" stroke="#777" stroke-width="0.8"/>
<text x="497.64" y="627.3" text-anchor="middle" font-family="Liberation Sans" font-weight="bold" font-size="7.6" fill="#222" textLength="13.9" lengthAdjust="spacingAndGlyphs">2030</text>
<line x1="514.62" y1="620" x2="514.62" y2="618.5" stroke="#777" stroke-width="0.8"/>
<text x="515.02" y="627.3" text-anchor="middle" font-family="Liberation Sans" font-weight="bold" font-size="7.6" fill="#222" textLength="13.9" lengthAdjust="spacingAndGlyphs">2032</text>
<line x1="532.01" y1="620" x2="532.01" y2="618.5" stroke="#777" stroke-width="0.8"/>
<text x="532.41" y="627.3" text-anchor="middle" font-family="Liberation Sans" font-weight="bold" font-size="7.6" fill="#222" textLength="13.9" lengthAdjust="spacingAndGlyphs">2034</text>
<path d="M565.5 537 L574.23 534 L582.96 539.4 L591.69 540.09 L600.42 540.78 L609.15 541.47 L617.88 542.16 L626.62 542.85 L635.35 543.55 L644.08 544.24 L652.81 544.93 L661.54 545.62 L670.27 546.31 L679 547 L679 571 L670.27 569.64 L661.54 568.27 L652.81 566.91 L644.08 565.55 L635.35 564.18 L626.62 562.82 L617.88 561.45 L609.15 560.09 L600.42 558.73 L591.69 557.36 L582.96 556 L574.23 547 L565.5 537Z" fill="#abe5f1" fill-opacity="0.5"/>
<path d="M565.5 537 L574.23 534 L582.96 539.4 L591.69 540.09 L600.42 540.78 L609.15 541.47 L617.88 542.16 L626.62 542.85 L635.35 543.55 L644.08 544.24 L652.81 544.93 L661.54 545.62 L670.27 546.31 L679 547" fill="none" stroke="#3a78a0" stroke-width="1.25" stroke-linejoin="round"/>
<path d="M565.5 537 L574.23 547 L582.96 556 L591.69 557.36 L600.42 558.73 L609.15 560.09 L617.88 561.45 L626.62 562.82 L635.35 564.18 L644.08 565.55 L652.81 566.91 L661.54 568.27 L670.27 569.64 L679 571 L679 584 L670.27 582.73 L661.54 581.45 L652.81 580.18 L644.08 578.91 L635.35 577.64 L626.62 576.36 L617.88 575.09 L609.15 573.82 L600.42 572.55 L591.69 571.27 L582.96 570 L574.23 561.5 L565.5 537Z" fill="#5de1f1" fill-opacity="0.5"/>
<path d="M565.5 537 L574.23 547 L582.96 556 L591.69 557.36 L600.42 558.73 L609.15 560.09 L617.88 561.45 L626.62 562.82 L635.35 564.18 L644.08 565.55 L652.81 566.91 L661.54 568.27 L670.27 569.64 L679 571" fill="none" stroke="#1e5068" stroke-width="1.25" stroke-linejoin="round"/>
<path d="M565.5 537 L574.23 561.5 L582.96 570 L591.69 571.27 L600.42 572.55 L609.15 573.82 L617.88 575.09 L626.62 576.36 L635.35 577.64 L644.08 578.91 L652.81 580.18 L661.54 581.45 L670.27 582.73 L679 584 L679 585.4 L670.27 582.76 L661.54 580.13 L652.81 577.49 L644.08 574.85 L635.35 572.22 L626.62 569.58 L617.88 566.95 L609.15 564.31 L600.42 561.67 L591.69 559.04 L582.96 556.4 L574.23 549 L565.5 537Z" fill="#eed8e6"/>
<path d="M565.5 537 L574.23 561.5 L582.96 570 L591.69 571.27 L600.42 572.55 L609.15 573.82 L617.88 575.09 L626.62 576.36 L635.35 577.64 L644.08 578.91 L652.81 580.18 L661.54 581.45 L670.27 582.73 L679 584" fill="none" stroke="#9c1a50" stroke-width="1.25" stroke-linejoin="round"/>
<path d="M565.5 537 L574.23 549 L582.96 556.4 L591.69 559.04 L600.42 561.67 L609.15 564.31 L617.88 566.95 L626.62 569.58 L635.35 572.22 L644.08 574.85 L652.81 577.49 L661.54 580.13 L670.27 582.76 L679 585.4 L679 601.4 L670.27 598.55 L661.54 595.69 L652.81 592.84 L644.08 589.98 L635.35 587.13 L626.62 584.27 L617.88 581.42 L609.15 578.56 L600.42 575.71 L591.69 572.85 L582.96 570 L574.23 561 L565.5 537Z" fill="#d5798b" fill-opacity="0.5"/>
<path d="M565.5 537 L574.23 549 L582.96 556.4 L591.69 559.04 L600.42 561.67 L609.15 564.31 L617.88 566.95 L626.62 569.58 L635.35 572.22 L644.08 574.85 L652.81 577.49 L661.54 580.13 L670.27 582.76 L679 585.4" fill="none" stroke="#741418" stroke-width="1.25" stroke-linejoin="round"/>
<path d="M565.5 537 L574.23 561 L582.96 570 L591.69 572.85 L600.42 575.71 L609.15 578.56 L617.88 581.42 L626.62 584.27 L635.35 587.13 L644.08 589.98 L652.81 592.84 L661.54 595.69 L670.27 598.55 L679 601.4 L679 609.6 L670.27 606.73 L661.54 603.85 L652.81 600.98 L644.08 598.11 L635.35 595.24 L626.62 592.36 L617.88 589.49 L609.15 586.62 L600.42 583.75 L591.69 580.87 L582.96 578 L574.23 566.6 L565.5 537Z" fill="#bbe5b1" fill-opacity="0.5"/>
<path d="M565.5 537 L574.23 566.6 L582.96 578 L591.69 580.87 L600.42 583.75 L609.15 586.62 L617.88 589.49 L626.62 592.36 L635.35 595.24 L644.08 598.11 L652.81 600.98 L661.54 603.85 L670.27 606.73 L679 609.6" fill="none" stroke="#1e5c24" stroke-width="1.25" stroke-linejoin="round"/>
<path d="M565.5 537 L574.23 561 L582.96 570 L591.69 572.85 L600.42 575.71 L609.15 578.56 L617.88 581.42 L626.62 584.27 L635.35 587.13 L644.08 589.98 L652.81 592.84 L661.54 595.69 L670.27 598.55 L679 601.4" fill="none" stroke="#4a8a30" stroke-width="1.25" stroke-linejoin="round"/>
<rect x="561.3" y="511.4" width="121.7" height="106.9" fill="none" stroke="#959595" stroke-width="1.2"/>
<rect x="561.3" y="511.4" width="121.7" height="10" fill="#c3c3c3" stroke="#9a9a9a" stroke-width="0.8"/>
<line x1="561.3" y1="521.4" x2="683" y2="521.4" stroke="#666" stroke-width="1"/>
<text x="622.15" y="519.2" text-anchor="middle" font-family="Liberation Sans" font-weight="bold" font-size="6.6" fill="#333" textLength="25.4" lengthAdjust="spacingAndGlyphs">Zhejiang</text>
<line x1="561.3" y1="521" x2="562.8" y2="521" stroke="#777" stroke-width="0.8"/>
<text x="559.7" y="523.8" text-anchor="end" font-family="Liberation Sans" font-weight="bold" font-size="6.6" fill="#222">0</text>
<line x1="561.3" y1="551" x2="562.8" y2="551" stroke="#777" stroke-width="0.8"/>
<text x="559.7" y="553.8" text-anchor="end" font-family="Liberation Sans" font-weight="bold" font-size="6.6" fill="#222">-2</text>
<line x1="561.3" y1="581" x2="562.8" y2="581" stroke="#777" stroke-width="0.8"/>
<text x="559.7" y="583.8" text-anchor="end" font-family="Liberation Sans" font-weight="bold" font-size="6.6" fill="#222">-4</text>
<line x1="561.3" y1="611" x2="562.8" y2="611" stroke="#777" stroke-width="0.8"/>
<text x="559.7" y="613.8" text-anchor="end" font-family="Liberation Sans" font-weight="bold" font-size="6.6" fill="#222">-6</text>
<line x1="565.5" y1="618.3" x2="565.5" y2="616.8" stroke="#777" stroke-width="0.8"/>
<text x="565.9" y="625.6" text-anchor="middle" font-family="Liberation Sans" font-weight="bold" font-size="7.6" fill="#222" textLength="13.9" lengthAdjust="spacingAndGlyphs">2022</text>
<line x1="582.96" y1="618.3" x2="582.96" y2="616.8" stroke="#777" stroke-width="0.8"/>
<text x="583.36" y="625.6" text-anchor="middle" font-family="Liberation Sans" font-weight="bold" font-size="7.6" fill="#222" textLength="13.9" lengthAdjust="spacingAndGlyphs">2024</text>
<line x1="600.42" y1="618.3" x2="600.42" y2="616.8" stroke="#777" stroke-width="0.8"/>
<text x="600.82" y="625.6" text-anchor="middle" font-family="Liberation Sans" font-weight="bold" font-size="7.6" fill="#222" textLength="13.9" lengthAdjust="spacingAndGlyphs">2026</text>
<line x1="617.88" y1="618.3" x2="617.88" y2="616.8" stroke="#777" stroke-width="0.8"/>
<text x="618.28" y="625.6" text-anchor="middle" font-family="Liberation Sans" font-weight="bold" font-size="7.6" fill="#222" textLength="13.9" lengthAdjust="spacingAndGlyphs">2028</text>
<line x1="635.35" y1="618.3" x2="635.35" y2="616.8" stroke="#777" stroke-width="0.8"/>
<text x="635.75" y="625.6" text-anchor="middle" font-family="Liberation Sans" font-weight="bold" font-size="7.6" fill="#222" textLength="13.9" lengthAdjust="spacingAndGlyphs">2030</text>
<line x1="652.81" y1="618.3" x2="652.81" y2="616.8" stroke="#777" stroke-width="0.8"/>
<text x="653.21" y="625.6" text-anchor="middle" font-family="Liberation Sans" font-weight="bold" font-size="7.6" fill="#222" textLength="13.9" lengthAdjust="spacingAndGlyphs">2032</text>
<line x1="670.27" y1="618.3" x2="670.27" y2="616.8" stroke="#777" stroke-width="0.8"/>
<text x="670.67" y="625.6" text-anchor="middle" font-family="Liberation Sans" font-weight="bold" font-size="7.6" fill="#222" textLength="13.9" lengthAdjust="spacingAndGlyphs">2034</text>
<path d="M17.2 658 L25.91 658 L34.62 662 L43.32 663.33 L52.03 664.65 L60.74 665.98 L69.45 667.31 L78.15 668.64 L86.86 669.96 L95.57 671.29 L104.28 672.62 L112.98 673.95 L121.69 675.27 L130.4 676.6 L130.4 699.6 L121.69 697 L112.98 695.1 L104.28 693.2 L95.57 691.3 L86.86 689.4 L78.15 687.5 L69.45 685.6 L60.74 683.7 L52.03 681.8 L43.32 679.9 L34.62 678 L25.91 673 L17.2 658Z" fill="#abe5f1" fill-opacity="0.5"/>
<path d="M17.2 658 L25.91 658 L34.62 662 L43.32 663.33 L52.03 664.65 L60.74 665.98 L69.45 667.31 L78.15 668.64 L86.86 669.96 L95.57 671.29 L104.28 672.62 L112.98 673.95 L121.69 675.27 L130.4 676.6" fill="none" stroke="#3a78a0" stroke-width="1.25" stroke-linejoin="round"/>
<path d="M17.2 658 L25.91 673 L34.62 678 L43.32 679.9 L52.03 681.8 L60.74 683.7 L69.45 685.6 L78.15 687.5 L86.86 689.4 L95.57 691.3 L104.28 693.2 L112.98 695.1 L121.69 697 L130.4 699.6 L130.4 699.6 L121.69 697 L112.98 698.2 L104.28 699.4 L95.57 700.6 L86.86 702 L78.15 699.9 L69.45 697.8 L60.74 695.7 L52.03 693.6 L43.32 691.5 L34.62 689.4 L25.91 684 L17.2 658Z" fill="#5de1f1" fill-opacity="0.5"/>
<path d="M17.2 658 L25.91 673 L34.62 678 L43.32 679.9 L52.03 681.8 L60.74 683.7 L69.45 685.6 L78.15 687.5 L86.86 689.4 L95.57 691.3 L104.28 693.2 L112.98 695.1 L121.69 697 L130.4 699.6" fill="none" stroke="#1e5068" stroke-width="1.25" stroke-linejoin="round"/>
<path d="M17.2 658 L25.91 684 L34.62 689.4 L43.32 691.5 L52.03 693.6 L60.74 695.7 L69.45 697.8 L78.15 699.9 L86.86 702 L95.57 700.6 L104.28 699.4 L112.98 698.2 L121.69 697 L130.4 699.6 L130.4 712 L121.69 709 L112.98 706 L104.28 703 L95.57 700 L86.86 697 L78.15 694 L69.45 691 L60.74 688 L52.03 685 L43.32 682 L34.62 679 L25.91 681 L17.2 658Z" fill="#eed8e6"/>
<path d="M17.2 658 L25.91 684 L34.62 689.4 L43.32 691.5 L52.03 693.6 L60.74 695.7 L69.45 697.8 L78.15 699.9 L86.86 702 L95.57 700.6 L104.28 699.4 L112.98 698.2 L121.69 697 L130.4 699.6" fill="none" stroke="#9c1a50" stroke-width="1.25" stroke-linejoin="round"/>
<path d="M17.2 658 L25.91 681 L34.62 679 L43.32 682 L52.03 685 L60.74 688 L69.45 691 L78.15 694 L86.86 697 L95.57 700 L104.28 703 L112.98 706 L121.69 709 L130.4 712 L130.4 726.6 L121.69 723.55 L112.98 720.49 L104.28 717.44 L95.57 714.38 L86.86 711.33 L78.15 708.27 L69.45 705.22 L60.74 702.16 L52.03 699.11 L43.32 696.05 L34.62 693 L25.91 695.4 L17.2 658Z" fill="#d5798b" fill-opacity="0.5"/>
<path d="M17.2 658 L25.91 681 L34.62 679 L43.32 682 L52.03 685 L60.74 688 L69.45 691 L78.15 694 L86.86 697 L95.57 700 L104.28 703 L112.98 706 L121.69 709 L130.4 712" fill="none" stroke="#741418" stroke-width="1.25" stroke-linejoin="round"/>
<path d="M17.2 658 L25.91 695.4 L34.62 693 L43.32 696.05 L52.03 699.11 L60.74 702.16 L69.45 705.22 L78.15 708.27 L86.86 711.33 L95.57 714.38 L104.28 717.44 L112.98 720.49 L121.69 723.55 L130.4 726.6 L130.4 734.6 L121.69 731.42 L112.98 728.24 L104.28 725.05 L95.57 721.87 L86.86 718.69 L78.15 715.51 L69.45 712.33 L60.74 709.15 L52.03 705.96 L43.32 702.78 L34.62 699.6 L25.91 702.6 L17.2 658Z" fill="#bbe5b1" fill-opacity="0.5"/>
<path d="M17.2 658 L25.91 702.6 L34.62 699.6 L43.32 702.78 L52.03 705.96 L60.74 709.15 L69.45 712.33 L78.15 715.51 L86.86 718.69 L95.57 721.87 L104.28 725.05 L112.98 728.24 L121.69 731.42 L130.4 734.6" fill="none" stroke="#1e5c24" stroke-width="1.25" stroke-linejoin="round"/>
<path d="M17.2 658 L25.91 695.4 L34.62 693 L43.32 696.05 L52.03 699.11 L60.74 702.16 L69.45 705.22 L78.15 708.27 L86.86 711.33 L95.57 714.38 L104.28 717.44 L112.98 720.49 L121.69 723.55 L130.4 726.6" fill="none" stroke="#4a8a30" stroke-width="1.25" stroke-linejoin="round"/>
<rect x="13" y="632.4" width="121.7" height="107.3" fill="none" stroke="#959595" stroke-width="1.2"/>
<rect x="13" y="632.4" width="121.7" height="10.2" fill="#c3c3c3" stroke="#9a9a9a" stroke-width="0.8"/>
<line x1="13" y1="642.6" x2="134.7" y2="642.6" stroke="#666" stroke-width="1"/>
<text x="73.85" y="640.4" text-anchor="middle" font-family="Liberation Sans" font-weight="bold" font-size="6.6" fill="#333" textLength="33.8" lengthAdjust="spacingAndGlyphs">Guangdong</text>
<line x1="13" y1="651" x2="14.5" y2="651" stroke="#777" stroke-width="0.8"/>
<text x="11.4" y="653.8" text-anchor="end" font-family="Liberation Sans" font-weight="bold" font-size="6.6" fill="#222">-3</text>
<line x1="13" y1="676" x2="14.5" y2="676" stroke="#777" stroke-width="0.8"/>
<text x="11.4" y="678.8" text-anchor="end" font-family="Liberation Sans" font-weight="bold" font-size="6.6" fill="#222">-6</text>
<line x1="13" y1="701.4" x2="14.5" y2="701.4" stroke="#777" stroke-width="0.8"/>
<text x="11.4" y="704.2" text-anchor="end" font-family="Liberation Sans" font-weight="bold" font-size="6.6" fill="#222">-9</text>
<line x1="13" y1="726.6" x2="14.5" y2="726.6" stroke="#777" stroke-width="0.8"/>
<text x="11.4" y="729.4" text-anchor="end" font-family="Liberation Sans" font-weight="bold" font-size="6.6" fill="#222">-12</text>
<line x1="17.2" y1="739.7" x2="17.2" y2="738.2" stroke="#777" stroke-width="0.8"/>
<text x="17.6" y="747" text-anchor="middle" font-family="Liberation Sans" font-weight="bold" font-size="7.6" fill="#222" textLength="13.9" lengthAdjust="spacingAndGlyphs">2022</text>
<line x1="34.62" y1="739.7" x2="34.62" y2="738.2" stroke="#777" stroke-width="0.8"/>
<text x="35.02" y="747" text-anchor="middle" font-family="Liberation Sans" font-weight="bold" font-size="7.6" fill="#222" textLength="13.9" lengthAdjust="spacingAndGlyphs">2024</text>
<line x1="52.03" y1="739.7" x2="52.03" y2="738.2" stroke="#777" stroke-width="0.8"/>
<text x="52.43" y="747" text-anchor="middle" font-family="Liberation Sans" font-weight="bold" font-size="7.6" fill="#222" textLength="13.9" lengthAdjust="spacingAndGlyphs">2026</text>
<line x1="69.45" y1="739.7" x2="69.45" y2="738.2" stroke="#777" stroke-width="0.8"/>
<text x="69.85" y="747" text-anchor="middle" font-family="Liberation Sans" font-weight="bold" font-size="7.6" fill="#222" textLength="13.9" lengthAdjust="spacingAndGlyphs">2028</text>
<line x1="86.86" y1="739.7" x2="86.86" y2="738.2" stroke="#777" stroke-width="0.8"/>
<text x="87.26" y="747" text-anchor="middle" font-family="Liberation Sans" font-weight="bold" font-size="7.6" fill="#222" textLength="13.9" lengthAdjust="spacingAndGlyphs">2030</text>
<line x1="104.28" y1="739.7" x2="104.28" y2="738.2" stroke="#777" stroke-width="0.8"/>
<text x="104.68" y="747" text-anchor="middle" font-family="Liberation Sans" font-weight="bold" font-size="7.6" fill="#222" textLength="13.9" lengthAdjust="spacingAndGlyphs">2032</text>
<line x1="121.69" y1="739.7" x2="121.69" y2="738.2" stroke="#777" stroke-width="0.8"/>
<text x="122.09" y="747" text-anchor="middle" font-family="Liberation Sans" font-weight="bold" font-size="7.6" fill="#222" textLength="13.9" lengthAdjust="spacingAndGlyphs">2034</text>
<path d="M153.8 662 L162.52 666.6 L171.25 674 L179.97 675.49 L188.69 676.98 L197.42 678.47 L206.14 679.96 L214.86 681.45 L223.58 682.95 L232.31 684.44 L241.03 685.93 L249.75 687.42 L258.48 688.91 L267.2 690.4 L267.2 709.4 L258.48 707.55 L249.75 705.69 L241.03 703.84 L232.31 701.98 L223.58 700.13 L214.86 698.27 L206.14 696.42 L197.42 694.56 L188.69 692.71 L179.97 690.85 L171.25 689 L162.52 679 L153.8 662Z" fill="#abe5f1" fill-opacity="0.5"/>
<path d="M153.8 662 L162.52 666.6 L171.25 674 L179.97 675.49 L188.69 676.98 L197.42 678.47 L206.14 679.96 L214.86 681.45 L223.58 682.95 L232.31 684.44 L241.03 685.93 L249.75 687.42 L258.48 688.91 L267.2 690.4" fill="none" stroke="#3a78a0" stroke-width="1.25" stroke-linejoin="round"/>
<path d="M153.8 662 L162.52 679 L171.25 689 L179.97 690.85 L188.69 692.71 L197.42 694.56 L206.14 696.42 L214.86 698.27 L223.58 700.13 L232.31 701.98 L241.03 703.84 L249.75 705.69 L258.48 707.55 L267.2 709.4 L267.2 709.4 L258.48 707.55 L249.75 705.69 L241.03 703.84 L232.31 701.98 L223.58 700.13 L214.86 698.27 L206.14 696.42 L197.42 694.56 L188.69 692.71 L179.97 690.85 L171.25 689 L162.52 679 L153.8 662Z" fill="#5de1f1" fill-opacity="0.5"/>
<path d="M153.8 662 L162.52 679 L171.25 689 L179.97 690.85 L188.69 692.71 L197.42 694.56 L206.14 696.42 L214.86 698.27 L223.58 700.13 L232.31 701.98 L241.03 703.84 L249.75 705.69 L258.48 707.55 L267.2 709.4" fill="none" stroke="#1e5068" stroke-width="1.25" stroke-linejoin="round"/>
<path d="M153.8 662 L162.52 679 L171.25 689 L179.97 690.85 L188.69 692.71 L197.42 694.56 L206.14 696.42 L214.86 698.27 L223.58 700.13 L232.31 701.98 L241.03 703.84 L249.75 705.69 L258.48 707.55 L267.2 709.4 L267.2 724.4 L258.48 721.67 L249.75 718.95 L241.03 716.22 L232.31 713.49 L223.58 710.76 L214.86 708.04 L206.14 705.31 L197.42 702.58 L188.69 699.85 L179.97 697.13 L171.25 694.4 L162.52 693.6 L153.8 662Z" fill="#eed8e6"/>
<path d="M153.8 662 L162.52 679 L171.25 689 L179.97 690.85 L188.69 692.71 L197.42 694.56 L206.14 696.42 L214.86 698.27 L223.58 700.13 L232.31 701.98 L241.03 703.84 L249.75 705.69 L258.48 707.55 L267.2 709.4" fill="none" stroke="#9c1a50" stroke-width="1.25" stroke-linejoin="round"/>
<path d="M153.8 662 L162.52 693.6 L171.25 694.4 L179.97 697.13 L188.69 699.85 L197.42 702.58 L206.14 705.31 L214.86 708.04 L223.58 710.76 L232.31 713.49 L241.03 716.22 L249.75 718.95 L258.48 721.67 L267.2 724.4 L267.2 734 L258.48 731.4 L249.75 728.8 L241.03 726.2 L232.31 723.6 L223.58 721 L214.86 718.4 L206.14 715.8 L197.42 713.2 L188.69 710.6 L179.97 708 L171.25 705.4 L162.52 704.6 L153.8 662Z" fill="#d5798b" fill-opacity="0.5"/>
<path d="M153.8 662 L162.52 693.6 L171.25 694.4 L179.97 697.13 L188.69 699.85 L197.42 702.58 L206.14 705.31 L214.86 708.04 L223.58 710.76 L232.31 713.49 L241.03 716.22 L249.75 718.95 L258.48 721.67 L267.2 724.4" fill="none" stroke="#741418" stroke-width="1.25" stroke-linejoin="round"/>
<path d="M153.8 662 L162.52 704.6 L171.25 705.4 L179.97 708 L188.69 710.6 L197.42 713.2 L206.14 715.8 L214.86 718.4 L223.58 721 L232.31 723.6 L241.03 726.2 L249.75 728.8 L258.48 731.4 L267.2 734 L267.2 737.4 L258.48 734.73 L249.75 732.05 L241.03 729.38 L232.31 726.71 L223.58 724.04 L214.86 721.36 L206.14 718.69 L197.42 716.02 L188.69 713.35 L179.97 710.67 L171.25 708 L162.52 706 L153.8 662Z" fill="#bbe5b1" fill-opacity="0.5"/>
<path d="M153.8 662 L162.52 706 L171.25 708 L179.97 710.67 L188.69 713.35 L197.42 716.02 L206.14 718.69 L214.86 721.36 L223.58 724.04 L232.31 726.71 L241.03 729.38 L249.75 732.05 L258.48 734.73 L267.2 737.4" fill="none" stroke="#1e5c24" stroke-width="1.25" stroke-linejoin="round"/>
<path d="M153.8 662 L162.52 704.6 L171.25 705.4 L179.97 708 L188.69 710.6 L197.42 713.2 L206.14 715.8 L214.86 718.4 L223.58 721 L232.31 723.6 L241.03 726.2 L249.75 728.8 L258.48 731.4 L267.2 734" fill="none" stroke="#4a8a30" stroke-width="1.25" stroke-linejoin="round"/>
<rect x="149.6" y="632.4" width="121.9" height="107.1" fill="none" stroke="#959595" stroke-width="1.2"/>
<rect x="149.6" y="632.4" width="121.9" height="10.2" fill="#c3c3c3" stroke="#9a9a9a" stroke-width="0.8"/>
<line x1="149.6" y1="642.6" x2="271.5" y2="642.6" stroke="#666" stroke-width="1"/>
<text x="210.55" y="640.4" text-anchor="middle" font-family="Liberation Sans" font-weight="bold" font-size="6.6" fill="#333" textLength="20" lengthAdjust="spacingAndGlyphs">Beijing</text>
<line x1="149.6" y1="658" x2="151.1" y2="658" stroke="#777" stroke-width="0.8"/>
<text x="148" y="660.8" text-anchor="end" font-family="Liberation Sans" font-weight="bold" font-size="6.6" fill="#222">-0.6</text>
<line x1="149.6" y1="688.4" x2="151.1" y2="688.4" stroke="#777" stroke-width="0.8"/>
<text x="148" y="691.2" text-anchor="end" font-family="Liberation Sans" font-weight="bold" font-size="6.6" fill="#222">-1.2</text>
<line x1="149.6" y1="718.6" x2="151.1" y2="718.6" stroke="#777" stroke-width="0.8"/>
<text x="148" y="721.4" text-anchor="end" font-family="Liberation Sans" font-weight="bold" font-size="6.6" fill="#222">-1.8</text>
<line x1="153.8" y1="739.5" x2="153.8" y2="738" stroke="#777" stroke-width="0.8"/>
<text x="154.2" y="746.8" text-anchor="middle" font-family="Liberation Sans" font-weight="bold" font-size="7.6" fill="#222" textLength="13.9" lengthAdjust="spacingAndGlyphs">2022</text>
<line x1="171.25" y1="739.5" x2="171.25" y2="738" stroke="#777" stroke-width="0.8"/>
<text x="171.65" y="746.8" text-anchor="middle" font-family="Liberation Sans" font-weight="bold" font-size="7.6" fill="#222" textLength="13.9" lengthAdjust="spacingAndGlyphs">2024</text>
<line x1="188.69" y1="739.5" x2="188.69" y2="738" stroke="#777" stroke-width="0.8"/>
<text x="189.09" y="746.8" text-anchor="middle" font-family="Liberation Sans" font-weight="bold" font-size="7.6" fill="#222" textLength="13.9" lengthAdjust="spacingAndGlyphs">2026</text>
<line x1="206.14" y1="739.5" x2="206.14" y2="738" stroke="#777" stroke-width="0.8"/>
<text x="206.54" y="746.8" text-anchor="middle" font-family="Liberation Sans" font-weight="bold" font-size="7.6" fill="#222" textLength="13.9" lengthAdjust="spacingAndGlyphs">2028</text>
<line x1="223.58" y1="739.5" x2="223.58" y2="738" stroke="#777" stroke-width="0.8"/>
<text x="223.98" y="746.8" text-anchor="middle" font-family="Liberation Sans" font-weight="bold" font-size="7.6" fill="#222" textLength="13.9" lengthAdjust="spacingAndGlyphs">2030</text>
<line x1="241.03" y1="739.5" x2="241.03" y2="738" stroke="#777" stroke-width="0.8"/>
<text x="241.43" y="746.8" text-anchor="middle" font-family="Liberation Sans" font-weight="bold" font-size="7.6" fill="#222" textLength="13.9" lengthAdjust="spacingAndGlyphs">2032</text>
<line x1="258.48" y1="739.5" x2="258.48" y2="738" stroke="#777" stroke-width="0.8"/>
<text x="258.88" y="746.8" text-anchor="middle" font-family="Liberation Sans" font-weight="bold" font-size="7.6" fill="#222" textLength="13.9" lengthAdjust="spacingAndGlyphs">2034</text>
<path d="M291.6 659.6 L300.32 658 L309.03 660 L317.75 660.6 L326.46 661.2 L335.18 661.8 L343.89 662.4 L352.61 663 L361.32 663.6 L370.04 664.2 L378.75 664.8 L387.47 665.4 L396.18 666 L404.9 666.6 L404.9 684.6 L396.18 683.73 L387.47 682.87 L378.75 682 L370.04 680.88 L361.32 679.75 L352.61 678.62 L343.89 677.5 L335.18 676.38 L326.46 675.25 L317.75 674.12 L309.03 673 L300.32 670.6 L291.6 659.6Z" fill="#abe5f1" fill-opacity="0.5"/>
<path d="M291.6 659.6 L300.32 658 L309.03 660 L317.75 660.6 L326.46 661.2 L335.18 661.8 L343.89 662.4 L352.61 663 L361.32 663.6 L370.04 664.2 L378.75 664.8 L387.47 665.4 L396.18 666 L404.9 666.6" fill="none" stroke="#3a78a0" stroke-width="1.25" stroke-linejoin="round"/>
<path d="M291.6 659.6 L300.32 670.6 L309.03 673 L317.75 674.12 L326.46 675.25 L335.18 676.38 L343.89 677.5 L352.61 678.62 L361.32 679.75 L370.04 680.88 L378.75 682 L387.47 682.87 L396.18 683.73 L404.9 684.6 L404.9 684.6 L396.18 683.73 L387.47 682.87 L378.75 682 L370.04 684.53 L361.32 687.07 L352.61 689.6 L343.89 690.6 L335.18 694 L326.46 692.33 L317.75 690.67 L309.03 689 L300.32 687 L291.6 659.6Z" fill="#5de1f1" fill-opacity="0.5"/>
<path d="M291.6 659.6 L300.32 670.6 L309.03 673 L317.75 674.12 L326.46 675.25 L335.18 676.38 L343.89 677.5 L352.61 678.62 L361.32 679.75 L370.04 680.88 L378.75 682 L387.47 682.87 L396.18 683.73 L404.9 684.6" fill="none" stroke="#1e5068" stroke-width="1.25" stroke-linejoin="round"/>
<path d="M291.6 659.6 L300.32 687 L309.03 689 L317.75 690.67 L326.46 692.33 L335.18 694 L343.89 690.6 L352.61 689.6 L361.32 687.07 L370.04 684.53 L378.75 682 L387.47 682.87 L396.18 683.73 L404.9 684.6 L404.9 706.6 L396.18 704.18 L387.47 701.76 L378.75 699.35 L370.04 696.93 L361.32 694.51 L352.61 692.09 L343.89 689.67 L335.18 687.25 L326.46 684.84 L317.75 682.42 L309.03 680 L300.32 681.4 L291.6 659.6Z" fill="#eed8e6"/>
<path d="M291.6 659.6 L300.32 687 L309.03 689 L317.75 690.67 L326.46 692.33 L335.18 694 L343.89 690.6 L352.61 689.6 L361.32 687.07 L370.04 684.53 L378.75 682 L387.47 682.87 L396.18 683.73 L404.9 684.6" fill="none" stroke="#9c1a50" stroke-width="1.25" stroke-linejoin="round"/>
<path d="M291.6 659.6 L300.32 681.4 L309.03 680 L317.75 682.42 L326.46 684.84 L335.18 687.25 L343.89 689.67 L352.61 692.09 L361.32 694.51 L370.04 696.93 L378.75 699.35 L387.47 701.76 L396.18 704.18 L404.9 706.6 L404.9 718.4 L396.18 715.95 L387.47 713.49 L378.75 711.04 L370.04 708.58 L361.32 706.13 L352.61 703.67 L343.89 701.22 L335.18 698.76 L326.46 696.31 L317.75 693.85 L309.03 691.4 L300.32 693.4 L291.6 659.6Z" fill="#d5798b" fill-opacity="0.5"/>
<path d="M291.6 659.6 L300.32 681.4 L309.03 680 L317.75 682.42 L326.46 684.84 L335.18 687.25 L343.89 689.67 L352.61 692.09 L361.32 694.51 L370.04 696.93 L378.75 699.35 L387.47 701.76 L396.18 704.18 L404.9 706.6" fill="none" stroke="#741418" stroke-width="1.25" stroke-linejoin="round"/>
<path d="M291.6 659.6 L300.32 693.4 L309.03 691.4 L317.75 693.85 L326.46 696.31 L335.18 698.76 L343.89 701.22 L352.61 703.67 L361.32 706.13 L370.04 708.58 L378.75 711.04 L387.47 713.49 L396.18 715.95 L404.9 718.4 L404.9 730 L396.18 727.45 L387.47 724.91 L378.75 722.36 L370.04 719.82 L361.32 717.27 L352.61 714.73 L343.89 712.18 L335.18 709.64 L326.46 707.09 L317.75 704.55 L309.03 702 L300.32 705.4 L291.6 659.6Z" fill="#bbe5b1" fill-opacity="0.5"/>
<path d="M291.6 659.6 L300.32 705.4 L309.03 702 L317.75 704.55 L326.46 707.09 L335.18 709.64 L343.89 712.18 L352.61 714.73 L361.32 717.27 L370.04 719.82 L378.75 722.36 L387.47 724.91 L396.18 727.45 L404.9 730" fill="none" stroke="#1e5c24" stroke-width="1.25" stroke-linejoin="round"/>
<path d="M291.6 659.6 L300.32 693.4 L309.03 691.4 L317.75 693.85 L326.46 696.31 L335.18 698.76 L343.89 701.22 L352.61 703.67 L361.32 706.13 L370.04 708.58 L378.75 711.04 L387.47 713.49 L396.18 715.95 L404.9 718.4" fill="none" stroke="#4a8a30" stroke-width="1.25" stroke-linejoin="round"/>
<rect x="287.5" y="632.4" width="121.4" height="107.3" fill="none" stroke="#959595" stroke-width="1.2"/>
<rect x="287.5" y="632.4" width="121.4" height="10.2" fill="#c3c3c3" stroke="#9a9a9a" stroke-width="0.8"/>
<line x1="287.5" y1="642.6" x2="408.9" y2="642.6" stroke="#666" stroke-width="1"/>
<text x="348.2" y="640.4" text-anchor="middle" font-family="Liberation Sans" font-weight="bold" font-size="6.6" fill="#333" textLength="26" lengthAdjust="spacingAndGlyphs">Shanghai</text>
<line x1="287.5" y1="642.6" x2="289" y2="642.6" stroke="#777" stroke-width="0.8"/>
<text x="285.9" y="645.4" text-anchor="end" font-family="Liberation Sans" font-weight="bold" font-size="6.6" fill="#222">0.0</text>
<line x1="287.5" y1="672.6" x2="289" y2="672.6" stroke="#777" stroke-width="0.8"/>
<text x="285.9" y="675.4" text-anchor="end" font-family="Liberation Sans" font-weight="bold" font-size="6.6" fill="#222">-0.5</text>
<line x1="287.5" y1="703" x2="289" y2="703" stroke="#777" stroke-width="0.8"/>
<text x="285.9" y="705.8" text-anchor="end" font-family="Liberation Sans" font-weight="bold" font-size="6.6" fill="#222">-1.0</text>
<line x1="287.5" y1="733" x2="289" y2="733" stroke="#777" stroke-width="0.8"/>
<text x="285.9" y="735.8" text-anchor="end" font-family="Liberation Sans" font-weight="bold" font-size="6.6" fill="#222">-1.5</text>
<line x1="291.6" y1="739.7" x2="291.6" y2="738.2" stroke="#777" stroke-width="0.8"/>
<text x="292" y="747" text-anchor="middle" font-family="Liberation Sans" font-weight="bold" font-size="7.6" fill="#222" textLength="13.9" lengthAdjust="spacingAndGlyphs">2022</text>
<line x1="309.03" y1="739.7" x2="309.03" y2="738.2" stroke="#777" stroke-width="0.8"/>
<text x="309.43" y="747" text-anchor="middle" font-family="Liberation Sans" font-weight="bold" font-size="7.6" fill="#222" textLength="13.9" lengthAdjust="spacingAndGlyphs">2024</text>
<line x1="326.46" y1="739.7" x2="326.46" y2="738.2" stroke="#777" stroke-width="0.8"/>
<text x="326.86" y="747" text-anchor="middle" font-family="Liberation Sans" font-weight="bold" font-size="7.6" fill="#222" textLength="13.9" lengthAdjust="spacingAndGlyphs">2026</text>
<line x1="343.89" y1="739.7" x2="343.89" y2="738.2" stroke="#777" stroke-width="0.8"/>
<text x="344.29" y="747" text-anchor="middle" font-family="Liberation Sans" font-weight="bold" font-size="7.6" fill="#222" textLength="13.9" lengthAdjust="spacingAndGlyphs">2028</text>
<line x1="361.32" y1="739.7" x2="361.32" y2="738.2" stroke="#777" stroke-width="0.8"/>
<text x="361.72" y="747" text-anchor="middle" font-family="Liberation Sans" font-weight="bold" font-size="7.6" fill="#222" textLength="13.9" lengthAdjust="spacingAndGlyphs">2030</text>
<line x1="378.75" y1="739.7" x2="378.75" y2="738.2" stroke="#777" stroke-width="0.8"/>
<text x="379.15" y="747" text-anchor="middle" font-family="Liberation Sans" font-weight="bold" font-size="7.6" fill="#222" textLength="13.9" lengthAdjust="spacingAndGlyphs">2032</text>
<line x1="396.18" y1="739.7" x2="396.18" y2="738.2" stroke="#777" stroke-width="0.8"/>
<text x="396.58" y="747" text-anchor="middle" font-family="Liberation Sans" font-weight="bold" font-size="7.6" fill="#222" textLength="13.9" lengthAdjust="spacingAndGlyphs">2034</text>
<path d="M428.7 662 L437.36 660.4 L446.02 664.6 L454.68 665.04 L463.35 665.47 L472.01 665.91 L480.67 666.35 L489.33 666.78 L497.99 667.22 L506.65 667.65 L515.32 668.09 L523.98 668.53 L532.64 668.96 L541.3 669.4 L541.3 693.4 L532.64 692.55 L523.98 691.69 L515.32 690.84 L506.65 689.98 L497.99 689.13 L489.33 688.27 L480.67 687.42 L472.01 686.56 L463.35 685.71 L454.68 684.85 L446.02 684 L437.36 676 L428.7 662Z" fill="#abe5f1" fill-opacity="0.5"/>
<path d="M428.7 662 L437.36 660.4 L446.02 664.6 L454.68 665.04 L463.35 665.47 L472.01 665.91 L480.67 666.35 L489.33 666.78 L497.99 667.22 L506.65 667.65 L515.32 668.09 L523.98 668.53 L532.64 668.96 L541.3 669.4" fill="none" stroke="#3a78a0" stroke-width="1.25" stroke-linejoin="round"/>
<path d="M428.7 662 L437.36 676 L446.02 684 L454.68 684.85 L463.35 685.71 L472.01 686.56 L480.67 687.42 L489.33 688.27 L497.99 689.13 L506.65 689.98 L515.32 690.84 L523.98 691.69 L532.64 692.55 L541.3 693.4 L541.3 693.4 L532.64 692.6 L523.98 691.8 L515.32 691 L506.65 690.2 L497.99 689.4 L489.33 688.6 L480.67 687.8 L472.01 687 L463.35 686.2 L454.68 685.4 L446.02 684.6 L437.36 685.4 L428.7 662Z" fill="#5de1f1" fill-opacity="0.5"/>
<path d="M428.7 662 L437.36 676 L446.02 684 L454.68 684.85 L463.35 685.71 L472.01 686.56 L480.67 687.42 L489.33 688.27 L497.99 689.13 L506.65 689.98 L515.32 690.84 L523.98 691.69 L532.64 692.55 L541.3 693.4" fill="none" stroke="#1e5068" stroke-width="1.25" stroke-linejoin="round"/>
<path d="M428.7 662 L437.36 685.4 L446.02 684.6 L454.68 685.4 L463.35 686.2 L472.01 687 L480.67 687.8 L489.33 688.6 L497.99 689.4 L506.65 690.2 L515.32 691 L523.98 691.8 L532.64 692.6 L541.3 693.4 L541.3 710.4 L532.64 708.5 L523.98 706.6 L515.32 704.7 L506.65 702.8 L497.99 700.9 L489.33 699 L480.67 696.8 L472.01 694.6 L463.35 692.4 L454.68 690.2 L446.02 688 L437.36 686 L428.7 662Z" fill="#eed8e6"/>
<path d="M428.7 662 L437.36 685.4 L446.02 684.6 L454.68 685.4 L463.35 686.2 L472.01 687 L480.67 687.8 L489.33 688.6 L497.99 689.4 L506.65 690.2 L515.32 691 L523.98 691.8 L532.64 692.6 L541.3 693.4" fill="none" stroke="#9c1a50" stroke-width="1.25" stroke-linejoin="round"/>
<path d="M428.7 662 L437.36 686 L446.02 688 L454.68 690.2 L463.35 692.4 L472.01 694.6 L480.67 696.8 L489.33 699 L497.99 700.9 L506.65 702.8 L515.32 704.7 L523.98 706.6 L532.64 708.5 L541.3 710.4 L541.3 723.6 L532.64 721.73 L523.98 719.87 L515.32 718 L506.65 716.13 L497.99 714.27 L489.33 712.4 L480.67 710.32 L472.01 708.24 L463.35 706.16 L454.68 704.08 L446.02 702 L437.36 700.6 L428.7 662Z" fill="#d5798b" fill-opacity="0.5"/>
<path d="M428.7 662 L437.36 686 L446.02 688 L454.68 690.2 L463.35 692.4 L472.01 694.6 L480.67 696.8 L489.33 699 L497.99 700.9 L506.65 702.8 L515.32 704.7 L523.98 706.6 L532.64 708.5 L541.3 710.4" fill="none" stroke="#741418" stroke-width="1.25" stroke-linejoin="round"/>
<path d="M428.7 662 L437.36 700.6 L446.02 702 L454.68 704.08 L463.35 706.16 L472.01 708.24 L480.67 710.32 L489.33 712.4 L497.99 714.27 L506.65 716.13 L515.32 718 L523.98 719.87 L532.64 721.73 L541.3 723.6 L541.3 732.4 L532.64 730.57 L523.98 728.73 L515.32 726.9 L506.65 725.07 L497.99 723.23 L489.33 721.4 L480.67 719.32 L472.01 717.24 L463.35 715.16 L454.68 713.08 L446.02 711 L437.36 710 L428.7 662Z" fill="#bbe5b1" fill-opacity="0.5"/>
<path d="M428.7 662 L437.36 710 L446.02 711 L454.68 713.08 L463.35 715.16 L472.01 717.24 L480.67 719.32 L489.33 721.4 L497.99 723.23 L506.65 725.07 L515.32 726.9 L523.98 728.73 L532.64 730.57 L541.3 732.4" fill="none" stroke="#1e5c24" stroke-width="1.25" stroke-linejoin="round"/>
<path d="M428.7 662 L437.36 700.6 L446.02 702 L454.68 704.08 L463.35 706.16 L472.01 708.24 L480.67 710.32 L489.33 712.4 L497.99 714.27 L506.65 716.13 L515.32 718 L523.98 719.87 L532.64 721.73 L541.3 723.6" fill="none" stroke="#4a8a30" stroke-width="1.25" stroke-linejoin="round"/>
<rect x="424.6" y="632.4" width="120.8" height="107.1" fill="none" stroke="#959595" stroke-width="1.2"/>
<rect x="424.6" y="632.4" width="120.8" height="10.2" fill="#c3c3c3" stroke="#9a9a9a" stroke-width="0.8"/>
<line x1="424.6" y1="642.6" x2="545.4" y2="642.6" stroke="#666" stroke-width="1"/>
<text x="485" y="640.4" text-anchor="middle" font-family="Liberation Sans" font-weight="bold" font-size="6.6" fill="#333" textLength="31.6" lengthAdjust="spacingAndGlyphs">Chongqing</text>
<line x1="424.6" y1="642.6" x2="426.1" y2="642.6" stroke="#777" stroke-width="0.8"/>
<text x="423" y="645.4" text-anchor="end" font-family="Liberation Sans" font-weight="bold" font-size="6.6" fill="#222">0.0</text>
<line x1="424.6" y1="671" x2="426.1" y2="671" stroke="#777" stroke-width="0.8"/>
<text x="423" y="673.8" text-anchor="end" font-family="Liberation Sans" font-weight="bold" font-size="6.6" fill="#222">-0.5</text>
<line x1="424.6" y1="699.4" x2="426.1" y2="699.4" stroke="#777" stroke-width="0.8"/>
<text x="423" y="702.2" text-anchor="end" font-family="Liberation Sans" font-weight="bold" font-size="6.6" fill="#222">-1.0</text>
<line x1="424.6" y1="728" x2="426.1" y2="728" stroke="#777" stroke-width="0.8"/>
<text x="423" y="730.8" text-anchor="end" font-family="Liberation Sans" font-weight="bold" font-size="6.6" fill="#222">-1.5</text>
<line x1="428.7" y1="739.5" x2="428.7" y2="738" stroke="#777" stroke-width="0.8"/>
<text x="429.1" y="746.8" text-anchor="middle" font-family="Liberation Sans" font-weight="bold" font-size="7.6" fill="#222" textLength="13.9" lengthAdjust="spacingAndGlyphs">2022</text>
<line x1="446.02" y1="739.5" x2="446.02" y2="738" stroke="#777" stroke-width="0.8"/>
<text x="446.42" y="746.8" text-anchor="middle" font-family="Liberation Sans" font-weight="bold" font-size="7.6" fill="#222" textLength="13.9" lengthAdjust="spacingAndGlyphs">2024</text>
<line x1="463.35" y1="739.5" x2="463.35" y2="738" stroke="#777" stroke-width="0.8"/>
<text x="463.75" y="746.8" text-anchor="middle" font-family="Liberation Sans" font-weight="bold" font-size="7.6" fill="#222" textLength="13.9" lengthAdjust="spacingAndGlyphs">2026</text>
<line x1="480.67" y1="739.5" x2="480.67" y2="738" stroke="#777" stroke-width="0.8"/>
<text x="481.07" y="746.8" text-anchor="middle" font-family="Liberation Sans" font-weight="bold" font-size="7.6" fill="#222" textLength="13.9" lengthAdjust="spacingAndGlyphs">2028</text>
<line x1="497.99" y1="739.5" x2="497.99" y2="738" stroke="#777" stroke-width="0.8"/>
<text x="498.39" y="746.8" text-anchor="middle" font-family="Liberation Sans" font-weight="bold" font-size="7.6" fill="#222" textLength="13.9" lengthAdjust="spacingAndGlyphs">2030</text>
<line x1="515.32" y1="739.5" x2="515.32" y2="738" stroke="#777" stroke-width="0.8"/>
<text x="515.72" y="746.8" text-anchor="middle" font-family="Liberation Sans" font-weight="bold" font-size="7.6" fill="#222" textLength="13.9" lengthAdjust="spacingAndGlyphs">2032</text>
<line x1="532.64" y1="739.5" x2="532.64" y2="738" stroke="#777" stroke-width="0.8"/>
<text x="533.04" y="746.8" text-anchor="middle" font-family="Liberation Sans" font-weight="bold" font-size="7.6" fill="#222" textLength="13.9" lengthAdjust="spacingAndGlyphs">2034</text>
<path d="M565.5 647 L574.23 648 L582.96 650 L591.69 650.05 L600.42 650.11 L609.15 650.16 L617.88 650.22 L626.62 650.27 L635.35 650.33 L644.08 650.38 L652.81 650.44 L661.54 650.49 L670.27 650.55 L679 650.6 L679 683 L670.27 682.71 L661.54 682.43 L652.81 682.14 L644.08 681.86 L635.35 681.57 L626.62 681.29 L617.88 681 L609.15 679.75 L600.42 678.5 L591.69 677.25 L582.96 676 L574.23 666 L565.5 647Z" fill="#abe5f1" fill-opacity="0.5"/>
<path d="M565.5 647 L574.23 648 L582.96 650 L591.69 650.05 L600.42 650.11 L609.15 650.16 L617.88 650.22 L626.62 650.27 L635.35 650.33 L644.08 650.38 L652.81 650.44 L661.54 650.49 L670.27 650.55 L679 650.6" fill="none" stroke="#3a78a0" stroke-width="1.25" stroke-linejoin="round"/>
<path d="M565.5 647 L574.23 666 L582.96 676 L591.69 677.25 L600.42 678.5 L609.15 679.75 L617.88 681 L626.62 681.29 L635.35 681.57 L644.08 681.86 L652.81 682.14 L661.54 682.43 L670.27 682.71 L679 683 L679 683 L670.27 682.71 L661.54 682.43 L652.81 682.14 L644.08 681.86 L635.35 681.57 L626.62 681.29 L617.88 681 L609.15 682 L600.42 683 L591.69 684 L582.96 685 L574.23 681 L565.5 647Z" fill="#5de1f1" fill-opacity="0.5"/>
<path d="M565.5 647 L574.23 666 L582.96 676 L591.69 677.25 L600.42 678.5 L609.15 679.75 L617.88 681 L626.62 681.29 L635.35 681.57 L644.08 681.86 L652.81 682.14 L661.54 682.43 L670.27 682.71 L679 683" fill="none" stroke="#1e5068" stroke-width="1.25" stroke-linejoin="round"/>
<path d="M565.5 647 L574.23 681 L582.96 685 L591.69 684 L600.42 683 L609.15 682 L617.88 681 L626.62 681.29 L635.35 681.57 L644.08 681.86 L652.81 682.14 L661.54 682.43 L670.27 682.71 L679 683 L679 694.6 L670.27 692.45 L661.54 690.31 L652.81 688.16 L644.08 686.02 L635.35 683.87 L626.62 681.73 L617.88 679.58 L609.15 677.44 L600.42 675.29 L591.69 673.15 L582.96 671 L574.23 665 L565.5 647Z" fill="#eed8e6"/>
<path d="M565.5 647 L574.23 681 L582.96 685 L591.69 684 L600.42 683 L609.15 682 L617.88 681 L626.62 681.29 L635.35 681.57 L644.08 681.86 L652.81 682.14 L661.54 682.43 L670.27 682.71 L679 683" fill="none" stroke="#9c1a50" stroke-width="1.25" stroke-linejoin="round"/>
<path d="M565.5 647 L574.23 665 L582.96 671 L591.69 673.15 L600.42 675.29 L609.15 677.44 L617.88 679.58 L626.62 681.73 L635.35 683.87 L644.08 686.02 L652.81 688.16 L661.54 690.31 L670.27 692.45 L679 694.6 L679 719 L670.27 716.96 L661.54 714.93 L652.81 712.89 L644.08 710.85 L635.35 708.82 L626.62 706.78 L617.88 704.75 L609.15 702.71 L600.42 700.67 L591.69 698.64 L582.96 696.6 L574.23 688 L565.5 647Z" fill="#d5798b" fill-opacity="0.5"/>
<path d="M565.5 647 L574.23 665 L582.96 671 L591.69 673.15 L600.42 675.29 L609.15 677.44 L617.88 679.58 L626.62 681.73 L635.35 683.87 L644.08 686.02 L652.81 688.16 L661.54 690.31 L670.27 692.45 L679 694.6" fill="none" stroke="#741418" stroke-width="1.25" stroke-linejoin="round"/>
<path d="M565.5 647 L574.23 688 L582.96 696.6 L591.69 698.64 L600.42 700.67 L609.15 702.71 L617.88 704.75 L626.62 706.78 L635.35 708.82 L644.08 710.85 L652.81 712.89 L661.54 714.93 L670.27 716.96 L679 719 L679 727.4 L670.27 725.36 L661.54 723.33 L652.81 721.29 L644.08 719.25 L635.35 717.22 L626.62 715.18 L617.88 713.15 L609.15 711.11 L600.42 709.07 L591.69 707.04 L582.96 705 L574.23 695 L565.5 647Z" fill="#bbe5b1" fill-opacity="0.5"/>
<path d="M565.5 647 L574.23 695 L582.96 705 L591.69 707.04 L600.42 709.07 L609.15 711.11 L617.88 713.15 L626.62 715.18 L635.35 717.22 L644.08 719.25 L652.81 721.29 L661.54 723.33 L670.27 725.36 L679 727.4" fill="none" stroke="#1e5c24" stroke-width="1.25" stroke-linejoin="round"/>
<path d="M565.5 647 L574.23 688 L582.96 696.6 L591.69 698.64 L600.42 700.67 L609.15 702.71 L617.88 704.75 L626.62 706.78 L635.35 708.82 L644.08 710.85 L652.81 712.89 L661.54 714.93 L670.27 716.96 L679 719" fill="none" stroke="#4a8a30" stroke-width="1.25" stroke-linejoin="round"/>
<rect x="561.3" y="632.4" width="121.7" height="107.8" fill="none" stroke="#959595" stroke-width="1.2"/>
<rect x="561.3" y="632.4" width="121.7" height="10.2" fill="#c3c3c3" stroke="#9a9a9a" stroke-width="0.8"/>
<line x1="561.3" y1="642.6" x2="683" y2="642.6" stroke="#666" stroke-width="1"/>
<text x="622.15" y="640.4" text-anchor="middle" font-family="Liberation Sans" font-weight="bold" font-size="6.6" fill="#333" textLength="22" lengthAdjust="spacingAndGlyphs">Ningxia</text>
<line x1="561.3" y1="642" x2="562.8" y2="642" stroke="#777" stroke-width="0.8"/>
<text x="559.7" y="644.8" text-anchor="end" font-family="Liberation Sans" font-weight="bold" font-size="6.6" fill="#222">0.0</text>
<line x1="561.3" y1="685.6" x2="562.8" y2="685.6" stroke="#777" stroke-width="0.8"/>
<text x="559.7" y="688.4" text-anchor="end" font-family="Liberation Sans" font-weight="bold" font-size="6.6" fill="#222">-0.2</text>
<line x1="561.3" y1="729.4" x2="562.8" y2="729.4" stroke="#777" stroke-width="0.8"/>
<text x="559.7" y="732.2" text-anchor="end" font-family="Liberation Sans" font-weight="bold" font-size="6.6" fill="#222">-0.4</text>
<line x1="565.5" y1="740.2" x2="565.5" y2="738.7" stroke="#777" stroke-width="0.8"/>
<text x="565.9" y="747.5" text-anchor="middle" font-family="Liberation Sans" font-weight="bold" font-size="7.6" fill="#222" textLength="13.9" lengthAdjust="spacingAndGlyphs">2022</text>
<line x1="582.96" y1="740.2" x2="582.96" y2="738.7" stroke="#777" stroke-width="0.8"/>
<text x="583.36" y="747.5" text-anchor="middle" font-family="Liberation Sans" font-weight="bold" font-size="7.6" fill="#222" textLength="13.9" lengthAdjust="spacingAndGlyphs">2024</text>
<line x1="600.42" y1="740.2" x2="600.42" y2="738.7" stroke="#777" stroke-width="0.8"/>
<text x="600.82" y="747.5" text-anchor="middle" font-family="Liberation Sans" font-weight="bold" font-size="7.6" fill="#222" textLength="13.9" lengthAdjust="spacingAndGlyphs">2026</text>
<line x1="617.88" y1="740.2" x2="617.88" y2="738.7" stroke="#777" stroke-width="0.8"/>
<text x="618.28" y="747.5" text-anchor="middle" font-family="Liberation Sans" font-weight="bold" font-size="7.6" fill="#222" textLength="13.9" lengthAdjust="spacingAndGlyphs">2028</text>
<line x1="635.35" y1="740.2" x2="635.35" y2="738.7" stroke="#777" stroke-width="0.8"/>
<text x="635.75" y="747.5" text-anchor="middle" font-family="Liberation Sans" font-weight="bold" font-size="7.6" fill="#222" textLength="13.9" lengthAdjust="spacingAndGlyphs">2030</text>
<line x1="652.81" y1="740.2" x2="652.81" y2="738.7" stroke="#777" stroke-width="0.8"/>
<text x="653.21" y="747.5" text-anchor="middle" font-family="Liberation Sans" font-weight="bold" font-size="7.6" fill="#222" textLength="13.9" lengthAdjust="spacingAndGlyphs">2032</text>
<line x1="670.27" y1="740.2" x2="670.27" y2="738.7" stroke="#777" stroke-width="0.8"/>
<text x="670.67" y="747.5" text-anchor="middle" font-family="Liberation Sans" font-weight="bold" font-size="7.6" fill="#222" textLength="13.9" lengthAdjust="spacingAndGlyphs">2034</text>
<path d="M17.2 775.4 L25.91 774 L34.62 778.4 L43.32 778.96 L52.03 779.53 L60.74 780.09 L69.45 780.65 L78.15 781.22 L86.86 781.78 L95.57 782.35 L104.28 782.91 L112.98 783.47 L121.69 784.04 L130.4 784.6 L130.4 802.4 L121.69 801.36 L112.98 800.31 L104.28 799.27 L95.57 798.22 L86.86 797.18 L78.15 796.13 L69.45 795.09 L60.74 794.04 L52.03 793 L43.32 791.7 L34.62 790.4 L25.91 783 L17.2 775.4Z" fill="#abe5f1" fill-opacity="0.5"/>
<path d="M17.2 775.4 L25.91 774 L34.62 778.4 L43.32 778.96 L52.03 779.53 L60.74 780.09 L69.45 780.65 L78.15 781.22 L86.86 781.78 L95.57 782.35 L104.28 782.91 L112.98 783.47 L121.69 784.04 L130.4 784.6" fill="none" stroke="#3a78a0" stroke-width="1.25" stroke-linejoin="round"/>
<path d="M17.2 775.4 L25.91 783 L34.62 790.4 L43.32 791.7 L52.03 793 L60.74 794.04 L69.45 795.09 L78.15 796.13 L86.86 797.18 L95.57 798.22 L104.28 799.27 L112.98 800.31 L121.69 801.36 L130.4 802.4 L130.4 802.4 L121.69 801.3 L112.98 800.2 L104.28 799.1 L95.57 798 L86.86 796.9 L78.15 795.8 L69.45 794.7 L60.74 793.6 L52.03 793.4 L43.32 794.9 L34.62 796.4 L25.91 790 L17.2 775.4Z" fill="#5de1f1" fill-opacity="0.5"/>
<path d="M17.2 775.4 L25.91 783 L34.62 790.4 L43.32 791.7 L52.03 793 L60.74 794.04 L69.45 795.09 L78.15 796.13 L86.86 797.18 L95.57 798.22 L104.28 799.27 L112.98 800.31 L121.69 801.36 L130.4 802.4" fill="none" stroke="#1e5068" stroke-width="1.25" stroke-linejoin="round"/>
<path d="M17.2 775.4 L25.91 790 L34.62 796.4 L43.32 794.9 L52.03 793.4 L60.74 793.6 L69.45 794.7 L78.15 795.8 L86.86 796.9 L95.57 798 L104.28 799.1 L112.98 800.2 L121.69 801.3 L130.4 802.4 L130.4 829.4 L121.69 826.55 L112.98 823.69 L104.28 820.84 L95.57 817.98 L86.86 815.13 L78.15 812.27 L69.45 809.42 L60.74 806.56 L52.03 803.71 L43.32 800.85 L34.62 798 L25.91 791 L17.2 775.4Z" fill="#eed8e6"/>
<path d="M17.2 775.4 L25.91 790 L34.62 796.4 L43.32 794.9 L52.03 793.4 L60.74 793.6 L69.45 794.7 L78.15 795.8 L86.86 796.9 L95.57 798 L104.28 799.1 L112.98 800.2 L121.69 801.3 L130.4 802.4" fill="none" stroke="#9c1a50" stroke-width="1.25" stroke-linejoin="round"/>
<path d="M17.2 775.4 L25.91 791 L34.62 798 L43.32 800.85 L52.03 803.71 L60.74 806.56 L69.45 809.42 L78.15 812.27 L86.86 815.13 L95.57 817.98 L104.28 820.84 L112.98 823.69 L121.69 826.55 L130.4 829.4 L130.4 845.4 L121.69 842.33 L112.98 839.25 L104.28 836.18 L95.57 833.11 L86.86 830.04 L78.15 826.96 L69.45 823.89 L60.74 820.82 L52.03 817.75 L43.32 814.67 L34.62 811.6 L25.91 802 L17.2 775.4Z" fill="#d5798b" fill-opacity="0.5"/>
<path d="M17.2 775.4 L25.91 791 L34.62 798 L43.32 800.85 L52.03 803.71 L60.74 806.56 L69.45 809.42 L78.15 812.27 L86.86 815.13 L95.57 817.98 L104.28 820.84 L112.98 823.69 L121.69 826.55 L130.4 829.4" fill="none" stroke="#741418" stroke-width="1.25" stroke-linejoin="round"/>
<path d="M17.2 775.4 L25.91 802 L34.62 811.6 L43.32 814.67 L52.03 817.75 L60.74 820.82 L69.45 823.89 L78.15 826.96 L86.86 830.04 L95.57 833.11 L104.28 836.18 L112.98 839.25 L121.69 842.33 L130.4 845.4 L130.4 852 L121.69 848.82 L112.98 845.64 L104.28 842.45 L95.57 839.27 L86.86 836.09 L78.15 832.91 L69.45 829.73 L60.74 826.55 L52.03 823.36 L43.32 820.18 L34.62 817 L25.91 805.6 L17.2 775.4Z" fill="#bbe5b1" fill-opacity="0.5"/>
<path d="M17.2 775.4 L25.91 805.6 L34.62 817 L43.32 820.18 L52.03 823.36 L60.74 826.55 L69.45 829.73 L78.15 832.91 L86.86 836.09 L95.57 839.27 L104.28 842.45 L112.98 845.64 L121.69 848.82 L130.4 852" fill="none" stroke="#1e5c24" stroke-width="1.25" stroke-linejoin="round"/>
<path d="M17.2 775.4 L25.91 802 L34.62 811.6 L43.32 814.67 L52.03 817.75 L60.74 820.82 L69.45 823.89 L78.15 826.96 L86.86 830.04 L95.57 833.11 L104.28 836.18 L112.98 839.25 L121.69 842.33 L130.4 845.4" fill="none" stroke="#4a8a30" stroke-width="1.25" stroke-linejoin="round"/>
<rect x="13" y="754.9" width="121.7" height="107.3" fill="none" stroke="#959595" stroke-width="1.2"/>
<rect x="13" y="754.9" width="121.7" height="9.7" fill="#c3c3c3" stroke="#9a9a9a" stroke-width="0.8"/>
<line x1="13" y1="764.6" x2="134.7" y2="764.6" stroke="#666" stroke-width="1"/>
<text x="73.85" y="762.4" text-anchor="middle" font-family="Liberation Sans" font-weight="bold" font-size="6.6" fill="#333" textLength="17" lengthAdjust="spacingAndGlyphs">Fujian</text>
<line x1="13" y1="765" x2="14.5" y2="765" stroke="#777" stroke-width="0.8"/>
<text x="11.4" y="767.8" text-anchor="end" font-family="Liberation Sans" font-weight="bold" font-size="6.6" fill="#222">0</text>
<line x1="13" y1="800" x2="14.5" y2="800" stroke="#777" stroke-width="0.8"/>
<text x="11.4" y="802.8" text-anchor="end" font-family="Liberation Sans" font-weight="bold" font-size="6.6" fill="#222">-2</text>
<line x1="13" y1="835" x2="14.5" y2="835" stroke="#777" stroke-width="0.8"/>
<text x="11.4" y="837.8" text-anchor="end" font-family="Liberation Sans" font-weight="bold" font-size="6.6" fill="#222">-4</text>
<line x1="17.2" y1="862.2" x2="17.2" y2="860.7" stroke="#777" stroke-width="0.8"/>
<text x="17.6" y="869.5" text-anchor="middle" font-family="Liberation Sans" font-weight="bold" font-size="7.6" fill="#222" textLength="13.9" lengthAdjust="spacingAndGlyphs">2022</text>
<line x1="34.62" y1="862.2" x2="34.62" y2="860.7" stroke="#777" stroke-width="0.8"/>
<text x="35.02" y="869.5" text-anchor="middle" font-family="Liberation Sans" font-weight="bold" font-size="7.6" fill="#222" textLength="13.9" lengthAdjust="spacingAndGlyphs">2024</text>
<line x1="52.03" y1="862.2" x2="52.03" y2="860.7" stroke="#777" stroke-width="0.8"/>
<text x="52.43" y="869.5" text-anchor="middle" font-family="Liberation Sans" font-weight="bold" font-size="7.6" fill="#222" textLength="13.9" lengthAdjust="spacingAndGlyphs">2026</text>
<line x1="69.45" y1="862.2" x2="69.45" y2="860.7" stroke="#777" stroke-width="0.8"/>
<text x="69.85" y="869.5" text-anchor="middle" font-family="Liberation Sans" font-weight="bold" font-size="7.6" fill="#222" textLength="13.9" lengthAdjust="spacingAndGlyphs">2028</text>
<line x1="86.86" y1="862.2" x2="86.86" y2="860.7" stroke="#777" stroke-width="0.8"/>
<text x="87.26" y="869.5" text-anchor="middle" font-family="Liberation Sans" font-weight="bold" font-size="7.6" fill="#222" textLength="13.9" lengthAdjust="spacingAndGlyphs">2030</text>
<line x1="104.28" y1="862.2" x2="104.28" y2="860.7" stroke="#777" stroke-width="0.8"/>
<text x="104.68" y="869.5" text-anchor="middle" font-family="Liberation Sans" font-weight="bold" font-size="7.6" fill="#222" textLength="13.9" lengthAdjust="spacingAndGlyphs">2032</text>
<line x1="121.69" y1="862.2" x2="121.69" y2="860.7" stroke="#777" stroke-width="0.8"/>
<text x="122.09" y="869.5" text-anchor="middle" font-family="Liberation Sans" font-weight="bold" font-size="7.6" fill="#222" textLength="13.9" lengthAdjust="spacingAndGlyphs">2034</text>
<path d="M153.8 770 L162.52 769.6 L171.25 769.4 L179.97 769.82 L188.69 770.24 L197.42 770.65 L206.14 771.07 L214.86 771.49 L223.58 771.91 L232.31 772.33 L241.03 772.75 L249.75 773.16 L258.48 773.58 L267.2 774 L267.2 791.4 L258.48 790.65 L249.75 789.9 L241.03 789.15 L232.31 788.4 L223.58 787.06 L214.86 785.71 L206.14 784.37 L197.42 783.03 L188.69 781.69 L179.97 780.34 L171.25 779 L162.52 780 L153.8 770Z" fill="#abe5f1" fill-opacity="0.5"/>
<path d="M153.8 770 L162.52 769.6 L171.25 769.4 L179.97 769.82 L188.69 770.24 L197.42 770.65 L206.14 771.07 L214.86 771.49 L223.58 771.91 L232.31 772.33 L241.03 772.75 L249.75 773.16 L258.48 773.58 L267.2 774" fill="none" stroke="#3a78a0" stroke-width="1.25" stroke-linejoin="round"/>
<path d="M153.8 770 L162.52 780 L171.25 779 L179.97 780.34 L188.69 781.69 L197.42 783.03 L206.14 784.37 L214.86 785.71 L223.58 787.06 L232.31 788.4 L241.03 789.15 L249.75 789.9 L258.48 790.65 L267.2 791.4 L267.2 791.4 L258.48 790.65 L249.75 789.9 L241.03 789.15 L232.31 788.4 L223.58 790.2 L214.86 792 L206.14 791 L197.42 790 L188.69 789 L179.97 788 L171.25 787 L162.52 790 L153.8 770Z" fill="#5de1f1" fill-opacity="0.5"/>
<path d="M153.8 770 L162.52 780 L171.25 779 L179.97 780.34 L188.69 781.69 L197.42 783.03 L206.14 784.37 L214.86 785.71 L223.58 787.06 L232.31 788.4 L241.03 789.15 L249.75 789.9 L258.48 790.65 L267.2 791.4" fill="none" stroke="#1e5068" stroke-width="1.25" stroke-linejoin="round"/>
<path d="M153.8 770 L162.52 790 L171.25 787 L179.97 788 L188.69 789 L197.42 790 L206.14 791 L214.86 792 L223.58 790.2 L232.31 788.4 L241.03 789.15 L249.75 789.9 L258.48 790.65 L267.2 791.4 L267.2 825.4 L258.48 822.12 L249.75 818.84 L241.03 815.56 L232.31 812.28 L223.58 809 L214.86 805.23 L206.14 801.47 L197.42 797.7 L188.69 793.93 L179.97 790.17 L171.25 786.4 L162.52 790 L153.8 770Z" fill="#eed8e6"/>
<path d="M153.8 770 L162.52 790 L171.25 787 L179.97 788 L188.69 789 L197.42 790 L206.14 791 L214.86 792 L223.58 790.2 L232.31 788.4 L241.03 789.15 L249.75 789.9 L258.48 790.65 L267.2 791.4" fill="none" stroke="#9c1a50" stroke-width="1.25" stroke-linejoin="round"/>
<path d="M153.8 770 L162.52 790 L171.25 786.4 L179.97 790.17 L188.69 793.93 L197.42 797.7 L206.14 801.47 L214.86 805.23 L223.58 809 L232.31 812.28 L241.03 815.56 L249.75 818.84 L258.48 822.12 L267.2 825.4 L267.2 848 L258.48 844.6 L249.75 841.2 L241.03 837.8 L232.31 834.4 L223.58 831 L214.86 826.17 L206.14 821.33 L197.42 816.5 L188.69 811.67 L179.97 806.83 L171.25 802 L162.52 810 L153.8 770Z" fill="#d5798b" fill-opacity="0.5"/>
<path d="M153.8 770 L162.52 790 L171.25 786.4 L179.97 790.17 L188.69 793.93 L197.42 797.7 L206.14 801.47 L214.86 805.23 L223.58 809 L232.31 812.28 L241.03 815.56 L249.75 818.84 L258.48 822.12 L267.2 825.4" fill="none" stroke="#741418" stroke-width="1.25" stroke-linejoin="round"/>
<path d="M153.8 770 L162.52 810 L171.25 802 L179.97 806.83 L188.69 811.67 L197.42 816.5 L206.14 821.33 L214.86 826.17 L223.58 831 L232.31 834.4 L241.03 837.8 L249.75 841.2 L258.48 844.6 L267.2 848 L267.2 855 L258.48 851.4 L249.75 847.8 L241.03 844.2 L232.31 840.6 L223.58 837 L214.86 831.9 L206.14 826.8 L197.42 821.7 L188.69 816.6 L179.97 811.5 L171.25 806.4 L162.52 815 L153.8 770Z" fill="#bbe5b1" fill-opacity="0.5"/>
<path d="M153.8 770 L162.52 815 L171.25 806.4 L179.97 811.5 L188.69 816.6 L197.42 821.7 L206.14 826.8 L214.86 831.9 L223.58 837 L232.31 840.6 L241.03 844.2 L249.75 847.8 L258.48 851.4 L267.2 855" fill="none" stroke="#1e5c24" stroke-width="1.25" stroke-linejoin="round"/>
<path d="M153.8 770 L162.52 810 L171.25 802 L179.97 806.83 L188.69 811.67 L197.42 816.5 L206.14 821.33 L214.86 826.17 L223.58 831 L232.31 834.4 L241.03 837.8 L249.75 841.2 L258.48 844.6 L267.2 848" fill="none" stroke="#4a8a30" stroke-width="1.25" stroke-linejoin="round"/>
<rect x="149.6" y="754.9" width="121.9" height="106.8" fill="none" stroke="#959595" stroke-width="1.2"/>
<rect x="149.6" y="754.9" width="121.9" height="9.7" fill="#c3c3c3" stroke="#9a9a9a" stroke-width="0.8"/>
<line x1="149.6" y1="764.6" x2="271.5" y2="764.6" stroke="#666" stroke-width="1"/>
<text x="210.55" y="762.4" text-anchor="middle" font-family="Liberation Sans" font-weight="bold" font-size="6.6" fill="#333" textLength="43.8" lengthAdjust="spacingAndGlyphs">Inner Mongolia</text>
<line x1="149.6" y1="764.4" x2="151.1" y2="764.4" stroke="#777" stroke-width="0.8"/>
<text x="148" y="767.2" text-anchor="end" font-family="Liberation Sans" font-weight="bold" font-size="6.6" fill="#222">0.0</text>
<line x1="149.6" y1="813" x2="151.1" y2="813" stroke="#777" stroke-width="0.8"/>
<text x="148" y="815.8" text-anchor="end" font-family="Liberation Sans" font-weight="bold" font-size="6.6" fill="#222">-0.6</text>
<line x1="149.6" y1="861" x2="151.1" y2="861" stroke="#777" stroke-width="0.8"/>
<text x="148" y="863.8" text-anchor="end" font-family="Liberation Sans" font-weight="bold" font-size="6.6" fill="#222">-1.2</text>
<line x1="153.8" y1="861.7" x2="153.8" y2="860.2" stroke="#777" stroke-width="0.8"/>
<text x="154.2" y="869" text-anchor="middle" font-family="Liberation Sans" font-weight="bold" font-size="7.6" fill="#222" textLength="13.9" lengthAdjust="spacingAndGlyphs">2022</text>
<line x1="171.25" y1="861.7" x2="171.25" y2="860.2" stroke="#777" stroke-width="0.8"/>
<text x="171.65" y="869" text-anchor="middle" font-family="Liberation Sans" font-weight="bold" font-size="7.6" fill="#222" textLength="13.9" lengthAdjust="spacingAndGlyphs">2024</text>
<line x1="188.69" y1="861.7" x2="188.69" y2="860.2" stroke="#777" stroke-width="0.8"/>
<text x="189.09" y="869" text-anchor="middle" font-family="Liberation Sans" font-weight="bold" font-size="7.6" fill="#222" textLength="13.9" lengthAdjust="spacingAndGlyphs">2026</text>
<line x1="206.14" y1="861.7" x2="206.14" y2="860.2" stroke="#777" stroke-width="0.8"/>
<text x="206.54" y="869" text-anchor="middle" font-family="Liberation Sans" font-weight="bold" font-size="7.6" fill="#222" textLength="13.9" lengthAdjust="spacingAndGlyphs">2028</text>
<line x1="223.58" y1="861.7" x2="223.58" y2="860.2" stroke="#777" stroke-width="0.8"/>
<text x="223.98" y="869" text-anchor="middle" font-family="Liberation Sans" font-weight="bold" font-size="7.6" fill="#222" textLength="13.9" lengthAdjust="spacingAndGlyphs">2030</text>
<line x1="241.03" y1="861.7" x2="241.03" y2="860.2" stroke="#777" stroke-width="0.8"/>
<text x="241.43" y="869" text-anchor="middle" font-family="Liberation Sans" font-weight="bold" font-size="7.6" fill="#222" textLength="13.9" lengthAdjust="spacingAndGlyphs">2032</text>
<line x1="258.48" y1="861.7" x2="258.48" y2="860.2" stroke="#777" stroke-width="0.8"/>
<text x="258.88" y="869" text-anchor="middle" font-family="Liberation Sans" font-weight="bold" font-size="7.6" fill="#222" textLength="13.9" lengthAdjust="spacingAndGlyphs">2034</text>
<path d="M291.6 780 L300.32 780.4 L309.03 787 L317.75 787.87 L326.46 788.75 L335.18 789.62 L343.89 790.49 L352.61 791.36 L361.32 792.24 L370.04 793.11 L378.75 793.98 L387.47 794.85 L396.18 795.73 L404.9 796.6 L404.9 824.4 L396.18 822.58 L387.47 820.76 L378.75 818.93 L370.04 817.11 L361.32 815.29 L352.61 813.47 L343.89 811.64 L335.18 809.82 L326.46 808 L317.75 806 L309.03 804 L300.32 795 L291.6 780Z" fill="#abe5f1" fill-opacity="0.5"/>
<path d="M291.6 780 L300.32 780.4 L309.03 787 L317.75 787.87 L326.46 788.75 L335.18 789.62 L343.89 790.49 L352.61 791.36 L361.32 792.24 L370.04 793.11 L378.75 793.98 L387.47 794.85 L396.18 795.73 L404.9 796.6" fill="none" stroke="#3a78a0" stroke-width="1.25" stroke-linejoin="round"/>
<path d="M291.6 780 L300.32 795 L309.03 804 L317.75 806 L326.46 808 L335.18 809.82 L343.89 811.64 L352.61 813.47 L361.32 815.29 L370.04 817.11 L378.75 818.93 L387.47 820.76 L396.18 822.58 L404.9 824.4 L404.9 835.4 L396.18 832.47 L387.47 829.53 L378.75 826.6 L370.04 823.67 L361.32 820.73 L352.61 817.8 L343.89 814.87 L335.18 811.93 L326.46 809 L317.75 806.7 L309.03 804.4 L300.32 797 L291.6 780Z" fill="#5de1f1" fill-opacity="0.5"/>
<path d="M291.6 780 L300.32 795 L309.03 804 L317.75 806 L326.46 808 L335.18 809.82 L343.89 811.64 L352.61 813.47 L361.32 815.29 L370.04 817.11 L378.75 818.93 L387.47 820.76 L396.18 822.58 L404.9 824.4" fill="none" stroke="#1e5068" stroke-width="1.25" stroke-linejoin="round"/>
<path d="M291.6 780 L300.32 797 L309.03 804.4 L317.75 806.7 L326.46 809 L335.18 811.93 L343.89 814.87 L352.61 817.8 L361.32 820.73 L370.04 823.67 L378.75 826.6 L387.47 829.53 L396.18 832.47 L404.9 835.4 L404.9 835.4 L396.18 832.47 L387.47 829.53 L378.75 826.6 L370.04 823.67 L361.32 820.73 L352.61 817.8 L343.89 814.87 L335.18 811.93 L326.46 809 L317.75 806.7 L309.03 804.4 L300.32 797 L291.6 780Z" fill="#eed8e6"/>
<path d="M291.6 780 L300.32 797 L309.03 804.4 L317.75 806.7 L326.46 809 L335.18 811.93 L343.89 814.87 L352.61 817.8 L361.32 820.73 L370.04 823.67 L378.75 826.6 L387.47 829.53 L396.18 832.47 L404.9 835.4" fill="none" stroke="#9c1a50" stroke-width="1.25" stroke-linejoin="round"/>
<path d="M291.6 780 L300.32 797 L309.03 804.4 L317.75 806.7 L326.46 809 L335.18 811.93 L343.89 814.87 L352.61 817.8 L361.32 820.73 L370.04 823.67 L378.75 826.6 L387.47 829.53 L396.18 832.47 L404.9 835.4 L404.9 853.4 L396.18 850.45 L387.47 847.51 L378.75 844.56 L370.04 841.62 L361.32 838.67 L352.61 835.73 L343.89 832.78 L335.18 829.84 L326.46 826.89 L317.75 823.95 L309.03 821 L300.32 812 L291.6 780Z" fill="#d5798b" fill-opacity="0.5"/>
<path d="M291.6 780 L300.32 797 L309.03 804.4 L317.75 806.7 L326.46 809 L335.18 811.93 L343.89 814.87 L352.61 817.8 L361.32 820.73 L370.04 823.67 L378.75 826.6 L387.47 829.53 L396.18 832.47 L404.9 835.4" fill="none" stroke="#741418" stroke-width="1.25" stroke-linejoin="round"/>
<path d="M291.6 780 L300.32 812 L309.03 821 L317.75 823.95 L326.46 826.89 L335.18 829.84 L343.89 832.78 L352.61 835.73 L361.32 838.67 L370.04 841.62 L378.75 844.56 L387.47 847.51 L396.18 850.45 L404.9 853.4 L404.9 853.4 L396.18 850.45 L387.47 847.51 L378.75 844.56 L370.04 841.62 L361.32 838.67 L352.61 835.73 L343.89 832.78 L335.18 829.84 L326.46 826.89 L317.75 823.95 L309.03 821 L300.32 812 L291.6 780Z" fill="#bbe5b1" fill-opacity="0.5"/>
<path d="M291.6 780 L300.32 812 L309.03 821 L317.75 823.95 L326.46 826.89 L335.18 829.84 L343.89 832.78 L352.61 835.73 L361.32 838.67 L370.04 841.62 L378.75 844.56 L387.47 847.51 L396.18 850.45 L404.9 853.4" fill="none" stroke="#1e5c24" stroke-width="1.25" stroke-linejoin="round"/>
<path d="M291.6 780 L300.32 812 L309.03 821 L317.75 823.95 L326.46 826.89 L335.18 829.84 L343.89 832.78 L352.61 835.73 L361.32 838.67 L370.04 841.62 L378.75 844.56 L387.47 847.51 L396.18 850.45 L404.9 853.4" fill="none" stroke="#4a8a30" stroke-width="1.25" stroke-linejoin="round"/>
<rect x="287.5" y="754.9" width="121.4" height="107.1" fill="none" stroke="#959595" stroke-width="1.2"/>
<rect x="287.5" y="754.9" width="121.4" height="9.7" fill="#c3c3c3" stroke="#9a9a9a" stroke-width="0.8"/>
<line x1="287.5" y1="764.6" x2="408.9" y2="764.6" stroke="#666" stroke-width="1"/>
<text x="348.2" y="762.4" text-anchor="middle" font-family="Liberation Sans" font-weight="bold" font-size="6.6" fill="#333" textLength="16" lengthAdjust="spacingAndGlyphs">Hubei</text>
<line x1="287.5" y1="764.1" x2="289" y2="764.1" stroke="#777" stroke-width="0.8"/>
<text x="285.9" y="766.9" text-anchor="end" font-family="Liberation Sans" font-weight="bold" font-size="6.6" fill="#222">0</text>
<line x1="287.5" y1="786.3" x2="289" y2="786.3" stroke="#777" stroke-width="0.8"/>
<text x="285.9" y="789.1" text-anchor="end" font-family="Liberation Sans" font-weight="bold" font-size="6.6" fill="#222">-1</text>
<line x1="287.5" y1="808.1" x2="289" y2="808.1" stroke="#777" stroke-width="0.8"/>
<text x="285.9" y="810.9" text-anchor="end" font-family="Liberation Sans" font-weight="bold" font-size="6.6" fill="#222">-2</text>
<line x1="287.5" y1="829.4" x2="289" y2="829.4" stroke="#777" stroke-width="0.8"/>
<text x="285.9" y="832.2" text-anchor="end" font-family="Liberation Sans" font-weight="bold" font-size="6.6" fill="#222">-3</text>
<line x1="287.5" y1="851" x2="289" y2="851" stroke="#777" stroke-width="0.8"/>
<text x="285.9" y="853.8" text-anchor="end" font-family="Liberation Sans" font-weight="bold" font-size="6.6" fill="#222">-4</text>
<line x1="291.6" y1="862" x2="291.6" y2="860.5" stroke="#777" stroke-width="0.8"/>
<text x="292" y="869.3" text-anchor="middle" font-family="Liberation Sans" font-weight="bold" font-size="7.6" fill="#222" textLength="13.9" lengthAdjust="spacingAndGlyphs">2022</text>
<line x1="309.03" y1="862" x2="309.03" y2="860.5" stroke="#777" stroke-width="0.8"/>
<text x="309.43" y="869.3" text-anchor="middle" font-family="Liberation Sans" font-weight="bold" font-size="7.6" fill="#222" textLength="13.9" lengthAdjust="spacingAndGlyphs">2024</text>
<line x1="326.46" y1="862" x2="326.46" y2="860.5" stroke="#777" stroke-width="0.8"/>
<text x="326.86" y="869.3" text-anchor="middle" font-family="Liberation Sans" font-weight="bold" font-size="7.6" fill="#222" textLength="13.9" lengthAdjust="spacingAndGlyphs">2026</text>
<line x1="343.89" y1="862" x2="343.89" y2="860.5" stroke="#777" stroke-width="0.8"/>
<text x="344.29" y="869.3" text-anchor="middle" font-family="Liberation Sans" font-weight="bold" font-size="7.6" fill="#222" textLength="13.9" lengthAdjust="spacingAndGlyphs">2028</text>
<line x1="361.32" y1="862" x2="361.32" y2="860.5" stroke="#777" stroke-width="0.8"/>
<text x="361.72" y="869.3" text-anchor="middle" font-family="Liberation Sans" font-weight="bold" font-size="7.6" fill="#222" textLength="13.9" lengthAdjust="spacingAndGlyphs">2030</text>
<line x1="378.75" y1="862" x2="378.75" y2="860.5" stroke="#777" stroke-width="0.8"/>
<text x="379.15" y="869.3" text-anchor="middle" font-family="Liberation Sans" font-weight="bold" font-size="7.6" fill="#222" textLength="13.9" lengthAdjust="spacingAndGlyphs">2032</text>
<line x1="396.18" y1="862" x2="396.18" y2="860.5" stroke="#777" stroke-width="0.8"/>
<text x="396.58" y="869.3" text-anchor="middle" font-family="Liberation Sans" font-weight="bold" font-size="7.6" fill="#222" textLength="13.9" lengthAdjust="spacingAndGlyphs">2034</text>
<path d="M428.7 775.6 L437.36 773.4 L446.02 784.4 L454.68 785.31 L463.35 786.22 L472.01 787.13 L480.67 788.04 L489.33 788.95 L497.99 789.85 L506.65 790.76 L515.32 791.67 L523.98 792.58 L532.64 793.49 L541.3 794.4 L541.3 812.6 L532.64 811.15 L523.98 809.69 L515.32 808.24 L506.65 806.78 L497.99 805.33 L489.33 803.87 L480.67 802.42 L472.01 800.96 L463.35 799.51 L454.68 798.05 L446.02 796.6 L437.36 779.6 L428.7 775.6Z" fill="#abe5f1" fill-opacity="0.5"/>
<path d="M428.7 775.6 L437.36 773.4 L446.02 784.4 L454.68 785.31 L463.35 786.22 L472.01 787.13 L480.67 788.04 L489.33 788.95 L497.99 789.85 L506.65 790.76 L515.32 791.67 L523.98 792.58 L532.64 793.49 L541.3 794.4" fill="none" stroke="#3a78a0" stroke-width="1.25" stroke-linejoin="round"/>
<path d="M428.7 775.6 L437.36 779.6 L446.02 796.6 L454.68 798.05 L463.35 799.51 L472.01 800.96 L480.67 802.42 L489.33 803.87 L497.99 805.33 L506.65 806.78 L515.32 808.24 L523.98 809.69 L532.64 811.15 L541.3 812.6 L541.3 839.6 L532.64 836.4 L523.98 833.2 L515.32 830 L506.65 826.8 L497.99 823.6 L489.33 820.4 L480.67 817.2 L472.01 814 L463.35 810.8 L454.68 807.6 L446.02 804.4 L437.36 784 L428.7 775.6Z" fill="#5de1f1" fill-opacity="0.5"/>
<path d="M428.7 775.6 L437.36 779.6 L446.02 796.6 L454.68 798.05 L463.35 799.51 L472.01 800.96 L480.67 802.42 L489.33 803.87 L497.99 805.33 L506.65 806.78 L515.32 808.24 L523.98 809.69 L532.64 811.15 L541.3 812.6" fill="none" stroke="#1e5068" stroke-width="1.25" stroke-linejoin="round"/>
<path d="M428.7 775.6 L437.36 784 L446.02 804.4 L454.68 807.6 L463.35 810.8 L472.01 814 L480.67 817.2 L489.33 820.4 L497.99 823.6 L506.65 826.8 L515.32 830 L523.98 833.2 L532.64 836.4 L541.3 839.6 L541.3 839.6 L532.64 836.4 L523.98 833.2 L515.32 830 L506.65 826.8 L497.99 823.6 L489.33 820.4 L480.67 817.2 L472.01 814 L463.35 810.8 L454.68 807.6 L446.02 804.4 L437.36 784 L428.7 775.6Z" fill="#eed8e6"/>
<path d="M428.7 775.6 L437.36 784 L446.02 804.4 L454.68 807.6 L463.35 810.8 L472.01 814 L480.67 817.2 L489.33 820.4 L497.99 823.6 L506.65 826.8 L515.32 830 L523.98 833.2 L532.64 836.4 L541.3 839.6" fill="none" stroke="#9c1a50" stroke-width="1.25" stroke-linejoin="round"/>
<path d="M428.7 775.6 L437.36 784 L446.02 804.4 L454.68 807.6 L463.35 810.8 L472.01 814 L480.67 817.2 L489.33 820.4 L497.99 823.6 L506.65 826.8 L515.32 830 L523.98 833.2 L532.64 836.4 L541.3 839.6 L541.3 854.4 L532.64 851 L523.98 847.6 L515.32 844.2 L506.65 840.8 L497.99 837.4 L489.33 834 L480.67 830.6 L472.01 827.2 L463.35 823.8 L454.68 820.4 L446.02 817 L437.36 791 L428.7 775.6Z" fill="#d5798b" fill-opacity="0.5"/>
<path d="M428.7 775.6 L437.36 784 L446.02 804.4 L454.68 807.6 L463.35 810.8 L472.01 814 L480.67 817.2 L489.33 820.4 L497.99 823.6 L506.65 826.8 L515.32 830 L523.98 833.2 L532.64 836.4 L541.3 839.6" fill="none" stroke="#741418" stroke-width="1.25" stroke-linejoin="round"/>
<path d="M428.7 775.6 L437.36 791 L446.02 817 L454.68 820.4 L463.35 823.8 L472.01 827.2 L480.67 830.6 L489.33 834 L497.99 837.4 L506.65 840.8 L515.32 844.2 L523.98 847.6 L532.64 851 L541.3 854.4 L541.3 854.4 L532.64 851 L523.98 847.6 L515.32 844.2 L506.65 840.8 L497.99 837.4 L489.33 834 L480.67 830.6 L472.01 827.2 L463.35 823.8 L454.68 820.4 L446.02 817 L437.36 791 L428.7 775.6Z" fill="#bbe5b1" fill-opacity="0.5"/>
<path d="M428.7 775.6 L437.36 791 L446.02 817 L454.68 820.4 L463.35 823.8 L472.01 827.2 L480.67 830.6 L489.33 834 L497.99 837.4 L506.65 840.8 L515.32 844.2 L523.98 847.6 L532.64 851 L541.3 854.4" fill="none" stroke="#1e5c24" stroke-width="1.25" stroke-linejoin="round"/>
<path d="M428.7 775.6 L437.36 791 L446.02 817 L454.68 820.4 L463.35 823.8 L472.01 827.2 L480.67 830.6 L489.33 834 L497.99 837.4 L506.65 840.8 L515.32 844.2 L523.98 847.6 L532.64 851 L541.3 854.4" fill="none" stroke="#4a8a30" stroke-width="1.25" stroke-linejoin="round"/>
<rect x="424.6" y="754.9" width="120.8" height="106.8" fill="none" stroke="#959595" stroke-width="1.2"/>
<rect x="424.6" y="754.9" width="120.8" height="9.7" fill="#c3c3c3" stroke="#9a9a9a" stroke-width="0.8"/>
<line x1="424.6" y1="764.6" x2="545.4" y2="764.6" stroke="#666" stroke-width="1"/>
<text x="485" y="762.4" text-anchor="middle" font-family="Liberation Sans" font-weight="bold" font-size="6.6" fill="#333" textLength="18" lengthAdjust="spacingAndGlyphs">Hunan</text>
<line x1="424.6" y1="764" x2="426.1" y2="764" stroke="#777" stroke-width="0.8"/>
<text x="423" y="766.8" text-anchor="end" font-family="Liberation Sans" font-weight="bold" font-size="6.6" fill="#222">0</text>
<line x1="424.6" y1="792" x2="426.1" y2="792" stroke="#777" stroke-width="0.8"/>
<text x="423" y="794.8" text-anchor="end" font-family="Liberation Sans" font-weight="bold" font-size="6.6" fill="#222">-2</text>
<line x1="424.6" y1="820" x2="426.1" y2="820" stroke="#777" stroke-width="0.8"/>
<text x="423" y="822.8" text-anchor="end" font-family="Liberation Sans" font-weight="bold" font-size="6.6" fill="#222">-4</text>
<line x1="424.6" y1="848" x2="426.1" y2="848" stroke="#777" stroke-width="0.8"/>
<text x="423" y="850.8" text-anchor="end" font-family="Liberation Sans" font-weight="bold" font-size="6.6" fill="#222">-6</text>
<line x1="428.7" y1="861.7" x2="428.7" y2="860.2" stroke="#777" stroke-width="0.8"/>
<text x="429.1" y="869" text-anchor="middle" font-family="Liberation Sans" font-weight="bold" font-size="7.6" fill="#222" textLength="13.9" lengthAdjust="spacingAndGlyphs">2022</text>
<line x1="446.02" y1="861.7" x2="446.02" y2="860.2" stroke="#777" stroke-width="0.8"/>
<text x="446.42" y="869" text-anchor="middle" font-family="Liberation Sans" font-weight="bold" font-size="7.6" fill="#222" textLength="13.9" lengthAdjust="spacingAndGlyphs">2024</text>
<line x1="463.35" y1="861.7" x2="463.35" y2="860.2" stroke="#777" stroke-width="0.8"/>
<text x="463.75" y="869" text-anchor="middle" font-family="Liberation Sans" font-weight="bold" font-size="7.6" fill="#222" textLength="13.9" lengthAdjust="spacingAndGlyphs">2026</text>
<line x1="480.67" y1="861.7" x2="480.67" y2="860.2" stroke="#777" stroke-width="0.8"/>
<text x="481.07" y="869" text-anchor="middle" font-family="Liberation Sans" font-weight="bold" font-size="7.6" fill="#222" textLength="13.9" lengthAdjust="spacingAndGlyphs">2028</text>
<line x1="497.99" y1="861.7" x2="497.99" y2="860.2" stroke="#777" stroke-width="0.8"/>
<text x="498.39" y="869" text-anchor="middle" font-family="Liberation Sans" font-weight="bold" font-size="7.6" fill="#222" textLength="13.9" lengthAdjust="spacingAndGlyphs">2030</text>
<line x1="515.32" y1="861.7" x2="515.32" y2="860.2" stroke="#777" stroke-width="0.8"/>
<text x="515.72" y="869" text-anchor="middle" font-family="Liberation Sans" font-weight="bold" font-size="7.6" fill="#222" textLength="13.9" lengthAdjust="spacingAndGlyphs">2032</text>
<line x1="532.64" y1="861.7" x2="532.64" y2="860.2" stroke="#777" stroke-width="0.8"/>
<text x="533.04" y="869" text-anchor="middle" font-family="Liberation Sans" font-weight="bold" font-size="7.6" fill="#222" textLength="13.9" lengthAdjust="spacingAndGlyphs">2034</text>
<path d="M565.5 775 L574.23 776 L582.96 776.4 L591.69 776.69 L600.42 776.98 L609.15 777.27 L617.88 777.56 L626.62 777.85 L635.35 778.15 L644.08 778.44 L652.81 778.73 L661.54 779.02 L670.27 779.31 L679 779.6 L679 796.4 L670.27 795.78 L661.54 795.16 L652.81 794.55 L644.08 793.93 L635.35 793.31 L626.62 792.69 L617.88 792.07 L609.15 791.45 L600.42 790.84 L591.69 790.22 L582.96 789.6 L574.23 788.4 L565.5 775Z" fill="#abe5f1" fill-opacity="0.5"/>
<path d="M565.5 775 L574.23 776 L582.96 776.4 L591.69 776.69 L600.42 776.98 L609.15 777.27 L617.88 777.56 L626.62 777.85 L635.35 778.15 L644.08 778.44 L652.81 778.73 L661.54 779.02 L670.27 779.31 L679 779.6" fill="none" stroke="#3a78a0" stroke-width="1.25" stroke-linejoin="round"/>
<path d="M565.5 775 L574.23 788.4 L582.96 789.6 L591.69 790.22 L600.42 790.84 L609.15 791.45 L617.88 792.07 L626.62 792.69 L635.35 793.31 L644.08 793.93 L652.81 794.55 L661.54 795.16 L670.27 795.78 L679 796.4 L679 808.4 L670.27 807.82 L661.54 807.24 L652.81 806.65 L644.08 806.07 L635.35 805.49 L626.62 804.91 L617.88 804.33 L609.15 803.75 L600.42 803.16 L591.69 802.58 L582.96 802 L574.23 801 L565.5 775Z" fill="#5de1f1" fill-opacity="0.5"/>
<path d="M565.5 775 L574.23 788.4 L582.96 789.6 L591.69 790.22 L600.42 790.84 L609.15 791.45 L617.88 792.07 L626.62 792.69 L635.35 793.31 L644.08 793.93 L652.81 794.55 L661.54 795.16 L670.27 795.78 L679 796.4" fill="none" stroke="#1e5068" stroke-width="1.25" stroke-linejoin="round"/>
<path d="M565.5 775 L574.23 801 L582.96 802 L591.69 802.58 L600.42 803.16 L609.15 803.75 L617.88 804.33 L626.62 804.91 L635.35 805.49 L644.08 806.07 L652.81 806.65 L661.54 807.24 L670.27 807.82 L679 808.4 L679 829.6 L670.27 827.75 L661.54 825.9 L652.81 824.05 L644.08 822.2 L635.35 820.35 L626.62 818.5 L617.88 815.72 L609.15 812.94 L600.42 810.16 L591.69 807.38 L582.96 804.6 L574.23 808.4 L565.5 775Z" fill="#eed8e6"/>
<path d="M565.5 775 L574.23 801 L582.96 802 L591.69 802.58 L600.42 803.16 L609.15 803.75 L617.88 804.33 L626.62 804.91 L635.35 805.49 L644.08 806.07 L652.81 806.65 L661.54 807.24 L670.27 807.82 L679 808.4" fill="none" stroke="#9c1a50" stroke-width="1.25" stroke-linejoin="round"/>
<path d="M565.5 775 L574.23 808.4 L582.96 804.6 L591.69 807.38 L600.42 810.16 L609.15 812.94 L617.88 815.72 L626.62 818.5 L635.35 820.35 L644.08 822.2 L652.81 824.05 L661.54 825.9 L670.27 827.75 L679 829.6 L679 845.6 L670.27 843.83 L661.54 842.07 L652.81 840.3 L644.08 838.53 L635.35 836.77 L626.62 835 L617.88 832.52 L609.15 830.04 L600.42 827.56 L591.69 825.08 L582.96 822.6 L574.23 829 L565.5 775Z" fill="#d5798b" fill-opacity="0.5"/>
<path d="M565.5 775 L574.23 808.4 L582.96 804.6 L591.69 807.38 L600.42 810.16 L609.15 812.94 L617.88 815.72 L626.62 818.5 L635.35 820.35 L644.08 822.2 L652.81 824.05 L661.54 825.9 L670.27 827.75 L679 829.6" fill="none" stroke="#741418" stroke-width="1.25" stroke-linejoin="round"/>
<path d="M565.5 775 L574.23 829 L582.96 822.6 L591.69 825.08 L600.42 827.56 L609.15 830.04 L617.88 832.52 L626.62 835 L635.35 836.77 L644.08 838.53 L652.81 840.3 L661.54 842.07 L670.27 843.83 L679 845.6 L679 852 L670.27 850.23 L661.54 848.47 L652.81 846.7 L644.08 844.93 L635.35 843.17 L626.62 841.4 L617.88 838.8 L609.15 836.2 L600.42 833.6 L591.69 831 L582.96 828.4 L574.23 836.4 L565.5 775Z" fill="#bbe5b1" fill-opacity="0.5"/>
<path d="M565.5 775 L574.23 836.4 L582.96 828.4 L591.69 831 L600.42 833.6 L609.15 836.2 L617.88 838.8 L626.62 841.4 L635.35 843.17 L644.08 844.93 L652.81 846.7 L661.54 848.47 L670.27 850.23 L679 852" fill="none" stroke="#1e5c24" stroke-width="1.25" stroke-linejoin="round"/>
<path d="M565.5 775 L574.23 829 L582.96 822.6 L591.69 825.08 L600.42 827.56 L609.15 830.04 L617.88 832.52 L626.62 835 L635.35 836.77 L644.08 838.53 L652.81 840.3 L661.54 842.07 L670.27 843.83 L679 845.6" fill="none" stroke="#4a8a30" stroke-width="1.25" stroke-linejoin="round"/>
<rect x="561.3" y="754.9" width="121.7" height="106.8" fill="none" stroke="#959595" stroke-width="1.2"/>
<rect x="561.3" y="754.9" width="121.7" height="9.7" fill="#c3c3c3" stroke="#9a9a9a" stroke-width="0.8"/>
<line x1="561.3" y1="764.6" x2="683" y2="764.6" stroke="#666" stroke-width="1"/>
<text x="622.15" y="762.4" text-anchor="middle" font-family="Liberation Sans" font-weight="bold" font-size="6.6" fill="#333" textLength="20" lengthAdjust="spacingAndGlyphs">Hainan</text>
<line x1="561.3" y1="764" x2="562.8" y2="764" stroke="#777" stroke-width="0.8"/>
<text x="559.7" y="766.8" text-anchor="end" font-family="Liberation Sans" font-weight="bold" font-size="6.6" fill="#222">0.0</text>
<line x1="561.3" y1="794" x2="562.8" y2="794" stroke="#777" stroke-width="0.8"/>
<text x="559.7" y="796.8" text-anchor="end" font-family="Liberation Sans" font-weight="bold" font-size="6.6" fill="#222">-0.4</text>
<line x1="561.3" y1="824" x2="562.8" y2="824" stroke="#777" stroke-width="0.8"/>
<text x="559.7" y="826.8" text-anchor="end" font-family="Liberation Sans" font-weight="bold" font-size="6.6" fill="#222">-0.8</text>
<line x1="561.3" y1="854" x2="562.8" y2="854" stroke="#777" stroke-width="0.8"/>
<text x="559.7" y="856.8" text-anchor="end" font-family="Liberation Sans" font-weight="bold" font-size="6.6" fill="#222">-1.2</text>
<line x1="565.5" y1="861.7" x2="565.5" y2="860.2" stroke="#777" stroke-width="0.8"/>
<text x="565.9" y="869" text-anchor="middle" font-family="Liberation Sans" font-weight="bold" font-size="7.6" fill="#222" textLength="13.9" lengthAdjust="spacingAndGlyphs">2022</text>
<line x1="582.96" y1="861.7" x2="582.96" y2="860.2" stroke="#777" stroke-width="0.8"/>
<text x="583.36" y="869" text-anchor="middle" font-family="Liberation Sans" font-weight="bold" font-size="7.6" fill="#222" textLength="13.9" lengthAdjust="spacingAndGlyphs">2024</text>
<line x1="600.42" y1="861.7" x2="600.42" y2="860.2" stroke="#777" stroke-width="0.8"/>
<text x="600.82" y="869" text-anchor="middle" font-family="Liberation Sans" font-weight="bold" font-size="7.6" fill="#222" textLength="13.9" lengthAdjust="spacingAndGlyphs">2026</text>
<line x1="617.88" y1="861.7" x2="617.88" y2="860.2" stroke="#777" stroke-width="0.8"/>
<text x="618.28" y="869" text-anchor="middle" font-family="Liberation Sans" font-weight="bold" font-size="7.6" fill="#222" textLength="13.9" lengthAdjust="spacingAndGlyphs">2028</text>
<line x1="635.35" y1="861.7" x2="635.35" y2="860.2" stroke="#777" stroke-width="0.8"/>
<text x="635.75" y="869" text-anchor="middle" font-family="Liberation Sans" font-weight="bold" font-size="7.6" fill="#222" textLength="13.9" lengthAdjust="spacingAndGlyphs">2030</text>
<line x1="652.81" y1="861.7" x2="652.81" y2="860.2" stroke="#777" stroke-width="0.8"/>
<text x="653.21" y="869" text-anchor="middle" font-family="Liberation Sans" font-weight="bold" font-size="7.6" fill="#222" textLength="13.9" lengthAdjust="spacingAndGlyphs">2032</text>
<line x1="670.27" y1="861.7" x2="670.27" y2="860.2" stroke="#777" stroke-width="0.8"/>
<text x="670.67" y="869" text-anchor="middle" font-family="Liberation Sans" font-weight="bold" font-size="7.6" fill="#222" textLength="13.9" lengthAdjust="spacingAndGlyphs">2034</text>
<rect x="9.4" y="874.5" width="673.8" height="16.5" fill="#fff" stroke="#888" stroke-width="1"/>
<line x1="10.9" y1="882.7" x2="30.8" y2="882.7" stroke="#3a78a0" stroke-width="1.6"/>
<text x="32.8" y="885.7" font-family="Liberation Sans" font-weight="bold" font-size="9.2" fill="#111" textLength="33.2" lengthAdjust="spacingAndGlyphs">Baseline</text>
<line x1="65.7" y1="882.7" x2="85.8" y2="882.7" stroke="#1e5068" stroke-width="1.6"/>
<text x="87.4" y="885.7" font-family="Liberation Sans" font-weight="bold" font-size="9.2" fill="#111" textLength="75.6" lengthAdjust="spacingAndGlyphs">Baseline + Option 1</text>
<line x1="163.8" y1="882.7" x2="183.7" y2="882.7" stroke="#9c1a50" stroke-width="1.6"/>
<text x="185.3" y="885.7" font-family="Liberation Sans" font-weight="bold" font-size="9.2" fill="#111" textLength="75.7" lengthAdjust="spacingAndGlyphs">Baseline + Option 2</text>
<line x1="261.6" y1="882.7" x2="280.8" y2="882.7" stroke="#741418" stroke-width="1.6"/>
<text x="282.4" y="885.7" font-family="Liberation Sans" font-weight="bold" font-size="9.2" fill="#111" textLength="53.6" lengthAdjust="spacingAndGlyphs">Classification</text>
<line x1="336.0" y1="882.7" x2="355.6" y2="882.7" stroke="#4a8a30" stroke-width="1.6"/>
<text x="357.2" y="885.7" font-family="Liberation Sans" font-weight="bold" font-size="9.2" fill="#111" textLength="95.2" lengthAdjust="spacingAndGlyphs">Classification + Option 1</text>
<line x1="453.2" y1="882.7" x2="472.8" y2="882.7" stroke="#1e5c24" stroke-width="1.6"/>
<text x="474.6" y="885.7" font-family="Liberation Sans" font-weight="bold" font-size="9.2" fill="#111" textLength="96.4" lengthAdjust="spacingAndGlyphs">Classification + Option 2</text>
<text x="589.7" y="885.7" font-family="Liberation Sans" font-weight="bold" font-size="9.2" fill="#111" textLength="76.9" lengthAdjust="spacingAndGlyphs">Unit: million tonnes</text>
<rect x="0" y="891" width="685" height="1" fill="#c8c8c8"/>
</svg>
</body></html>
